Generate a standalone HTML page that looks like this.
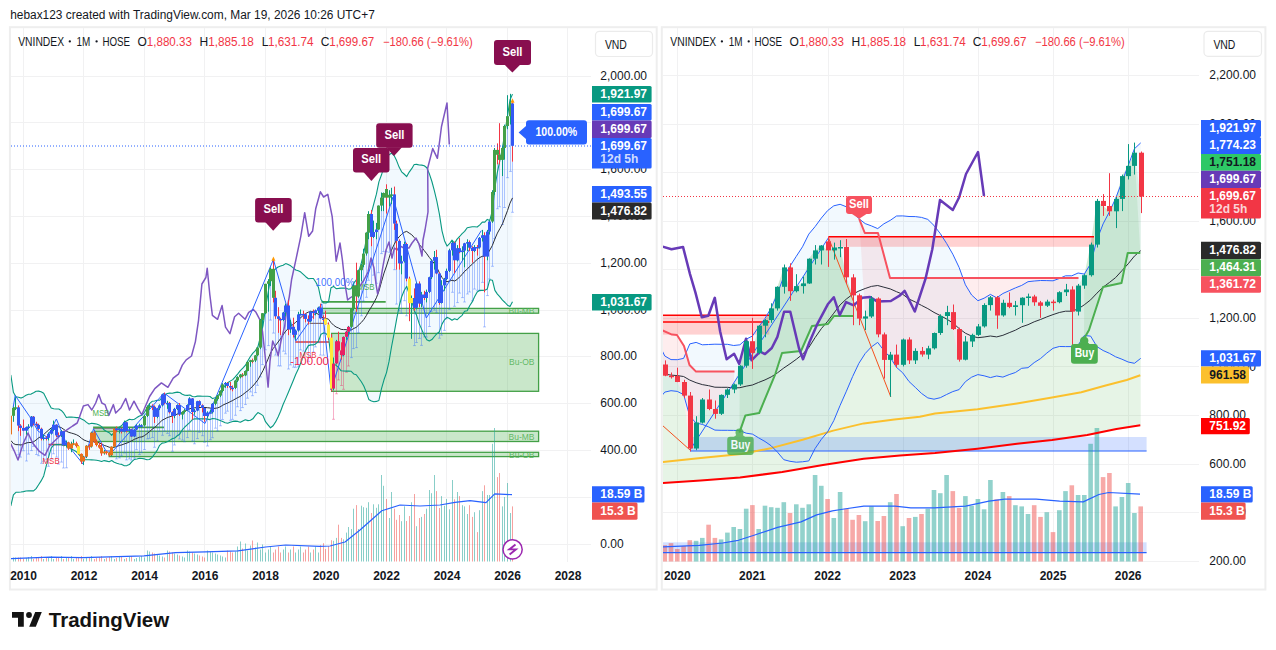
<!DOCTYPE html><html><head><meta charset="utf-8"><style>html,body{margin:0;padding:0;background:#fff;overflow:hidden}svg{display:block;font-family:"Liberation Sans",sans-serif}</style></head><body>
<svg width="1276" height="650" viewBox="0 0 1276 650">
<rect x="0.0" y="0.0" width="1276.0" height="650.0" fill="#ffffff" fill-opacity="1" />
<text x="10.2" y="18.8" font-size="12" fill="#131722" text-anchor="start" font-weight="normal" textLength="364.6" lengthAdjust="spacingAndGlyphs">hebax123 created with TradingView.com, Mar 19, 2026 10:26 UTC+7</text>
<rect x="9.9" y="27.2" width="646.8" height="562.3" fill="none" stroke="#eeeeee" stroke-width="2"/>
<rect x="661.8" y="27.2" width="603.6" height="562.3" fill="none" stroke="#eeeeee" stroke-width="2"/>
<clipPath id="cr"><rect x="663" y="28" width="536" height="534"/></clipPath>
<line x1="663.0" y1="561.5" x2="1199.0" y2="561.5" stroke="#f1f1f2" stroke-width="1" />
<line x1="663.0" y1="512.5" x2="1199.0" y2="512.5" stroke="#f1f1f2" stroke-width="1" />
<line x1="663.0" y1="464.5" x2="1199.0" y2="464.5" stroke="#f1f1f2" stroke-width="1" />
<line x1="663.0" y1="415.5" x2="1199.0" y2="415.5" stroke="#f1f1f2" stroke-width="1" />
<line x1="663.0" y1="366.5" x2="1199.0" y2="366.5" stroke="#f1f1f2" stroke-width="1" />
<line x1="663.0" y1="318.5" x2="1199.0" y2="318.5" stroke="#f1f1f2" stroke-width="1" />
<line x1="663.0" y1="269.5" x2="1199.0" y2="269.5" stroke="#f1f1f2" stroke-width="1" />
<line x1="663.0" y1="221.5" x2="1199.0" y2="221.5" stroke="#f1f1f2" stroke-width="1" />
<line x1="663.0" y1="172.5" x2="1199.0" y2="172.5" stroke="#f1f1f2" stroke-width="1" />
<line x1="663.0" y1="124.5" x2="1199.0" y2="124.5" stroke="#f1f1f2" stroke-width="1" />
<line x1="663.0" y1="75.5" x2="1199.0" y2="75.5" stroke="#f1f1f2" stroke-width="1" />
<line x1="677.5" y1="28.0" x2="677.5" y2="562.0" stroke="#f1f1f2" stroke-width="1" />
<line x1="752.5" y1="28.0" x2="752.5" y2="562.0" stroke="#f1f1f2" stroke-width="1" />
<line x1="828.5" y1="28.0" x2="828.5" y2="562.0" stroke="#f1f1f2" stroke-width="1" />
<line x1="903.5" y1="28.0" x2="903.5" y2="562.0" stroke="#f1f1f2" stroke-width="1" />
<line x1="978.5" y1="28.0" x2="978.5" y2="562.0" stroke="#f1f1f2" stroke-width="1" />
<line x1="1053.5" y1="28.0" x2="1053.5" y2="562.0" stroke="#f1f1f2" stroke-width="1" />
<line x1="1128.5" y1="28.0" x2="1128.5" y2="562.0" stroke="#f1f1f2" stroke-width="1" />
<g clip-path="url(#cr)">
<polygon points="658.5,343.3 664.8,356.0 671.0,359.6 677.3,359.7 683.6,358.4 689.8,343.9 696.1,342.4 702.3,344.8 708.6,344.5 714.9,344.2 721.1,344.3 727.4,344.3 733.7,345.5 739.9,344.8 746.2,339.2 752.4,336.0 758.7,326.9 765.0,318.4 771.2,307.9 777.5,293.5 783.8,276.3 790.0,266.2 796.3,256.3 802.5,246.8 808.8,234.1 815.1,226.6 821.3,218.1 827.6,210.6 833.8,205.8 840.1,204.3 846.4,206.8 852.6,211.9 858.9,218.7 865.2,223.6 871.4,225.9 877.7,228.6 883.9,223.8 890.2,220.4 896.5,216.0 902.7,215.9 909.0,216.5 915.3,216.6 921.5,217.4 927.8,219.4 934.0,225.5 940.3,233.6 946.6,243.4 952.8,254.2 959.1,267.4 965.4,284.8 971.6,295.0 977.9,300.7 984.1,298.2 990.4,294.4 996.7,297.8 1002.9,293.5 1009.2,290.7 1015.4,287.9 1021.7,285.4 1028.0,281.7 1034.2,281.0 1040.5,280.5 1046.8,280.6 1053.0,280.8 1059.3,278.5 1065.5,275.8 1071.8,275.8 1078.1,273.0 1084.3,274.1 1090.6,263.8 1096.9,239.9 1103.1,223.9 1109.4,211.8 1115.6,198.5 1121.9,182.1 1128.2,165.6 1134.4,148.8 1140.7,142.9 1140.7,358.4 1134.4,363.3 1128.2,362.0 1121.9,359.2 1115.6,356.8 1109.4,353.3 1103.1,350.5 1096.9,346.6 1090.6,336.1 1084.3,335.5 1078.1,345.1 1071.8,346.6 1065.5,346.6 1059.3,346.5 1053.0,348.3 1046.8,353.1 1040.5,358.6 1034.2,362.6 1028.0,367.7 1021.7,368.3 1015.4,372.5 1009.2,374.6 1002.9,377.1 996.7,376.0 990.4,377.6 984.1,375.8 977.9,374.6 971.6,377.2 965.4,381.7 959.1,389.6 952.8,391.6 946.6,394.5 940.3,397.7 934.0,399.2 927.8,397.9 921.5,393.4 915.3,387.4 909.0,381.5 902.7,372.8 896.5,367.4 890.2,357.4 883.9,350.5 877.7,342.4 871.4,346.9 865.2,353.5 858.9,363.3 852.6,376.6 846.4,391.2 840.1,405.4 833.8,420.6 827.6,431.9 821.3,439.4 815.1,448.5 808.8,460.9 802.5,461.8 796.3,462.2 790.0,461.3 783.8,459.7 777.5,452.2 771.2,445.8 765.0,441.5 758.7,437.9 752.4,434.1 746.2,433.2 739.9,430.6 733.7,430.4 727.4,430.3 721.1,430.3 714.9,430.1 708.6,426.9 702.3,424.4 696.1,423.0 689.8,416.3 683.6,394.6 677.3,391.4 671.0,390.7 664.8,392.1 658.5,399.7" fill="#2196f3" fill-opacity="0.06" />
<polygon points="658.5,364.5 664.8,375.7 671.0,375.9 677.3,382.0 683.6,395.6 689.8,448.5 696.1,422.5 702.3,399.5 708.6,409.0 714.9,413.8 721.1,394.9 727.4,389.5 733.7,384.4 739.9,365.7 746.2,341.2 752.4,352.9 758.7,325.7 765.0,320.1 771.2,308.4 777.5,286.8 783.8,267.4 790.0,291.2 796.3,286.1 802.5,283.4 808.8,258.7 815.1,250.4 821.3,245.5 827.6,250.4 833.8,247.5 840.1,247.0 846.4,277.4 852.6,295.3 858.9,318.6 865.2,316.4 871.4,298.5 877.7,334.4 883.9,359.9 890.2,354.6 896.5,364.8 902.7,339.5 909.0,360.4 915.3,350.9 921.5,354.6 927.8,348.3 934.0,333.0 940.3,316.0 946.6,312.1 952.8,329.1 959.1,359.7 965.4,341.5 971.6,334.9 977.9,326.4 984.1,305.0 990.4,297.3 996.7,315.5 1002.9,302.8 1009.2,307.0 1015.4,305.3 1021.7,297.7 1028.0,296.5 1034.2,302.4 1040.5,305.8 1046.8,301.6 1053.0,302.1 1059.3,292.2 1065.5,289.5 1071.8,311.6 1078.1,285.6 1084.3,275.2 1090.6,244.6 1096.9,200.9 1103.1,206.0 1109.4,211.3 1115.6,198.9 1121.9,176.1 1128.2,165.9 1134.4,152.7 1140.7,196.6 1140.7,425.3 1134.4,426.2 1128.2,427.2 1121.9,428.2 1115.6,429.3 1109.4,430.5 1103.1,431.8 1096.9,433.0 1090.6,434.3 1084.3,435.4 1078.1,436.3 1071.8,437.2 1065.5,438.1 1059.3,439.0 1053.0,439.9 1046.8,440.6 1040.5,441.2 1034.2,441.9 1028.0,442.6 1021.7,443.3 1015.4,444.0 1009.2,444.8 1002.9,445.5 996.7,446.3 990.4,447.1 984.1,447.9 977.9,448.7 971.6,449.3 965.4,450.0 959.1,450.6 952.8,451.3 946.6,451.9 940.3,452.6 934.0,453.2 927.8,453.6 921.5,454.1 915.3,454.5 909.0,455.0 902.7,455.4 896.5,455.9 890.2,456.4 883.9,457.0 877.7,457.5 871.4,458.0 865.2,458.6 858.9,459.4 852.6,460.4 846.4,461.4 840.1,462.4 833.8,463.3 827.6,464.3 821.3,465.3 815.1,466.4 808.8,467.4 802.5,468.5 796.3,469.6 790.0,470.7 783.8,471.7 777.5,472.6 771.2,473.4 765.0,474.2 758.7,475.1 752.4,475.9 746.2,476.7 739.9,477.5 733.7,478.0 727.4,478.5 721.1,478.9 714.9,479.4 708.6,479.9 702.3,480.4 696.1,480.8 689.8,481.2 683.6,481.7 677.3,482.1 671.0,482.5 664.8,482.9 658.5,483.5" fill="#4caf50" fill-opacity="0.14" />
<polygon points="655.0,328.0 662.3,330.4 672.0,334.6 677.0,335.0 684.0,346.0 689.5,365.0 696.0,371.6 734.5,371.6 733.7,384.4 727.4,389.5 721.1,394.9 714.9,413.8 708.6,409.0 702.3,399.5 696.1,422.5 689.8,448.5 683.6,395.6 677.3,382.0 671.0,375.9 664.8,375.7 658.5,364.5" fill="#f23645" fill-opacity="0.09" />
<polygon points="859.2,218.8 864.8,233.0 878.0,233.0 890.0,278.0 1078.5,278.0 1078.1,285.6 1071.8,311.6 1065.5,289.5 1059.3,292.2 1053.0,302.1 1046.8,301.6 1040.5,305.8 1034.2,302.4 1028.0,296.5 1021.7,297.7 1015.4,305.3 1009.2,307.0 1002.9,302.8 996.7,315.5 990.4,297.3 984.1,305.0 977.9,326.4 971.6,334.9 965.4,341.5 959.1,359.7 952.8,329.1 946.6,312.1 940.3,316.0 934.0,333.0 927.8,348.3 921.5,354.6 915.3,350.9 909.0,360.4 902.7,339.5 896.5,364.8 890.2,354.6 883.9,359.9 877.7,334.4 871.4,298.5 865.2,316.4" fill="#f23645" fill-opacity="0.09" />
<polygon points="739.4,432.6 745.4,415.4 759.2,413.0 775.4,373.8 782.0,353.0 801.0,351.0 812.0,326.0 828.0,324.0 834.0,316.0 853.6,316.0 852.6,295.3 846.4,277.4 840.1,247.0 833.8,247.5 827.6,250.4 821.3,245.5 815.1,250.4 808.8,258.7 802.5,283.4 796.3,286.1 790.0,291.2 783.8,267.4 777.5,286.8 771.2,308.4 765.0,320.1 758.7,325.7 752.4,352.9 746.2,341.2 739.9,365.7" fill="#4caf50" fill-opacity="0.12" />
<polygon points="1084.0,338.8 1089.0,330.0 1103.0,287.0 1121.5,283.0 1127.7,253.0 1140.3,253.0 1134.4,152.7 1128.2,165.9 1121.9,176.1 1115.6,198.9 1109.4,211.3 1103.1,206.0 1096.9,200.9 1090.6,244.6 1084.3,275.2" fill="#4caf50" fill-opacity="0.12" />
<rect x="662.0" y="315.2" width="107.3" height="19.4" fill="#ff0000" fill-opacity="0.18" />
<line x1="662.0" y1="315.2" x2="769.3" y2="315.2" stroke="#ff0000" stroke-width="1.5" />
<line x1="662.0" y1="322.1" x2="769.3" y2="322.1" stroke="#ff0000" stroke-width="1.5" />
<rect x="828.5" y="236.8" width="265.5" height="10.0" fill="#ff0000" fill-opacity="0.18" />
<line x1="828.5" y1="236.8" x2="1094.0" y2="236.8" stroke="#ff0000" stroke-width="1.5" />
<rect x="690.0" y="437.0" width="456.6" height="14.0" fill="#2962ff" fill-opacity="0.2" />
<line x1="690.0" y1="451.0" x2="1146.6" y2="451.0" stroke="#2962ff" stroke-width="1.2" />
<rect x="662.0" y="542.3" width="484.6" height="10.3" fill="#2962ff" fill-opacity="0.2" />
<rect x="662.5" y="545.2" width="4.6" height="16.3" fill="#ef5350" fill-opacity="0.5" />
<rect x="668.7" y="543.2" width="4.6" height="18.3" fill="#ef5350" fill-opacity="0.5" />
<rect x="675.0" y="549.0" width="4.6" height="12.5" fill="#ef5350" fill-opacity="0.5" />
<rect x="681.3" y="546.0" width="4.6" height="15.5" fill="#ef5350" fill-opacity="0.5" />
<rect x="687.5" y="540.2" width="4.6" height="21.3" fill="#ef5350" fill-opacity="0.5" />
<rect x="693.8" y="540.8" width="4.6" height="20.7" fill="#26a69a" fill-opacity="0.5" />
<rect x="700.0" y="537.9" width="4.6" height="23.6" fill="#26a69a" fill-opacity="0.5" />
<rect x="706.3" y="524.7" width="4.6" height="36.8" fill="#ef5350" fill-opacity="0.5" />
<rect x="712.6" y="537.9" width="4.6" height="23.6" fill="#ef5350" fill-opacity="0.5" />
<rect x="718.8" y="539.4" width="4.6" height="22.1" fill="#26a69a" fill-opacity="0.5" />
<rect x="725.1" y="532.6" width="4.6" height="28.9" fill="#26a69a" fill-opacity="0.5" />
<rect x="731.4" y="527.0" width="4.6" height="34.5" fill="#26a69a" fill-opacity="0.5" />
<rect x="737.6" y="529.0" width="4.6" height="32.5" fill="#26a69a" fill-opacity="0.5" />
<rect x="743.9" y="508.7" width="4.6" height="52.8" fill="#26a69a" fill-opacity="0.5" />
<rect x="750.1" y="505.1" width="4.6" height="56.4" fill="#ef5350" fill-opacity="0.5" />
<rect x="756.4" y="529.0" width="4.6" height="32.5" fill="#26a69a" fill-opacity="0.5" />
<rect x="762.7" y="505.7" width="4.6" height="55.8" fill="#26a69a" fill-opacity="0.5" />
<rect x="768.9" y="507.2" width="4.6" height="54.3" fill="#26a69a" fill-opacity="0.5" />
<rect x="775.2" y="507.8" width="4.6" height="53.7" fill="#26a69a" fill-opacity="0.5" />
<rect x="781.5" y="502.2" width="4.6" height="59.3" fill="#26a69a" fill-opacity="0.5" />
<rect x="787.7" y="513.0" width="4.6" height="48.5" fill="#ef5350" fill-opacity="0.5" />
<rect x="794.0" y="504.3" width="4.6" height="57.2" fill="#26a69a" fill-opacity="0.5" />
<rect x="800.2" y="507.8" width="4.6" height="53.7" fill="#26a69a" fill-opacity="0.5" />
<rect x="806.5" y="504.3" width="4.6" height="57.2" fill="#26a69a" fill-opacity="0.5" />
<rect x="812.8" y="475.0" width="4.6" height="86.5" fill="#26a69a" fill-opacity="0.5" />
<rect x="819.0" y="485.8" width="4.6" height="75.7" fill="#26a69a" fill-opacity="0.5" />
<rect x="825.3" y="499.0" width="4.6" height="62.5" fill="#ef5350" fill-opacity="0.5" />
<rect x="831.5" y="518.0" width="4.6" height="43.5" fill="#26a69a" fill-opacity="0.5" />
<rect x="837.8" y="492.0" width="4.6" height="69.5" fill="#26a69a" fill-opacity="0.5" />
<rect x="844.1" y="508.7" width="4.6" height="52.8" fill="#ef5350" fill-opacity="0.5" />
<rect x="850.3" y="519.8" width="4.6" height="41.7" fill="#ef5350" fill-opacity="0.5" />
<rect x="856.6" y="515.0" width="4.6" height="46.5" fill="#ef5350" fill-opacity="0.5" />
<rect x="862.9" y="521.2" width="4.6" height="40.3" fill="#26a69a" fill-opacity="0.5" />
<rect x="869.1" y="506.3" width="4.6" height="55.2" fill="#26a69a" fill-opacity="0.5" />
<rect x="875.4" y="521.0" width="4.6" height="40.5" fill="#ef5350" fill-opacity="0.5" />
<rect x="881.6" y="516.0" width="4.6" height="45.5" fill="#ef5350" fill-opacity="0.5" />
<rect x="887.9" y="502.2" width="4.6" height="59.3" fill="#26a69a" fill-opacity="0.5" />
<rect x="894.2" y="494.0" width="4.6" height="67.5" fill="#ef5350" fill-opacity="0.5" />
<rect x="900.4" y="526.2" width="4.6" height="35.3" fill="#26a69a" fill-opacity="0.5" />
<rect x="906.7" y="518.0" width="4.6" height="43.5" fill="#ef5350" fill-opacity="0.5" />
<rect x="913.0" y="516.9" width="4.6" height="44.6" fill="#26a69a" fill-opacity="0.5" />
<rect x="919.2" y="514.0" width="4.6" height="47.5" fill="#ef5350" fill-opacity="0.5" />
<rect x="925.5" y="508.7" width="4.6" height="52.8" fill="#26a69a" fill-opacity="0.5" />
<rect x="931.7" y="490.0" width="4.6" height="71.5" fill="#26a69a" fill-opacity="0.5" />
<rect x="938.0" y="493.2" width="4.6" height="68.3" fill="#26a69a" fill-opacity="0.5" />
<rect x="944.3" y="475.0" width="4.6" height="86.5" fill="#26a69a" fill-opacity="0.5" />
<rect x="950.5" y="491.1" width="4.6" height="70.4" fill="#ef5350" fill-opacity="0.5" />
<rect x="956.8" y="508.0" width="4.6" height="53.5" fill="#ef5350" fill-opacity="0.5" />
<rect x="963.1" y="496.1" width="4.6" height="65.4" fill="#26a69a" fill-opacity="0.5" />
<rect x="969.3" y="505.8" width="4.6" height="55.7" fill="#26a69a" fill-opacity="0.5" />
<rect x="975.6" y="499.0" width="4.6" height="62.5" fill="#26a69a" fill-opacity="0.5" />
<rect x="981.8" y="509.3" width="4.6" height="52.2" fill="#26a69a" fill-opacity="0.5" />
<rect x="988.1" y="480.0" width="4.6" height="81.5" fill="#26a69a" fill-opacity="0.5" />
<rect x="994.4" y="499.3" width="4.6" height="62.2" fill="#ef5350" fill-opacity="0.5" />
<rect x="1000.6" y="492.0" width="4.6" height="69.5" fill="#26a69a" fill-opacity="0.5" />
<rect x="1006.9" y="496.1" width="4.6" height="65.4" fill="#ef5350" fill-opacity="0.5" />
<rect x="1013.1" y="505.2" width="4.6" height="56.3" fill="#26a69a" fill-opacity="0.5" />
<rect x="1019.4" y="506.4" width="4.6" height="55.1" fill="#26a69a" fill-opacity="0.5" />
<rect x="1025.7" y="514.0" width="4.6" height="47.5" fill="#26a69a" fill-opacity="0.5" />
<rect x="1031.9" y="505.2" width="4.6" height="56.3" fill="#ef5350" fill-opacity="0.5" />
<rect x="1038.2" y="516.9" width="4.6" height="44.6" fill="#ef5350" fill-opacity="0.5" />
<rect x="1044.5" y="512.2" width="4.6" height="49.3" fill="#26a69a" fill-opacity="0.5" />
<rect x="1050.7" y="532.1" width="4.6" height="29.4" fill="#ef5350" fill-opacity="0.5" />
<rect x="1057.0" y="510.2" width="4.6" height="51.3" fill="#26a69a" fill-opacity="0.5" />
<rect x="1063.2" y="491.1" width="4.6" height="70.4" fill="#26a69a" fill-opacity="0.5" />
<rect x="1069.5" y="485.3" width="4.6" height="76.2" fill="#ef5350" fill-opacity="0.5" />
<rect x="1075.8" y="495.0" width="4.6" height="66.5" fill="#26a69a" fill-opacity="0.5" />
<rect x="1082.0" y="495.0" width="4.6" height="66.5" fill="#26a69a" fill-opacity="0.5" />
<rect x="1088.3" y="443.8" width="4.6" height="117.7" fill="#26a69a" fill-opacity="0.5" />
<rect x="1094.6" y="428.0" width="4.6" height="133.5" fill="#26a69a" fill-opacity="0.5" />
<rect x="1100.8" y="477.1" width="4.6" height="84.4" fill="#ef5350" fill-opacity="0.5" />
<rect x="1107.1" y="473.0" width="4.6" height="88.5" fill="#ef5350" fill-opacity="0.5" />
<rect x="1113.3" y="506.4" width="4.6" height="55.1" fill="#26a69a" fill-opacity="0.5" />
<rect x="1119.6" y="497.0" width="4.6" height="64.5" fill="#26a69a" fill-opacity="0.5" />
<rect x="1125.9" y="483.0" width="4.6" height="78.5" fill="#26a69a" fill-opacity="0.5" />
<rect x="1132.1" y="513.0" width="4.6" height="48.5" fill="#26a69a" fill-opacity="0.5" />
<rect x="1138.4" y="506.4" width="4.6" height="55.1" fill="#ef5350" fill-opacity="0.5" />
<polyline points="662.0,547.0 699.2,545.4 722.7,543.0 738.4,540.3 754.0,535.2 777.6,527.4 801.0,521.9 816.7,514.9 832.4,510.9 844.2,509.0 863.8,506.2 895.0,506.2 910.8,507.8 934.3,507.8 965.6,506.2 989.0,501.1 1004.8,499.2 1036.2,499.2 1059.7,501.1 1083.2,501.9 1098.9,494.5 1108.7,492.5 1140.0,494.1" fill="none" stroke="#2962ff" stroke-width="1.2" stroke-linejoin="round" />
<line x1="662.0" y1="552.6" x2="1146.6" y2="552.6" stroke="#2962ff" stroke-width="1.2" />
<polyline points="655.0,463.0 662.0,462.1 700.7,458.0 741.5,454.0 772.0,447.9 802.6,439.7 833.2,430.6 863.7,423.4 894.3,419.4 919.8,416.7 935.0,413.6 977.5,409.2 1017.0,403.4 1052.0,397.5 1081.3,392.3 1104.7,385.8 1126.7,380.0 1140.3,375.3" fill="none" stroke="#fbc02d" stroke-width="2" stroke-linejoin="round" />
<polyline points="655.0,484.0 662.0,483.1 700.7,480.5 740.0,477.5 782.2,472.0 823.0,465.0 863.7,458.7 900.0,455.6 935.0,453.1 977.5,448.7 1017.0,443.8 1052.0,440.0 1087.2,435.0 1116.4,429.1 1140.3,425.3" fill="none" stroke="#ff0000" stroke-width="2" stroke-linejoin="round" />
<polyline points="658.5,343.3 664.8,356.0 671.0,359.6 677.3,359.7 683.6,358.4 689.8,343.9 696.1,342.4 702.3,344.8 708.6,344.5 714.9,344.2 721.1,344.3 727.4,344.3 733.7,345.5 739.9,344.8 746.2,339.2 752.4,336.0 758.7,326.9 765.0,318.4 771.2,307.9 777.5,293.5 783.8,276.3 790.0,266.2 796.3,256.3 802.5,246.8 808.8,234.1 815.1,226.6 821.3,218.1 827.6,210.6 833.8,205.8 840.1,204.3 846.4,206.8 852.6,211.9 858.9,218.7 865.2,223.6 871.4,225.9 877.7,228.6 883.9,223.8 890.2,220.4 896.5,216.0 902.7,215.9 909.0,216.5 915.3,216.6 921.5,217.4 927.8,219.4 934.0,225.5 940.3,233.6 946.6,243.4 952.8,254.2 959.1,267.4 965.4,284.8 971.6,295.0 977.9,300.7 984.1,298.2 990.4,294.4 996.7,297.8 1002.9,293.5 1009.2,290.7 1015.4,287.9 1021.7,285.4 1028.0,281.7 1034.2,281.0 1040.5,280.5 1046.8,280.6 1053.0,280.8 1059.3,278.5 1065.5,275.8 1071.8,275.8 1078.1,273.0 1084.3,274.1 1090.6,263.8 1096.9,239.9 1103.1,223.9 1109.4,211.8 1115.6,198.5 1121.9,182.1 1128.2,165.6 1134.4,148.8 1140.7,142.9" fill="none" stroke="#2962ff" stroke-width="1" stroke-linejoin="round" />
<polyline points="658.5,399.7 664.8,392.1 671.0,390.7 677.3,391.4 683.6,394.6 689.8,416.3 696.1,423.0 702.3,424.4 708.6,426.9 714.9,430.1 721.1,430.3 727.4,430.3 733.7,430.4 739.9,430.6 746.2,433.2 752.4,434.1 758.7,437.9 765.0,441.5 771.2,445.8 777.5,452.2 783.8,459.7 790.0,461.3 796.3,462.2 802.5,461.8 808.8,460.9 815.1,448.5 821.3,439.4 827.6,431.9 833.8,420.6 840.1,405.4 846.4,391.2 852.6,376.6 858.9,363.3 865.2,353.5 871.4,346.9 877.7,342.4 883.9,350.5 890.2,357.4 896.5,367.4 902.7,372.8 909.0,381.5 915.3,387.4 921.5,393.4 927.8,397.9 934.0,399.2 940.3,397.7 946.6,394.5 952.8,391.6 959.1,389.6 965.4,381.7 971.6,377.2 977.9,374.6 984.1,375.8 990.4,377.6 996.7,376.0 1002.9,377.1 1009.2,374.6 1015.4,372.5 1021.7,368.3 1028.0,367.7 1034.2,362.6 1040.5,358.6 1046.8,353.1 1053.0,348.3 1059.3,346.5 1065.5,346.6 1071.8,346.6 1078.1,345.1 1084.3,335.5 1090.6,336.1 1096.9,346.6 1103.1,350.5 1109.4,353.3 1115.6,356.8 1121.9,359.2 1128.2,362.0 1134.4,363.3 1140.7,358.4" fill="none" stroke="#2962ff" stroke-width="1" stroke-linejoin="round" />
<polyline points="658.5,371.5 664.8,374.1 671.0,375.1 677.3,375.6 683.6,376.5 689.8,380.1 696.1,382.7 702.3,384.6 708.6,385.7 714.9,387.2 721.1,387.3 727.4,387.3 733.7,388.0 739.9,387.7 746.2,386.2 752.4,385.0 758.7,382.4 765.0,379.9 771.2,376.9 777.5,372.8 783.8,368.0 790.0,363.8 796.3,359.3 802.5,354.3 808.8,347.5 815.1,337.6 821.3,328.7 827.6,321.3 833.8,313.2 840.1,304.9 846.4,299.0 852.6,294.3 858.9,291.0 865.2,288.5 871.4,286.4 877.7,285.5 883.9,287.2 890.2,288.9 896.5,291.7 902.7,294.3 909.0,299.0 915.3,302.0 921.5,305.4 927.8,308.6 934.0,312.4 940.3,315.6 946.6,319.0 952.8,322.9 959.1,328.5 965.4,333.2 971.6,336.1 977.9,337.7 984.1,337.0 990.4,336.0 996.7,336.9 1002.9,335.3 1009.2,332.7 1015.4,330.2 1021.7,326.8 1028.0,324.7 1034.2,321.8 1040.5,319.5 1046.8,316.9 1053.0,314.6 1059.3,312.5 1065.5,311.2 1071.8,311.2 1078.1,309.0 1084.3,304.8 1090.6,299.9 1096.9,293.2 1103.1,287.2 1109.4,282.5 1115.6,277.6 1121.9,270.7 1128.2,263.8 1134.4,256.1 1140.7,250.7" fill="none" stroke="#2a2e39" stroke-width="1" stroke-linejoin="round" />
<polyline points="655.0,328.0 662.3,330.4 672.0,334.6 677.0,335.0 684.0,346.0 689.5,365.0 696.0,371.6 734.5,371.6" fill="none" stroke="#f7525f" stroke-width="2" stroke-linejoin="round" />
<polyline points="859.2,218.8 864.8,233.0 878.0,233.0 890.0,278.0 1078.5,278.0" fill="none" stroke="#f7525f" stroke-width="2" stroke-linejoin="round" />
<polyline points="739.4,432.6 745.4,415.4 759.2,413.0 775.4,373.8 782.0,353.0 801.0,351.0 812.0,326.0 828.0,324.0 834.0,316.0 853.6,316.0" fill="none" stroke="#4caf50" stroke-width="2" stroke-linejoin="round" />
<polyline points="1084.0,338.8 1089.0,330.0 1103.0,287.0 1121.5,283.0 1127.7,253.0 1140.3,253.0" fill="none" stroke="#4caf50" stroke-width="2" stroke-linejoin="round" />
<polyline points="655.0,419.0 662.3,425.3 690.0,450.0" fill="none" stroke="#f4511e" stroke-width="1" stroke-linejoin="round" />
<polyline points="690.0,450.0 828.5,237.7" fill="none" stroke="#2962ff" stroke-width="1" stroke-linejoin="round" />
<polyline points="828.5,237.7 890.8,396.9" fill="none" stroke="#f4511e" stroke-width="1" stroke-linejoin="round" />
<polyline points="662.0,246.5 671.5,249.2 683.0,246.9 690.0,274.1 695.4,292.4 701.8,317.2 708.3,315.7 714.8,297.8 720.1,331.2 726.6,359.2 734.1,353.8 739.2,364.0 746.0,338.7 751.5,360.3 760.1,351.7 765.0,354.1 771.8,348.0 777.4,336.9 784.1,311.7 790.3,311.7 798.9,348.0 803.0,359.2 809.5,342.0 817.0,324.7 827.8,304.3 833.8,297.2 839.7,315.1 846.1,302.1 853.7,305.4 862.3,297.8 870.0,297.0 877.0,301.4 890.8,301.0 900.0,295.4 904.6,290.8 914.8,311.5 925.4,279.2 932.3,249.2 940.0,200.0 952.8,210.0 959.2,197.2 966.0,174.0 978.0,152.0 984.0,196.0" fill="none" stroke="#673ab7" stroke-width="2.5" stroke-linejoin="round" />
<line x1="659.5" y1="363.5" x2="659.5" y2="370.1" stroke="#089981" stroke-width="1" />
<rect x="657.0" y="364.5" width="5.0" height="2.9" fill="#089981" fill-opacity="1" />
<line x1="665.5" y1="360.4" x2="665.5" y2="376.2" stroke="#f23645" stroke-width="1" />
<rect x="663.0" y="364.5" width="5.0" height="11.2" fill="#f23645" fill-opacity="1" />
<line x1="671.5" y1="372.5" x2="671.5" y2="378.6" stroke="#f23645" stroke-width="1" />
<rect x="669.0" y="375.7" width="5.0" height="1.5" fill="#f23645" fill-opacity="1" />
<line x1="677.5" y1="367.7" x2="677.5" y2="382.2" stroke="#f23645" stroke-width="1" />
<rect x="675.0" y="375.9" width="5.0" height="6.1" fill="#f23645" fill-opacity="1" />
<line x1="684.5" y1="379.8" x2="684.5" y2="398.0" stroke="#f23645" stroke-width="1" />
<rect x="682.0" y="382.0" width="5.0" height="13.6" fill="#f23645" fill-opacity="1" />
<line x1="690.5" y1="392.0" x2="690.5" y2="451.4" stroke="#f23645" stroke-width="1" />
<rect x="688.0" y="395.6" width="5.0" height="52.9" fill="#f23645" fill-opacity="1" />
<line x1="696.5" y1="416.2" x2="696.5" y2="450.2" stroke="#089981" stroke-width="1" />
<rect x="694.0" y="422.5" width="5.0" height="26.0" fill="#089981" fill-opacity="1" />
<line x1="702.5" y1="398.0" x2="702.5" y2="423.5" stroke="#089981" stroke-width="1" />
<rect x="700.0" y="399.5" width="5.0" height="23.1" fill="#089981" fill-opacity="1" />
<line x1="709.5" y1="389.5" x2="709.5" y2="410.2" stroke="#f23645" stroke-width="1" />
<rect x="707.0" y="399.5" width="5.0" height="9.5" fill="#f23645" fill-opacity="1" />
<line x1="715.5" y1="400.5" x2="715.5" y2="418.7" stroke="#f23645" stroke-width="1" />
<rect x="713.0" y="409.0" width="5.0" height="4.9" fill="#f23645" fill-opacity="1" />
<line x1="721.5" y1="394.4" x2="721.5" y2="415.0" stroke="#089981" stroke-width="1" />
<rect x="719.0" y="394.9" width="5.0" height="18.9" fill="#089981" fill-opacity="1" />
<line x1="727.5" y1="388.3" x2="727.5" y2="398.0" stroke="#089981" stroke-width="1" />
<rect x="725.0" y="389.5" width="5.0" height="5.3" fill="#089981" fill-opacity="1" />
<line x1="734.5" y1="383.5" x2="734.5" y2="393.2" stroke="#089981" stroke-width="1" />
<rect x="732.0" y="384.4" width="5.0" height="5.1" fill="#089981" fill-opacity="1" />
<line x1="740.5" y1="365.2" x2="740.5" y2="385.9" stroke="#089981" stroke-width="1" />
<rect x="738.0" y="365.7" width="5.0" height="18.7" fill="#089981" fill-opacity="1" />
<line x1="746.5" y1="339.8" x2="746.5" y2="367.7" stroke="#089981" stroke-width="1" />
<rect x="744.0" y="341.2" width="5.0" height="24.5" fill="#089981" fill-opacity="1" />
<line x1="752.5" y1="317.9" x2="752.5" y2="368.9" stroke="#f23645" stroke-width="1" />
<rect x="750.0" y="341.2" width="5.0" height="11.7" fill="#f23645" fill-opacity="1" />
<line x1="759.5" y1="325.2" x2="759.5" y2="354.3" stroke="#089981" stroke-width="1" />
<rect x="757.0" y="325.7" width="5.0" height="27.2" fill="#089981" fill-opacity="1" />
<line x1="765.5" y1="319.1" x2="765.5" y2="337.3" stroke="#089981" stroke-width="1" />
<rect x="763.0" y="320.1" width="5.0" height="5.6" fill="#089981" fill-opacity="1" />
<line x1="771.5" y1="303.3" x2="771.5" y2="322.8" stroke="#089981" stroke-width="1" />
<rect x="769.0" y="308.4" width="5.0" height="11.7" fill="#089981" fill-opacity="1" />
<line x1="777.5" y1="286.3" x2="777.5" y2="310.6" stroke="#089981" stroke-width="1" />
<rect x="775.0" y="286.8" width="5.0" height="21.6" fill="#089981" fill-opacity="1" />
<line x1="784.5" y1="264.5" x2="784.5" y2="293.6" stroke="#089981" stroke-width="1" />
<rect x="782.0" y="267.4" width="5.0" height="19.4" fill="#089981" fill-opacity="1" />
<line x1="790.5" y1="263.3" x2="790.5" y2="300.9" stroke="#f23645" stroke-width="1" />
<rect x="788.0" y="267.4" width="5.0" height="23.8" fill="#f23645" fill-opacity="1" />
<line x1="796.5" y1="274.2" x2="796.5" y2="292.4" stroke="#089981" stroke-width="1" />
<rect x="794.0" y="286.1" width="5.0" height="5.1" fill="#089981" fill-opacity="1" />
<line x1="803.5" y1="276.6" x2="803.5" y2="293.6" stroke="#089981" stroke-width="1" />
<rect x="801.0" y="283.4" width="5.0" height="2.7" fill="#089981" fill-opacity="1" />
<line x1="809.5" y1="258.4" x2="809.5" y2="283.9" stroke="#089981" stroke-width="1" />
<rect x="807.0" y="258.7" width="5.0" height="24.8" fill="#089981" fill-opacity="1" />
<line x1="815.5" y1="245.1" x2="815.5" y2="264.5" stroke="#089981" stroke-width="1" />
<rect x="813.0" y="250.4" width="5.0" height="8.3" fill="#089981" fill-opacity="1" />
<line x1="821.5" y1="245.1" x2="821.5" y2="264.5" stroke="#089981" stroke-width="1" />
<rect x="819.0" y="245.5" width="5.0" height="4.9" fill="#089981" fill-opacity="1" />
<line x1="828.5" y1="236.6" x2="828.5" y2="266.9" stroke="#f23645" stroke-width="1" />
<rect x="826.0" y="241.4" width="5.0" height="9.0" fill="#f23645" fill-opacity="1" />
<line x1="834.5" y1="242.6" x2="834.5" y2="259.6" stroke="#089981" stroke-width="1" />
<rect x="832.0" y="247.5" width="5.0" height="2.9" fill="#089981" fill-opacity="1" />
<line x1="840.5" y1="240.2" x2="840.5" y2="257.2" stroke="#089981" stroke-width="1" />
<rect x="838.0" y="247.0" width="5.0" height="1.5" fill="#089981" fill-opacity="1" />
<line x1="846.5" y1="239.0" x2="846.5" y2="283.9" stroke="#f23645" stroke-width="1" />
<rect x="844.0" y="247.0" width="5.0" height="30.3" fill="#f23645" fill-opacity="1" />
<line x1="853.5" y1="274.2" x2="853.5" y2="325.2" stroke="#f23645" stroke-width="1" />
<rect x="851.0" y="277.4" width="5.0" height="18.0" fill="#f23645" fill-opacity="1" />
<line x1="859.5" y1="293.6" x2="859.5" y2="325.2" stroke="#f23645" stroke-width="1" />
<rect x="857.0" y="295.3" width="5.0" height="23.3" fill="#f23645" fill-opacity="1" />
<line x1="865.5" y1="310.6" x2="865.5" y2="330.0" stroke="#089981" stroke-width="1" />
<rect x="863.0" y="316.4" width="5.0" height="2.2" fill="#089981" fill-opacity="1" />
<line x1="871.5" y1="296.0" x2="871.5" y2="317.9" stroke="#089981" stroke-width="1" />
<rect x="869.0" y="298.5" width="5.0" height="18.0" fill="#089981" fill-opacity="1" />
<line x1="878.5" y1="297.3" x2="878.5" y2="337.3" stroke="#f23645" stroke-width="1" />
<rect x="876.0" y="298.5" width="5.0" height="35.9" fill="#f23645" fill-opacity="1" />
<line x1="884.5" y1="332.5" x2="884.5" y2="378.6" stroke="#f23645" stroke-width="1" />
<rect x="882.0" y="334.4" width="5.0" height="25.5" fill="#f23645" fill-opacity="1" />
<line x1="890.5" y1="351.9" x2="890.5" y2="396.8" stroke="#089981" stroke-width="1" />
<rect x="888.0" y="354.6" width="5.0" height="5.3" fill="#089981" fill-opacity="1" />
<line x1="896.5" y1="344.6" x2="896.5" y2="367.7" stroke="#f23645" stroke-width="1" />
<rect x="894.0" y="354.6" width="5.0" height="10.2" fill="#f23645" fill-opacity="1" />
<line x1="903.5" y1="338.5" x2="903.5" y2="366.5" stroke="#089981" stroke-width="1" />
<rect x="901.0" y="339.5" width="5.0" height="25.3" fill="#089981" fill-opacity="1" />
<line x1="909.5" y1="337.3" x2="909.5" y2="364.0" stroke="#f23645" stroke-width="1" />
<rect x="907.0" y="339.5" width="5.0" height="20.9" fill="#f23645" fill-opacity="1" />
<line x1="915.5" y1="348.3" x2="915.5" y2="364.0" stroke="#089981" stroke-width="1" />
<rect x="913.0" y="350.9" width="5.0" height="9.5" fill="#089981" fill-opacity="1" />
<line x1="922.5" y1="347.0" x2="922.5" y2="356.7" stroke="#f23645" stroke-width="1" />
<rect x="920.0" y="350.9" width="5.0" height="3.6" fill="#f23645" fill-opacity="1" />
<line x1="928.5" y1="345.8" x2="928.5" y2="359.2" stroke="#089981" stroke-width="1" />
<rect x="926.0" y="348.3" width="5.0" height="6.3" fill="#089981" fill-opacity="1" />
<line x1="934.5" y1="332.5" x2="934.5" y2="349.5" stroke="#089981" stroke-width="1" />
<rect x="932.0" y="333.0" width="5.0" height="15.3" fill="#089981" fill-opacity="1" />
<line x1="940.5" y1="314.3" x2="940.5" y2="334.9" stroke="#089981" stroke-width="1" />
<rect x="938.0" y="316.0" width="5.0" height="17.0" fill="#089981" fill-opacity="1" />
<line x1="947.5" y1="305.8" x2="947.5" y2="325.2" stroke="#089981" stroke-width="1" />
<rect x="945.0" y="312.1" width="5.0" height="3.9" fill="#089981" fill-opacity="1" />
<line x1="953.5" y1="304.5" x2="953.5" y2="330.0" stroke="#f23645" stroke-width="1" />
<rect x="951.0" y="312.1" width="5.0" height="17.0" fill="#f23645" fill-opacity="1" />
<line x1="959.5" y1="327.6" x2="959.5" y2="361.6" stroke="#f23645" stroke-width="1" />
<rect x="957.0" y="329.1" width="5.0" height="30.6" fill="#f23645" fill-opacity="1" />
<line x1="965.5" y1="336.1" x2="965.5" y2="360.4" stroke="#089981" stroke-width="1" />
<rect x="963.0" y="341.5" width="5.0" height="18.2" fill="#089981" fill-opacity="1" />
<line x1="972.5" y1="333.7" x2="972.5" y2="347.0" stroke="#089981" stroke-width="1" />
<rect x="970.0" y="334.9" width="5.0" height="6.6" fill="#089981" fill-opacity="1" />
<line x1="978.5" y1="324.0" x2="978.5" y2="336.1" stroke="#089981" stroke-width="1" />
<rect x="976.0" y="326.4" width="5.0" height="8.5" fill="#089981" fill-opacity="1" />
<line x1="984.5" y1="303.3" x2="984.5" y2="327.6" stroke="#089981" stroke-width="1" />
<rect x="982.0" y="305.0" width="5.0" height="21.4" fill="#089981" fill-opacity="1" />
<line x1="990.5" y1="296.0" x2="990.5" y2="310.6" stroke="#089981" stroke-width="1" />
<rect x="988.0" y="297.3" width="5.0" height="7.8" fill="#089981" fill-opacity="1" />
<line x1="997.5" y1="296.0" x2="997.5" y2="328.8" stroke="#f23645" stroke-width="1" />
<rect x="995.0" y="297.3" width="5.0" height="18.2" fill="#f23645" fill-opacity="1" />
<line x1="1003.5" y1="299.7" x2="1003.5" y2="316.7" stroke="#089981" stroke-width="1" />
<rect x="1001.0" y="302.8" width="5.0" height="12.6" fill="#089981" fill-opacity="1" />
<line x1="1009.5" y1="292.4" x2="1009.5" y2="308.2" stroke="#f23645" stroke-width="1" />
<rect x="1007.0" y="302.8" width="5.0" height="4.1" fill="#f23645" fill-opacity="1" />
<line x1="1015.5" y1="300.9" x2="1015.5" y2="315.5" stroke="#089981" stroke-width="1" />
<rect x="1013.0" y="305.3" width="5.0" height="1.7" fill="#089981" fill-opacity="1" />
<line x1="1022.5" y1="297.3" x2="1022.5" y2="322.8" stroke="#089981" stroke-width="1" />
<rect x="1020.0" y="297.7" width="5.0" height="7.5" fill="#089981" fill-opacity="1" />
<line x1="1028.5" y1="293.6" x2="1028.5" y2="305.8" stroke="#089981" stroke-width="1" />
<rect x="1026.0" y="296.5" width="5.0" height="1.5" fill="#089981" fill-opacity="1" />
<line x1="1034.5" y1="294.8" x2="1034.5" y2="305.8" stroke="#f23645" stroke-width="1" />
<rect x="1032.0" y="296.5" width="5.0" height="5.8" fill="#f23645" fill-opacity="1" />
<line x1="1040.5" y1="300.9" x2="1040.5" y2="317.9" stroke="#f23645" stroke-width="1" />
<rect x="1038.0" y="302.4" width="5.0" height="3.4" fill="#f23645" fill-opacity="1" />
<line x1="1047.5" y1="299.7" x2="1047.5" y2="307.0" stroke="#089981" stroke-width="1" />
<rect x="1045.0" y="301.6" width="5.0" height="4.1" fill="#089981" fill-opacity="1" />
<line x1="1053.5" y1="299.7" x2="1053.5" y2="310.6" stroke="#f23645" stroke-width="1" />
<rect x="1051.0" y="301.6" width="5.0" height="1.5" fill="#f23645" fill-opacity="1" />
<line x1="1059.5" y1="291.2" x2="1059.5" y2="303.3" stroke="#089981" stroke-width="1" />
<rect x="1057.0" y="292.2" width="5.0" height="10.0" fill="#089981" fill-opacity="1" />
<line x1="1066.5" y1="283.9" x2="1066.5" y2="296.0" stroke="#089981" stroke-width="1" />
<rect x="1064.0" y="289.5" width="5.0" height="2.7" fill="#089981" fill-opacity="1" />
<line x1="1072.5" y1="286.3" x2="1072.5" y2="348.7" stroke="#f23645" stroke-width="1" />
<rect x="1070.0" y="289.5" width="5.0" height="22.1" fill="#f23645" fill-opacity="1" />
<line x1="1078.5" y1="283.9" x2="1078.5" y2="315.5" stroke="#089981" stroke-width="1" />
<rect x="1076.0" y="285.6" width="5.0" height="26.0" fill="#089981" fill-opacity="1" />
<line x1="1084.5" y1="274.2" x2="1084.5" y2="288.8" stroke="#089981" stroke-width="1" />
<rect x="1082.0" y="275.2" width="5.0" height="10.4" fill="#089981" fill-opacity="1" />
<line x1="1091.5" y1="242.6" x2="1091.5" y2="276.6" stroke="#089981" stroke-width="1" />
<rect x="1089.0" y="244.6" width="5.0" height="30.6" fill="#089981" fill-opacity="1" />
<line x1="1097.5" y1="198.9" x2="1097.5" y2="247.5" stroke="#089981" stroke-width="1" />
<rect x="1095.0" y="200.9" width="5.0" height="43.7" fill="#089981" fill-opacity="1" />
<line x1="1103.5" y1="194.1" x2="1103.5" y2="215.9" stroke="#f23645" stroke-width="1" />
<rect x="1101.0" y="200.9" width="5.0" height="5.1" fill="#f23645" fill-opacity="1" />
<line x1="1109.5" y1="173.2" x2="1109.5" y2="215.9" stroke="#f23645" stroke-width="1" />
<rect x="1107.0" y="206.0" width="5.0" height="5.3" fill="#f23645" fill-opacity="1" />
<line x1="1116.5" y1="196.5" x2="1116.5" y2="228.1" stroke="#089981" stroke-width="1" />
<rect x="1114.0" y="198.9" width="5.0" height="12.4" fill="#089981" fill-opacity="1" />
<line x1="1122.5" y1="174.6" x2="1122.5" y2="211.1" stroke="#089981" stroke-width="1" />
<rect x="1120.0" y="176.1" width="5.0" height="22.8" fill="#089981" fill-opacity="1" />
<line x1="1128.5" y1="144.1" x2="1128.5" y2="179.5" stroke="#089981" stroke-width="1" />
<rect x="1126.0" y="165.9" width="5.0" height="10.2" fill="#089981" fill-opacity="1" />
<line x1="1134.5" y1="142.6" x2="1134.5" y2="174.6" stroke="#089981" stroke-width="1" />
<rect x="1132.0" y="152.7" width="5.0" height="13.2" fill="#089981" fill-opacity="1" />
<line x1="1141.5" y1="151.5" x2="1141.5" y2="213.1" stroke="#f23645" stroke-width="1" />
<rect x="1139.0" y="152.7" width="5.0" height="43.9" fill="#f23645" fill-opacity="1" />
</g>
<line x1="663" y1="196.5" x2="1199" y2="196.5" stroke="#f23645" stroke-width="1" stroke-dasharray="1 2"/>
<rect x="846.0" y="196.0" width="26.0" height="18.0" rx="3" fill="#f7525f"/>
<polygon points="851.2,213.5 867.2,213.5 859.2,218.8" fill="#f7525f"/>
<text x="859.0" y="208.1" font-size="12" fill="#fff" text-anchor="middle" font-weight="bold" textLength="20" lengthAdjust="spacingAndGlyphs">Sell</text>
<g opacity="0.8">
<rect x="727.2" y="436.7" width="26.5" height="18.3" rx="3" fill="#4caf50"/>
<polygon points="733.5,437.2 745.5,437.2 739.5,432.6" fill="#4caf50"/>
<text x="740.45" y="448.95000000000005" font-size="12" fill="#fff" text-anchor="middle" font-weight="bold" textLength="19.5" lengthAdjust="spacingAndGlyphs">Buy</text>
<circle cx="739.5" cy="432.6" r="4" fill="#4caf50"/></g>
<g>
<rect x="1071.0" y="344.0" width="26.8" height="19.7" rx="3" fill="#4caf50"/>
<polygon points="1078.0,344.5 1090.0,344.5 1084.0,338.8" fill="#4caf50"/>
<text x="1084.4" y="356.95000000000005" font-size="12" fill="#fff" text-anchor="middle" font-weight="bold" textLength="19.5" lengthAdjust="spacingAndGlyphs">Buy</text>
<circle cx="1084.2" cy="340.7" r="4.2" fill="#4caf50"/></g>
<text x="670.3" y="45.7" font-size="12" fill="#131722" text-anchor="start" font-weight="normal" textLength="45.9" lengthAdjust="spacingAndGlyphs">VNINDEX</text>
<text x="728.7" y="45.7" font-size="12" fill="#131722" text-anchor="start" font-weight="normal" textLength="13.8" lengthAdjust="spacingAndGlyphs">1M</text>
<text x="754.5" y="45.7" font-size="12" fill="#131722" text-anchor="start" font-weight="normal" textLength="27.6" lengthAdjust="spacingAndGlyphs">HOSE</text>
<text x="789.6" y="45.7" font-size="12" fill="#131722" text-anchor="start" font-weight="normal" >O</text>
<text x="798.9" y="45.7" font-size="12" fill="#f23645" text-anchor="start" font-weight="normal" textLength="45.1" lengthAdjust="spacingAndGlyphs">1,880.33</text>
<text x="851.6" y="45.7" font-size="12" fill="#131722" text-anchor="start" font-weight="normal" >H</text>
<text x="860.3" y="45.7" font-size="12" fill="#f23645" text-anchor="start" font-weight="normal" textLength="45.7" lengthAdjust="spacingAndGlyphs">1,885.18</text>
<text x="913.8" y="45.7" font-size="12" fill="#131722" text-anchor="start" font-weight="normal" >L</text>
<text x="920.0" y="45.7" font-size="12" fill="#f23645" text-anchor="start" font-weight="normal" textLength="45.7" lengthAdjust="spacingAndGlyphs">1,631.74</text>
<text x="972.8" y="45.7" font-size="12" fill="#131722" text-anchor="start" font-weight="normal" >C</text>
<text x="981.3" y="45.7" font-size="12" fill="#f23645" text-anchor="start" font-weight="normal" textLength="45.1" lengthAdjust="spacingAndGlyphs">1,699.67</text>
<text x="1035.0" y="45.7" font-size="12" fill="#f23645" text-anchor="start" font-weight="normal" textLength="89.8" lengthAdjust="spacingAndGlyphs">−180.66 (−9.61%)</text>
<circle cx="721.9" cy="41.4" r="1.15" fill="#131722"/><circle cx="748.7" cy="41.4" r="1.15" fill="#131722"/>
<rect x="1204" y="31.3" width="57.5" height="24.999999999999996" rx="4" fill="#fff" stroke="#ebebeb" stroke-width="1.2"/>
<text x="1213.4" y="48.9" font-size="12" fill="#131722" text-anchor="start" font-weight="normal" textLength="22" lengthAdjust="spacingAndGlyphs">VND</text>
<text x="1209.3" y="79.20000000000007" font-size="12" fill="#131722" text-anchor="start" font-weight="normal" >2,200.00</text>
<text x="1209.3" y="127.76000000000008" font-size="12" fill="#131722" text-anchor="start" font-weight="normal" >2,000.00</text>
<text x="1209.3" y="224.88000000000008" font-size="12" fill="#131722" text-anchor="start" font-weight="normal" >1,600.00</text>
<text x="1209.3" y="273.44000000000005" font-size="12" fill="#131722" text-anchor="start" font-weight="normal" >1,400.00</text>
<text x="1209.3" y="322.0000000000001" font-size="12" fill="#131722" text-anchor="start" font-weight="normal" >1,200.00</text>
<text x="1209.3" y="370.56000000000006" font-size="12" fill="#131722" text-anchor="start" font-weight="normal" >1,000.00</text>
<text x="1209.3" y="419.12000000000006" font-size="12" fill="#131722" text-anchor="start" font-weight="normal" >800.00</text>
<text x="1209.3" y="467.68000000000006" font-size="12" fill="#131722" text-anchor="start" font-weight="normal" >600.00</text>
<text x="1209.3" y="516.2400000000001" font-size="12" fill="#131722" text-anchor="start" font-weight="normal" >400.00</text>
<text x="1209.3" y="564.8000000000001" font-size="12" fill="#131722" text-anchor="start" font-weight="normal" >200.00</text>
<path d="M1201.0,120.0 H1259.5 Q1261.0,120.0 1261.0,121.5 V135.5 Q1261.0,137.0 1259.5,137.0 H1201.0 Z" fill="#2962ff"/>
<text x="1209.3" y="132.1" font-size="12" fill="#ffffff" text-anchor="start" font-weight="bold" >1,921.97</text>
<path d="M1201.0,137.0 H1259.5 Q1261.0,137.0 1261.0,138.5 V152.5 Q1261.0,154.0 1259.5,154.0 H1201.0 Z" fill="#2962ff"/>
<text x="1209.3" y="149.1" font-size="12" fill="#ffffff" text-anchor="start" font-weight="bold" >1,774.23</text>
<path d="M1201.0,154.0 H1259.5 Q1261.0,154.0 1261.0,155.5 V169.2 Q1261.0,170.7 1259.5,170.7 H1201.0 Z" fill="#2ec866"/>
<text x="1209.3" y="165.95" font-size="12" fill="#131722" text-anchor="start" font-weight="bold" >1,751.18</text>
<path d="M1201.0,170.7 H1259.5 Q1261.0,170.7 1261.0,172.2 V186.5 Q1261.0,188.0 1259.5,188.0 H1201.0 Z" fill="#673ab7"/>
<text x="1209.3" y="182.95" font-size="12" fill="#ffffff" text-anchor="start" font-weight="bold" >1,699.67</text>
<path d="M1201.0,188.0 H1259.5 Q1261.0,188.0 1261.0,189.5 V217.0 Q1261.0,218.5 1259.5,218.5 H1201.0 Z" fill="#f23645"/>
<text x="1209.3" y="199.8" font-size="12" fill="#ffffff" text-anchor="start" font-weight="bold" >1,699.67</text>
<text x="1209.3" y="213.4" font-size="12" fill="#ffffff" text-anchor="start" font-weight="bold" fill-opacity="0.8">12d 5h</text>
<path d="M1201.0,241.8 H1259.5 Q1261.0,241.8 1261.0,243.3 V257.8 Q1261.0,259.3 1259.5,259.3 H1201.0 Z" fill="#2a2a2a"/>
<text x="1209.3" y="254.15" font-size="12" fill="#ffffff" text-anchor="start" font-weight="bold" >1,476.82</text>
<path d="M1201.0,259.3 H1259.5 Q1261.0,259.3 1261.0,260.8 V274.8 Q1261.0,276.3 1259.5,276.3 H1201.0 Z" fill="#4caf50"/>
<text x="1209.3" y="271.40000000000003" font-size="12" fill="#ffffff" text-anchor="start" font-weight="bold" >1,464.31</text>
<path d="M1201.0,276.3 H1259.5 Q1261.0,276.3 1261.0,277.8 V291.3 Q1261.0,292.8 1259.5,292.8 H1201.0 Z" fill="#f7525f"/>
<text x="1209.3" y="288.15000000000003" font-size="12" fill="#ffffff" text-anchor="start" font-weight="bold" >1,361.72</text>
<path d="M1201.0,350.3 H1259.5 Q1261.0,350.3 1261.0,351.8 V365.0 Q1261.0,366.5 1259.5,366.5 H1201.0 Z" fill="#2962ff"/>
<text x="1209.3" y="362.0" font-size="12" fill="#ffffff" text-anchor="start" font-weight="bold" >1,031.67</text>
<path d="M1201.0,366.5 H1247.5 Q1249.0,366.5 1249.0,368.0 V382.0 Q1249.0,383.5 1247.5,383.5 H1201.0 Z" fill="#fbc02d"/>
<text x="1209.3" y="378.6" font-size="12" fill="#131722" text-anchor="start" font-weight="bold" >961.58</text>
<path d="M1201.0,418.0 H1248.3 Q1249.8,418.0 1249.8,419.5 V432.7 Q1249.8,434.2 1248.3,434.2 H1201.0 Z" fill="#ff0000"/>
<text x="1209.3" y="429.70000000000005" font-size="12" fill="#ffffff" text-anchor="start" font-weight="bold" >751.92</text>
<path d="M1201.0,486.3 H1251.2 Q1252.7,486.3 1252.7,487.8 V500.9 Q1252.7,502.4 1251.2,502.4 H1201.0 Z" fill="#2962ff"/>
<text x="1209.3" y="497.95000000000005" font-size="12" fill="#ffffff" text-anchor="start" font-weight="bold" >18.59 B</text>
<path d="M1201.0,502.4 H1244.1 Q1245.6,502.4 1245.6,503.9 V518.3 Q1245.6,519.8 1244.1,519.8 H1201.0 Z" fill="#ef5350"/>
<text x="1209.3" y="514.6999999999999" font-size="12" fill="#ffffff" text-anchor="start" font-weight="bold" >15.3 B</text>
<text x="677.3" y="580" font-size="12" fill="#131722" text-anchor="middle" font-weight="bold" >2020</text>
<text x="752.4" y="580" font-size="12" fill="#131722" text-anchor="middle" font-weight="bold" >2021</text>
<text x="827.6" y="580" font-size="12" fill="#131722" text-anchor="middle" font-weight="bold" >2022</text>
<text x="902.7" y="580" font-size="12" fill="#131722" text-anchor="middle" font-weight="bold" >2023</text>
<text x="977.9" y="580" font-size="12" fill="#131722" text-anchor="middle" font-weight="bold" >2024</text>
<text x="1053.0" y="580" font-size="12" fill="#131722" text-anchor="middle" font-weight="bold" >2025</text>
<text x="1128.2" y="580" font-size="12" fill="#131722" text-anchor="middle" font-weight="bold" >2026</text>
<clipPath id="cl"><rect x="11" y="28" width="580" height="534"/></clipPath>
<line x1="11.0" y1="544.5" x2="591.0" y2="544.5" stroke="#f1f1f2" stroke-width="1" />
<line x1="11.0" y1="497.5" x2="591.0" y2="497.5" stroke="#f1f1f2" stroke-width="1" />
<line x1="11.0" y1="450.5" x2="591.0" y2="450.5" stroke="#f1f1f2" stroke-width="1" />
<line x1="11.0" y1="403.5" x2="591.0" y2="403.5" stroke="#f1f1f2" stroke-width="1" />
<line x1="11.0" y1="356.5" x2="591.0" y2="356.5" stroke="#f1f1f2" stroke-width="1" />
<line x1="11.0" y1="310.5" x2="591.0" y2="310.5" stroke="#f1f1f2" stroke-width="1" />
<line x1="11.0" y1="263.5" x2="591.0" y2="263.5" stroke="#f1f1f2" stroke-width="1" />
<line x1="11.0" y1="216.5" x2="591.0" y2="216.5" stroke="#f1f1f2" stroke-width="1" />
<line x1="11.0" y1="169.5" x2="591.0" y2="169.5" stroke="#f1f1f2" stroke-width="1" />
<line x1="11.0" y1="122.5" x2="591.0" y2="122.5" stroke="#f1f1f2" stroke-width="1" />
<line x1="11.0" y1="76.5" x2="591.0" y2="76.5" stroke="#f1f1f2" stroke-width="1" />
<line x1="23.5" y1="28.0" x2="23.5" y2="562.0" stroke="#f1f1f2" stroke-width="1" />
<line x1="83.5" y1="28.0" x2="83.5" y2="562.0" stroke="#f1f1f2" stroke-width="1" />
<line x1="144.5" y1="28.0" x2="144.5" y2="562.0" stroke="#f1f1f2" stroke-width="1" />
<line x1="204.5" y1="28.0" x2="204.5" y2="562.0" stroke="#f1f1f2" stroke-width="1" />
<line x1="265.5" y1="28.0" x2="265.5" y2="562.0" stroke="#f1f1f2" stroke-width="1" />
<line x1="325.5" y1="28.0" x2="325.5" y2="562.0" stroke="#f1f1f2" stroke-width="1" />
<line x1="386.5" y1="28.0" x2="386.5" y2="562.0" stroke="#f1f1f2" stroke-width="1" />
<line x1="446.5" y1="28.0" x2="446.5" y2="562.0" stroke="#f1f1f2" stroke-width="1" />
<line x1="507.5" y1="28.0" x2="507.5" y2="562.0" stroke="#f1f1f2" stroke-width="1" />
<line x1="567.5" y1="28.0" x2="567.5" y2="562.0" stroke="#f1f1f2" stroke-width="1" />
<g clip-path="url(#cl)">
<polygon points="8.0,375.4 10.9,375.4 13.4,392.3 15.9,396.8 18.5,397.2 21.0,398.1 23.5,396.9 26.0,395.3 28.5,394.2 31.1,394.1 33.6,392.8 36.1,391.3 38.6,391.1 41.1,391.8 43.7,393.3 46.2,398.2 48.7,403.2 51.2,407.9 53.7,408.8 56.3,409.0 58.8,409.0 61.3,410.4 63.8,413.2 66.4,417.5 68.9,417.0 71.4,417.1 73.9,417.2 76.4,417.6 79.0,417.5 81.5,418.9 84.0,420.2 86.5,422.4 89.0,424.0 91.6,423.3 94.1,423.6 96.6,424.0 99.1,424.9 101.6,426.6 104.2,430.1 106.7,431.4 109.2,432.7 111.7,435.4 114.2,432.0 116.8,429.8 119.3,427.1 121.8,425.5 124.3,422.1 126.9,420.7 129.4,419.2 131.9,419.7 134.4,419.2 136.9,417.6 139.5,416.1 142.0,415.2 144.5,412.3 147.0,407.7 149.5,403.7 152.1,401.3 154.6,401.0 157.1,400.2 159.6,400.3 162.1,397.3 164.7,395.2 167.2,393.5 169.7,393.1 172.2,393.3 174.7,392.6 177.3,392.1 179.8,392.5 182.3,394.2 184.8,395.2 187.4,395.4 189.9,395.0 192.4,396.5 194.9,396.8 197.4,396.1 200.0,396.1 202.5,396.2 205.0,396.3 207.5,396.3 210.0,396.5 212.6,398.6 215.1,397.8 217.6,396.2 220.1,393.2 222.6,389.1 225.2,385.2 227.7,382.7 230.2,381.1 232.7,379.6 235.2,376.9 237.8,373.8 240.3,370.6 242.8,368.2 245.3,365.4 247.9,360.7 250.4,356.5 252.9,353.2 255.4,350.6 257.9,346.9 260.5,336.4 263.0,325.7 265.5,308.0 268.0,293.5 270.5,278.2 273.1,271.7 275.6,268.8 278.1,267.0 280.6,266.1 283.1,265.2 285.7,263.6 288.2,264.6 290.7,265.8 293.2,267.9 295.7,270.0 298.3,270.8 300.8,272.1 303.3,274.3 305.8,276.7 308.4,278.7 310.9,278.5 313.4,278.5 315.9,282.3 318.4,287.2 321.0,299.5 323.5,302.9 326.0,303.0 328.5,301.8 331.0,287.7 333.6,286.4 336.1,288.6 338.6,288.4 341.1,288.1 343.6,288.1 346.2,288.2 348.7,289.3 351.2,288.6 353.7,283.2 356.2,280.1 358.8,271.4 361.3,263.1 363.8,253.0 366.3,239.2 368.8,222.6 371.4,212.9 373.9,203.3 376.4,194.2 378.9,181.9 381.5,174.8 384.0,166.5 386.5,159.3 389.0,154.7 391.5,153.2 394.1,155.6 396.6,160.6 399.1,167.1 401.6,171.8 404.1,174.0 406.7,176.6 409.2,172.1 411.7,168.7 414.2,164.5 416.7,164.4 419.3,165.0 421.8,165.1 424.3,165.8 426.8,167.7 429.3,173.7 431.9,181.5 434.4,190.9 436.9,201.3 439.4,214.1 442.0,230.8 444.5,240.7 447.0,246.1 449.5,243.7 452.0,240.1 454.6,243.3 457.1,239.1 459.6,236.5 462.1,233.7 464.6,231.4 467.2,227.8 469.7,227.2 472.2,226.7 474.7,226.8 477.2,227.0 479.8,224.8 482.3,222.1 484.8,222.1 487.3,219.4 489.8,220.4 492.4,210.6 494.9,187.5 497.4,172.1 499.9,160.4 502.5,147.6 505.0,131.8 507.5,115.9 510.0,99.8 512.5,94.1 512.5,301.7 510.0,306.5 507.5,305.2 505.0,302.5 502.5,300.2 499.9,296.8 497.4,294.1 494.9,290.4 492.4,280.2 489.8,279.7 487.3,288.9 484.8,290.3 482.3,290.4 479.8,290.3 477.2,292.0 474.7,296.6 472.2,301.9 469.7,305.7 467.2,310.7 464.6,311.3 462.1,315.3 459.6,317.4 457.1,319.8 454.6,318.7 452.0,320.3 449.5,318.5 447.0,317.3 444.5,319.8 442.0,324.1 439.4,331.8 436.9,333.7 434.4,336.5 431.9,339.6 429.3,341.0 426.8,339.8 424.3,335.5 421.8,329.6 419.3,323.9 416.7,315.6 414.2,310.4 411.7,300.8 409.2,294.1 406.7,286.3 404.1,290.7 401.6,297.0 399.1,306.5 396.6,319.3 394.1,333.4 391.5,347.0 389.0,361.7 386.5,372.6 384.0,379.8 381.5,388.6 378.9,400.5 376.4,401.4 373.9,401.8 371.4,400.9 368.8,399.4 366.3,392.1 363.8,386.0 361.3,381.8 358.8,378.3 356.2,374.7 353.7,373.9 351.2,371.3 348.7,371.1 346.2,371.1 343.6,371.0 341.1,370.8 338.6,367.7 336.1,365.3 333.6,364.0 331.0,357.6 328.5,336.6 326.0,333.5 323.5,332.9 321.0,334.2 318.4,341.5 315.9,343.7 313.4,344.9 310.9,344.9 308.4,345.6 305.8,350.1 303.3,356.2 300.8,363.0 298.3,369.0 295.7,374.5 293.2,380.7 290.7,386.8 288.2,392.8 285.7,398.6 283.1,404.5 280.6,411.2 278.1,417.0 275.6,421.9 273.1,425.7 270.5,427.8 268.0,424.8 265.5,421.7 263.0,415.6 260.5,413.9 257.9,412.6 255.4,415.4 252.9,418.8 250.4,420.3 247.9,420.6 245.3,419.8 242.8,420.9 240.3,422.3 237.8,421.4 235.2,421.1 232.7,421.4 230.2,422.3 227.7,423.3 225.2,422.7 222.6,421.4 220.1,420.5 217.6,419.6 215.1,418.8 212.6,418.5 210.0,419.6 207.5,419.1 205.0,418.7 202.5,418.9 200.0,418.9 197.4,418.9 194.9,418.8 192.4,419.6 189.9,422.4 187.4,424.7 184.8,427.0 182.3,429.9 179.8,434.0 177.3,435.9 174.7,438.0 172.2,438.7 169.7,440.4 167.2,441.7 164.7,442.7 162.1,443.1 159.6,445.3 157.1,450.4 154.6,454.0 152.1,457.3 149.5,459.5 147.0,459.7 144.5,458.9 142.0,458.5 139.5,458.3 136.9,459.0 134.4,459.4 131.9,461.6 129.4,464.6 126.9,465.6 124.3,465.7 121.8,464.4 119.3,464.0 116.8,463.3 114.2,462.3 111.7,460.5 109.2,461.7 106.7,461.1 104.2,460.6 101.6,461.5 99.1,460.7 96.6,460.3 94.1,460.0 91.6,459.9 89.0,459.8 86.5,459.7 84.0,459.7 81.5,457.7 79.0,454.6 76.4,451.8 73.9,450.3 71.4,449.1 68.9,447.7 66.4,444.9 63.8,445.7 61.3,444.8 58.8,444.6 56.3,444.5 53.7,445.0 51.2,448.2 48.7,456.7 46.2,466.1 43.7,475.9 41.1,480.9 38.6,484.8 36.1,488.6 33.6,490.9 31.1,490.9 28.5,490.9 26.0,491.0 23.5,491.6 21.0,492.0 18.5,492.2 15.9,492.3 13.4,494.9 10.9,505.7 8.0,505.7" fill="#2196f3" fill-opacity="0.06" />
<rect x="322" y="308.4" width="216.60000000000002" height="4.800000000000011" fill="#4caf50" fill-opacity="0.3" stroke="#43a047" stroke-width="1.3"/>
<rect x="331.6" y="333.4" width="207.0" height="57.900000000000034" fill="#4caf50" fill-opacity="0.3" stroke="#43a047" stroke-width="1.3"/>
<rect x="94.2" y="431.2" width="444.40000000000003" height="10.300000000000011" fill="#4caf50" fill-opacity="0.3" stroke="#43a047" stroke-width="1.3"/>
<line x1="93.1" y1="427.4" x2="164.0" y2="427.4" stroke="#43a047" stroke-width="1.6" />
<line x1="93.1" y1="428.8" x2="116.0" y2="428.8" stroke="#5d5d5d" stroke-width="1" />
<line x1="48.5" y1="444.5" x2="66.2" y2="444.5" stroke="#e53935" stroke-width="1.5" />
<rect x="109.2" y="452.3" width="429.40000000000003" height="4.300000000000011" fill="#4caf50" fill-opacity="0.3" stroke="#43a047" stroke-width="1.3"/>
<g font-size="8.5" fill="#4caf50" fill-opacity="0.85" text-anchor="end">
<text x="534.5" y="314">Bu-MB</text><text x="534.5" y="364.5">Bu-OB</text><text x="534.5" y="439.5">Bu-MB</text><text x="534.5" y="457.5">Bu-OB</text></g>
<line x1="321.5" y1="301.9" x2="385.7" y2="301.9" stroke="#43a047" stroke-width="1.6" />
<line x1="295.2" y1="342.0" x2="329.0" y2="342.0" stroke="#e53935" stroke-width="1.6" />
<line x1="309.6" y1="323.4" x2="327.4" y2="323.4" stroke="#8d6e63" stroke-width="1.2" />
<line x1="10.5" y1="557.5" x2="10.5" y2="561.5" stroke="#26a69a" stroke-width="1" stroke-opacity="0.55"/>
<line x1="13.5" y1="557.5" x2="13.5" y2="561.5" stroke="#26a69a" stroke-width="1" stroke-opacity="0.55"/>
<line x1="15.5" y1="557.5" x2="15.5" y2="561.5" stroke="#26a69a" stroke-width="1" stroke-opacity="0.55"/>
<line x1="18.5" y1="557.5" x2="18.5" y2="561.5" stroke="#ef5350" stroke-width="1" stroke-opacity="0.55"/>
<line x1="20.5" y1="557.5" x2="20.5" y2="561.5" stroke="#ef5350" stroke-width="1" stroke-opacity="0.55"/>
<line x1="23.5" y1="559.0" x2="23.5" y2="561.5" stroke="#ef5350" stroke-width="1" stroke-opacity="0.55"/>
<line x1="26.5" y1="558.0" x2="26.5" y2="561.5" stroke="#26a69a" stroke-width="1" stroke-opacity="0.55"/>
<line x1="28.5" y1="557.0" x2="28.5" y2="561.5" stroke="#26a69a" stroke-width="1" stroke-opacity="0.55"/>
<line x1="31.5" y1="556.0" x2="31.5" y2="561.5" stroke="#26a69a" stroke-width="1" stroke-opacity="0.55"/>
<line x1="33.5" y1="559.0" x2="33.5" y2="561.5" stroke="#ef5350" stroke-width="1" stroke-opacity="0.55"/>
<line x1="36.5" y1="558.0" x2="36.5" y2="561.5" stroke="#ef5350" stroke-width="1" stroke-opacity="0.55"/>
<line x1="38.5" y1="557.0" x2="38.5" y2="561.5" stroke="#ef5350" stroke-width="1" stroke-opacity="0.55"/>
<line x1="41.5" y1="556.0" x2="41.5" y2="561.5" stroke="#ef5350" stroke-width="1" stroke-opacity="0.55"/>
<line x1="43.5" y1="559.0" x2="43.5" y2="561.5" stroke="#26a69a" stroke-width="1" stroke-opacity="0.55"/>
<line x1="46.5" y1="558.0" x2="46.5" y2="561.5" stroke="#ef5350" stroke-width="1" stroke-opacity="0.55"/>
<line x1="48.5" y1="557.0" x2="48.5" y2="561.5" stroke="#26a69a" stroke-width="1" stroke-opacity="0.55"/>
<line x1="51.5" y1="556.0" x2="51.5" y2="561.5" stroke="#26a69a" stroke-width="1" stroke-opacity="0.55"/>
<line x1="53.5" y1="559.0" x2="53.5" y2="561.5" stroke="#26a69a" stroke-width="1" stroke-opacity="0.55"/>
<line x1="56.5" y1="558.0" x2="56.5" y2="561.5" stroke="#ef5350" stroke-width="1" stroke-opacity="0.55"/>
<line x1="58.5" y1="557.0" x2="58.5" y2="561.5" stroke="#ef5350" stroke-width="1" stroke-opacity="0.55"/>
<line x1="61.5" y1="556.0" x2="61.5" y2="561.5" stroke="#26a69a" stroke-width="1" stroke-opacity="0.55"/>
<line x1="63.5" y1="559.0" x2="63.5" y2="561.5" stroke="#ef5350" stroke-width="1" stroke-opacity="0.55"/>
<line x1="66.5" y1="558.0" x2="66.5" y2="561.5" stroke="#26a69a" stroke-width="1" stroke-opacity="0.55"/>
<line x1="68.5" y1="557.0" x2="68.5" y2="561.5" stroke="#ef5350" stroke-width="1" stroke-opacity="0.55"/>
<line x1="71.5" y1="556.0" x2="71.5" y2="561.5" stroke="#26a69a" stroke-width="1" stroke-opacity="0.55"/>
<line x1="73.5" y1="559.0" x2="73.5" y2="561.5" stroke="#26a69a" stroke-width="1" stroke-opacity="0.55"/>
<line x1="76.5" y1="558.0" x2="76.5" y2="561.5" stroke="#ef5350" stroke-width="1" stroke-opacity="0.55"/>
<line x1="78.5" y1="557.0" x2="78.5" y2="561.5" stroke="#ef5350" stroke-width="1" stroke-opacity="0.55"/>
<line x1="81.5" y1="556.0" x2="81.5" y2="561.5" stroke="#ef5350" stroke-width="1" stroke-opacity="0.55"/>
<line x1="83.5" y1="559.0" x2="83.5" y2="561.5" stroke="#26a69a" stroke-width="1" stroke-opacity="0.55"/>
<line x1="86.5" y1="558.0" x2="86.5" y2="561.5" stroke="#26a69a" stroke-width="1" stroke-opacity="0.55"/>
<line x1="89.5" y1="557.0" x2="89.5" y2="561.5" stroke="#ef5350" stroke-width="1" stroke-opacity="0.55"/>
<line x1="91.5" y1="556.0" x2="91.5" y2="561.5" stroke="#26a69a" stroke-width="1" stroke-opacity="0.55"/>
<line x1="94.5" y1="559.0" x2="94.5" y2="561.5" stroke="#ef5350" stroke-width="1" stroke-opacity="0.55"/>
<line x1="96.5" y1="558.0" x2="96.5" y2="561.5" stroke="#ef5350" stroke-width="1" stroke-opacity="0.55"/>
<line x1="99.5" y1="557.0" x2="99.5" y2="561.5" stroke="#ef5350" stroke-width="1" stroke-opacity="0.55"/>
<line x1="101.5" y1="556.0" x2="101.5" y2="561.5" stroke="#ef5350" stroke-width="1" stroke-opacity="0.55"/>
<line x1="104.5" y1="559.0" x2="104.5" y2="561.5" stroke="#26a69a" stroke-width="1" stroke-opacity="0.55"/>
<line x1="106.5" y1="558.0" x2="106.5" y2="561.5" stroke="#ef5350" stroke-width="1" stroke-opacity="0.55"/>
<line x1="109.5" y1="557.0" x2="109.5" y2="561.5" stroke="#ef5350" stroke-width="1" stroke-opacity="0.55"/>
<line x1="111.5" y1="556.0" x2="111.5" y2="561.5" stroke="#26a69a" stroke-width="1" stroke-opacity="0.55"/>
<line x1="114.5" y1="559.0" x2="114.5" y2="561.5" stroke="#26a69a" stroke-width="1" stroke-opacity="0.55"/>
<line x1="116.5" y1="558.0" x2="116.5" y2="561.5" stroke="#ef5350" stroke-width="1" stroke-opacity="0.55"/>
<line x1="119.5" y1="557.0" x2="119.5" y2="561.5" stroke="#26a69a" stroke-width="1" stroke-opacity="0.55"/>
<line x1="121.5" y1="556.0" x2="121.5" y2="561.5" stroke="#ef5350" stroke-width="1" stroke-opacity="0.55"/>
<line x1="124.5" y1="559.0" x2="124.5" y2="561.5" stroke="#26a69a" stroke-width="1" stroke-opacity="0.55"/>
<line x1="126.5" y1="558.0" x2="126.5" y2="561.5" stroke="#ef5350" stroke-width="1" stroke-opacity="0.55"/>
<line x1="129.5" y1="557.0" x2="129.5" y2="561.5" stroke="#26a69a" stroke-width="1" stroke-opacity="0.55"/>
<line x1="131.5" y1="556.0" x2="131.5" y2="561.5" stroke="#ef5350" stroke-width="1" stroke-opacity="0.55"/>
<line x1="134.5" y1="559.0" x2="134.5" y2="561.5" stroke="#26a69a" stroke-width="1" stroke-opacity="0.55"/>
<line x1="136.5" y1="558.0" x2="136.5" y2="561.5" stroke="#26a69a" stroke-width="1" stroke-opacity="0.55"/>
<line x1="139.5" y1="557.0" x2="139.5" y2="561.5" stroke="#26a69a" stroke-width="1" stroke-opacity="0.55"/>
<line x1="141.5" y1="556.0" x2="141.5" y2="561.5" stroke="#26a69a" stroke-width="1" stroke-opacity="0.55"/>
<line x1="144.5" y1="557.5" x2="144.5" y2="561.5" stroke="#26a69a" stroke-width="1" stroke-opacity="0.55"/>
<line x1="147.5" y1="550.5" x2="147.5" y2="561.5" stroke="#26a69a" stroke-width="1" stroke-opacity="0.55"/>
<line x1="149.5" y1="551.5" x2="149.5" y2="561.5" stroke="#26a69a" stroke-width="1" stroke-opacity="0.55"/>
<line x1="152.5" y1="552.5" x2="152.5" y2="561.5" stroke="#ef5350" stroke-width="1" stroke-opacity="0.55"/>
<line x1="154.5" y1="553.5" x2="154.5" y2="561.5" stroke="#ef5350" stroke-width="1" stroke-opacity="0.55"/>
<line x1="157.5" y1="554.5" x2="157.5" y2="561.5" stroke="#26a69a" stroke-width="1" stroke-opacity="0.55"/>
<line x1="159.5" y1="555.5" x2="159.5" y2="561.5" stroke="#26a69a" stroke-width="1" stroke-opacity="0.55"/>
<line x1="162.5" y1="556.5" x2="162.5" y2="561.5" stroke="#26a69a" stroke-width="1" stroke-opacity="0.55"/>
<line x1="164.5" y1="557.5" x2="164.5" y2="561.5" stroke="#ef5350" stroke-width="1" stroke-opacity="0.55"/>
<line x1="167.5" y1="550.5" x2="167.5" y2="561.5" stroke="#26a69a" stroke-width="1" stroke-opacity="0.55"/>
<line x1="169.5" y1="551.5" x2="169.5" y2="561.5" stroke="#ef5350" stroke-width="1" stroke-opacity="0.55"/>
<line x1="172.5" y1="552.5" x2="172.5" y2="561.5" stroke="#ef5350" stroke-width="1" stroke-opacity="0.55"/>
<line x1="174.5" y1="553.5" x2="174.5" y2="561.5" stroke="#26a69a" stroke-width="1" stroke-opacity="0.55"/>
<line x1="177.5" y1="554.5" x2="177.5" y2="561.5" stroke="#26a69a" stroke-width="1" stroke-opacity="0.55"/>
<line x1="179.5" y1="555.5" x2="179.5" y2="561.5" stroke="#ef5350" stroke-width="1" stroke-opacity="0.55"/>
<line x1="182.5" y1="556.5" x2="182.5" y2="561.5" stroke="#26a69a" stroke-width="1" stroke-opacity="0.55"/>
<line x1="184.5" y1="557.5" x2="184.5" y2="561.5" stroke="#26a69a" stroke-width="1" stroke-opacity="0.55"/>
<line x1="187.5" y1="550.5" x2="187.5" y2="561.5" stroke="#26a69a" stroke-width="1" stroke-opacity="0.55"/>
<line x1="189.5" y1="551.5" x2="189.5" y2="561.5" stroke="#26a69a" stroke-width="1" stroke-opacity="0.55"/>
<line x1="192.5" y1="552.5" x2="192.5" y2="561.5" stroke="#ef5350" stroke-width="1" stroke-opacity="0.55"/>
<line x1="194.5" y1="553.5" x2="194.5" y2="561.5" stroke="#26a69a" stroke-width="1" stroke-opacity="0.55"/>
<line x1="197.5" y1="554.5" x2="197.5" y2="561.5" stroke="#26a69a" stroke-width="1" stroke-opacity="0.55"/>
<line x1="199.5" y1="555.5" x2="199.5" y2="561.5" stroke="#ef5350" stroke-width="1" stroke-opacity="0.55"/>
<line x1="202.5" y1="556.5" x2="202.5" y2="561.5" stroke="#ef5350" stroke-width="1" stroke-opacity="0.55"/>
<line x1="204.5" y1="557.5" x2="204.5" y2="561.5" stroke="#ef5350" stroke-width="1" stroke-opacity="0.55"/>
<line x1="207.5" y1="550.5" x2="207.5" y2="561.5" stroke="#26a69a" stroke-width="1" stroke-opacity="0.55"/>
<line x1="210.5" y1="551.5" x2="210.5" y2="561.5" stroke="#26a69a" stroke-width="1" stroke-opacity="0.55"/>
<line x1="212.5" y1="552.5" x2="212.5" y2="561.5" stroke="#26a69a" stroke-width="1" stroke-opacity="0.55"/>
<line x1="215.5" y1="553.5" x2="215.5" y2="561.5" stroke="#26a69a" stroke-width="1" stroke-opacity="0.55"/>
<line x1="217.5" y1="554.5" x2="217.5" y2="561.5" stroke="#26a69a" stroke-width="1" stroke-opacity="0.55"/>
<line x1="220.5" y1="555.5" x2="220.5" y2="561.5" stroke="#26a69a" stroke-width="1" stroke-opacity="0.55"/>
<line x1="222.5" y1="556.5" x2="222.5" y2="561.5" stroke="#26a69a" stroke-width="1" stroke-opacity="0.55"/>
<line x1="225.5" y1="557.5" x2="225.5" y2="561.5" stroke="#26a69a" stroke-width="1" stroke-opacity="0.55"/>
<line x1="227.5" y1="550.5" x2="227.5" y2="561.5" stroke="#ef5350" stroke-width="1" stroke-opacity="0.55"/>
<line x1="230.5" y1="551.5" x2="230.5" y2="561.5" stroke="#ef5350" stroke-width="1" stroke-opacity="0.55"/>
<line x1="232.5" y1="552.5" x2="232.5" y2="561.5" stroke="#ef5350" stroke-width="1" stroke-opacity="0.55"/>
<line x1="235.5" y1="551.5" x2="235.5" y2="561.5" stroke="#26a69a" stroke-width="1" stroke-opacity="0.55"/>
<line x1="237.5" y1="546.5" x2="237.5" y2="561.5" stroke="#26a69a" stroke-width="1" stroke-opacity="0.55"/>
<line x1="240.5" y1="541.5" x2="240.5" y2="561.5" stroke="#26a69a" stroke-width="1" stroke-opacity="0.55"/>
<line x1="242.5" y1="548.5" x2="242.5" y2="561.5" stroke="#ef5350" stroke-width="1" stroke-opacity="0.55"/>
<line x1="245.5" y1="543.5" x2="245.5" y2="561.5" stroke="#26a69a" stroke-width="1" stroke-opacity="0.55"/>
<line x1="247.5" y1="550.5" x2="247.5" y2="561.5" stroke="#26a69a" stroke-width="1" stroke-opacity="0.55"/>
<line x1="250.5" y1="545.5" x2="250.5" y2="561.5" stroke="#26a69a" stroke-width="1" stroke-opacity="0.55"/>
<line x1="252.5" y1="540.5" x2="252.5" y2="561.5" stroke="#ef5350" stroke-width="1" stroke-opacity="0.55"/>
<line x1="255.5" y1="547.5" x2="255.5" y2="561.5" stroke="#26a69a" stroke-width="1" stroke-opacity="0.55"/>
<line x1="257.5" y1="542.5" x2="257.5" y2="561.5" stroke="#26a69a" stroke-width="1" stroke-opacity="0.55"/>
<line x1="260.5" y1="549.5" x2="260.5" y2="561.5" stroke="#26a69a" stroke-width="1" stroke-opacity="0.55"/>
<line x1="262.5" y1="544.5" x2="262.5" y2="561.5" stroke="#26a69a" stroke-width="1" stroke-opacity="0.55"/>
<line x1="265.5" y1="552.5" x2="265.5" y2="561.5" stroke="#26a69a" stroke-width="1" stroke-opacity="0.55"/>
<line x1="268.5" y1="549.5" x2="268.5" y2="561.5" stroke="#26a69a" stroke-width="1" stroke-opacity="0.55"/>
<line x1="270.5" y1="546.5" x2="270.5" y2="561.5" stroke="#26a69a" stroke-width="1" stroke-opacity="0.55"/>
<line x1="273.5" y1="552.5" x2="273.5" y2="561.5" stroke="#ef5350" stroke-width="1" stroke-opacity="0.55"/>
<line x1="275.5" y1="549.5" x2="275.5" y2="561.5" stroke="#ef5350" stroke-width="1" stroke-opacity="0.55"/>
<line x1="278.5" y1="546.5" x2="278.5" y2="561.5" stroke="#ef5350" stroke-width="1" stroke-opacity="0.55"/>
<line x1="280.5" y1="552.5" x2="280.5" y2="561.5" stroke="#ef5350" stroke-width="1" stroke-opacity="0.55"/>
<line x1="283.5" y1="549.5" x2="283.5" y2="561.5" stroke="#26a69a" stroke-width="1" stroke-opacity="0.55"/>
<line x1="285.5" y1="546.5" x2="285.5" y2="561.5" stroke="#26a69a" stroke-width="1" stroke-opacity="0.55"/>
<line x1="288.5" y1="552.5" x2="288.5" y2="561.5" stroke="#ef5350" stroke-width="1" stroke-opacity="0.55"/>
<line x1="290.5" y1="549.5" x2="290.5" y2="561.5" stroke="#26a69a" stroke-width="1" stroke-opacity="0.55"/>
<line x1="293.5" y1="546.5" x2="293.5" y2="561.5" stroke="#ef5350" stroke-width="1" stroke-opacity="0.55"/>
<line x1="295.5" y1="552.5" x2="295.5" y2="561.5" stroke="#26a69a" stroke-width="1" stroke-opacity="0.55"/>
<line x1="298.5" y1="549.5" x2="298.5" y2="561.5" stroke="#26a69a" stroke-width="1" stroke-opacity="0.55"/>
<line x1="300.5" y1="546.5" x2="300.5" y2="561.5" stroke="#26a69a" stroke-width="1" stroke-opacity="0.55"/>
<line x1="303.5" y1="552.5" x2="303.5" y2="561.5" stroke="#ef5350" stroke-width="1" stroke-opacity="0.55"/>
<line x1="305.5" y1="549.5" x2="305.5" y2="561.5" stroke="#ef5350" stroke-width="1" stroke-opacity="0.55"/>
<line x1="308.5" y1="546.5" x2="308.5" y2="561.5" stroke="#ef5350" stroke-width="1" stroke-opacity="0.55"/>
<line x1="310.5" y1="552.5" x2="310.5" y2="561.5" stroke="#26a69a" stroke-width="1" stroke-opacity="0.55"/>
<line x1="313.5" y1="549.5" x2="313.5" y2="561.5" stroke="#ef5350" stroke-width="1" stroke-opacity="0.55"/>
<line x1="315.5" y1="546.5" x2="315.5" y2="561.5" stroke="#26a69a" stroke-width="1" stroke-opacity="0.55"/>
<line x1="318.5" y1="552.5" x2="318.5" y2="561.5" stroke="#26a69a" stroke-width="1" stroke-opacity="0.55"/>
<line x1="320.5" y1="545.2" x2="320.5" y2="561.5" stroke="#ef5350" stroke-width="1" stroke-opacity="0.55"/>
<line x1="323.5" y1="543.2" x2="323.5" y2="561.5" stroke="#ef5350" stroke-width="1" stroke-opacity="0.55"/>
<line x1="325.5" y1="549.0" x2="325.5" y2="561.5" stroke="#ef5350" stroke-width="1" stroke-opacity="0.55"/>
<line x1="328.5" y1="546.0" x2="328.5" y2="561.5" stroke="#ef5350" stroke-width="1" stroke-opacity="0.55"/>
<line x1="331.5" y1="540.2" x2="331.5" y2="561.5" stroke="#ef5350" stroke-width="1" stroke-opacity="0.55"/>
<line x1="333.5" y1="540.8" x2="333.5" y2="561.5" stroke="#26a69a" stroke-width="1" stroke-opacity="0.55"/>
<line x1="336.5" y1="537.9" x2="336.5" y2="561.5" stroke="#26a69a" stroke-width="1" stroke-opacity="0.55"/>
<line x1="338.5" y1="524.7" x2="338.5" y2="561.5" stroke="#ef5350" stroke-width="1" stroke-opacity="0.55"/>
<line x1="341.5" y1="537.9" x2="341.5" y2="561.5" stroke="#ef5350" stroke-width="1" stroke-opacity="0.55"/>
<line x1="343.5" y1="539.4" x2="343.5" y2="561.5" stroke="#26a69a" stroke-width="1" stroke-opacity="0.55"/>
<line x1="346.5" y1="532.6" x2="346.5" y2="561.5" stroke="#26a69a" stroke-width="1" stroke-opacity="0.55"/>
<line x1="348.5" y1="527.0" x2="348.5" y2="561.5" stroke="#26a69a" stroke-width="1" stroke-opacity="0.55"/>
<line x1="351.5" y1="529.0" x2="351.5" y2="561.5" stroke="#26a69a" stroke-width="1" stroke-opacity="0.55"/>
<line x1="353.5" y1="508.7" x2="353.5" y2="561.5" stroke="#26a69a" stroke-width="1" stroke-opacity="0.55"/>
<line x1="356.5" y1="505.1" x2="356.5" y2="561.5" stroke="#ef5350" stroke-width="1" stroke-opacity="0.55"/>
<line x1="358.5" y1="529.0" x2="358.5" y2="561.5" stroke="#26a69a" stroke-width="1" stroke-opacity="0.55"/>
<line x1="361.5" y1="505.7" x2="361.5" y2="561.5" stroke="#26a69a" stroke-width="1" stroke-opacity="0.55"/>
<line x1="363.5" y1="507.2" x2="363.5" y2="561.5" stroke="#26a69a" stroke-width="1" stroke-opacity="0.55"/>
<line x1="366.5" y1="507.8" x2="366.5" y2="561.5" stroke="#26a69a" stroke-width="1" stroke-opacity="0.55"/>
<line x1="368.5" y1="502.2" x2="368.5" y2="561.5" stroke="#26a69a" stroke-width="1" stroke-opacity="0.55"/>
<line x1="371.5" y1="513.0" x2="371.5" y2="561.5" stroke="#ef5350" stroke-width="1" stroke-opacity="0.55"/>
<line x1="373.5" y1="504.3" x2="373.5" y2="561.5" stroke="#26a69a" stroke-width="1" stroke-opacity="0.55"/>
<line x1="376.5" y1="507.8" x2="376.5" y2="561.5" stroke="#26a69a" stroke-width="1" stroke-opacity="0.55"/>
<line x1="378.5" y1="504.3" x2="378.5" y2="561.5" stroke="#26a69a" stroke-width="1" stroke-opacity="0.55"/>
<line x1="381.5" y1="475.0" x2="381.5" y2="561.5" stroke="#26a69a" stroke-width="1" stroke-opacity="0.55"/>
<line x1="383.5" y1="485.8" x2="383.5" y2="561.5" stroke="#26a69a" stroke-width="1" stroke-opacity="0.55"/>
<line x1="386.5" y1="499.0" x2="386.5" y2="561.5" stroke="#ef5350" stroke-width="1" stroke-opacity="0.55"/>
<line x1="389.5" y1="518.0" x2="389.5" y2="561.5" stroke="#26a69a" stroke-width="1" stroke-opacity="0.55"/>
<line x1="391.5" y1="492.0" x2="391.5" y2="561.5" stroke="#26a69a" stroke-width="1" stroke-opacity="0.55"/>
<line x1="394.5" y1="508.7" x2="394.5" y2="561.5" stroke="#ef5350" stroke-width="1" stroke-opacity="0.55"/>
<line x1="396.5" y1="519.8" x2="396.5" y2="561.5" stroke="#ef5350" stroke-width="1" stroke-opacity="0.55"/>
<line x1="399.5" y1="515.0" x2="399.5" y2="561.5" stroke="#ef5350" stroke-width="1" stroke-opacity="0.55"/>
<line x1="401.5" y1="521.2" x2="401.5" y2="561.5" stroke="#26a69a" stroke-width="1" stroke-opacity="0.55"/>
<line x1="404.5" y1="506.3" x2="404.5" y2="561.5" stroke="#26a69a" stroke-width="1" stroke-opacity="0.55"/>
<line x1="406.5" y1="521.0" x2="406.5" y2="561.5" stroke="#ef5350" stroke-width="1" stroke-opacity="0.55"/>
<line x1="409.5" y1="516.0" x2="409.5" y2="561.5" stroke="#ef5350" stroke-width="1" stroke-opacity="0.55"/>
<line x1="411.5" y1="502.2" x2="411.5" y2="561.5" stroke="#26a69a" stroke-width="1" stroke-opacity="0.55"/>
<line x1="414.5" y1="494.0" x2="414.5" y2="561.5" stroke="#ef5350" stroke-width="1" stroke-opacity="0.55"/>
<line x1="416.5" y1="526.2" x2="416.5" y2="561.5" stroke="#26a69a" stroke-width="1" stroke-opacity="0.55"/>
<line x1="419.5" y1="518.0" x2="419.5" y2="561.5" stroke="#ef5350" stroke-width="1" stroke-opacity="0.55"/>
<line x1="421.5" y1="516.9" x2="421.5" y2="561.5" stroke="#26a69a" stroke-width="1" stroke-opacity="0.55"/>
<line x1="424.5" y1="514.0" x2="424.5" y2="561.5" stroke="#ef5350" stroke-width="1" stroke-opacity="0.55"/>
<line x1="426.5" y1="508.7" x2="426.5" y2="561.5" stroke="#26a69a" stroke-width="1" stroke-opacity="0.55"/>
<line x1="429.5" y1="490.0" x2="429.5" y2="561.5" stroke="#26a69a" stroke-width="1" stroke-opacity="0.55"/>
<line x1="431.5" y1="493.2" x2="431.5" y2="561.5" stroke="#26a69a" stroke-width="1" stroke-opacity="0.55"/>
<line x1="434.5" y1="475.0" x2="434.5" y2="561.5" stroke="#26a69a" stroke-width="1" stroke-opacity="0.55"/>
<line x1="436.5" y1="491.1" x2="436.5" y2="561.5" stroke="#ef5350" stroke-width="1" stroke-opacity="0.55"/>
<line x1="439.5" y1="508.0" x2="439.5" y2="561.5" stroke="#ef5350" stroke-width="1" stroke-opacity="0.55"/>
<line x1="441.5" y1="496.1" x2="441.5" y2="561.5" stroke="#26a69a" stroke-width="1" stroke-opacity="0.55"/>
<line x1="444.5" y1="505.8" x2="444.5" y2="561.5" stroke="#26a69a" stroke-width="1" stroke-opacity="0.55"/>
<line x1="446.5" y1="499.0" x2="446.5" y2="561.5" stroke="#26a69a" stroke-width="1" stroke-opacity="0.55"/>
<line x1="449.5" y1="509.3" x2="449.5" y2="561.5" stroke="#26a69a" stroke-width="1" stroke-opacity="0.55"/>
<line x1="452.5" y1="480.0" x2="452.5" y2="561.5" stroke="#26a69a" stroke-width="1" stroke-opacity="0.55"/>
<line x1="454.5" y1="499.3" x2="454.5" y2="561.5" stroke="#ef5350" stroke-width="1" stroke-opacity="0.55"/>
<line x1="457.5" y1="492.0" x2="457.5" y2="561.5" stroke="#26a69a" stroke-width="1" stroke-opacity="0.55"/>
<line x1="459.5" y1="496.1" x2="459.5" y2="561.5" stroke="#ef5350" stroke-width="1" stroke-opacity="0.55"/>
<line x1="462.5" y1="505.2" x2="462.5" y2="561.5" stroke="#26a69a" stroke-width="1" stroke-opacity="0.55"/>
<line x1="464.5" y1="506.4" x2="464.5" y2="561.5" stroke="#26a69a" stroke-width="1" stroke-opacity="0.55"/>
<line x1="467.5" y1="514.0" x2="467.5" y2="561.5" stroke="#26a69a" stroke-width="1" stroke-opacity="0.55"/>
<line x1="469.5" y1="505.2" x2="469.5" y2="561.5" stroke="#ef5350" stroke-width="1" stroke-opacity="0.55"/>
<line x1="472.5" y1="516.9" x2="472.5" y2="561.5" stroke="#ef5350" stroke-width="1" stroke-opacity="0.55"/>
<line x1="474.5" y1="512.2" x2="474.5" y2="561.5" stroke="#26a69a" stroke-width="1" stroke-opacity="0.55"/>
<line x1="477.5" y1="532.1" x2="477.5" y2="561.5" stroke="#ef5350" stroke-width="1" stroke-opacity="0.55"/>
<line x1="479.5" y1="510.2" x2="479.5" y2="561.5" stroke="#26a69a" stroke-width="1" stroke-opacity="0.55"/>
<line x1="482.5" y1="491.1" x2="482.5" y2="561.5" stroke="#26a69a" stroke-width="1" stroke-opacity="0.55"/>
<line x1="484.5" y1="485.3" x2="484.5" y2="561.5" stroke="#ef5350" stroke-width="1" stroke-opacity="0.55"/>
<line x1="487.5" y1="495.0" x2="487.5" y2="561.5" stroke="#26a69a" stroke-width="1" stroke-opacity="0.55"/>
<line x1="489.5" y1="495.0" x2="489.5" y2="561.5" stroke="#26a69a" stroke-width="1" stroke-opacity="0.55"/>
<line x1="492.5" y1="443.8" x2="492.5" y2="561.5" stroke="#26a69a" stroke-width="1" stroke-opacity="0.55"/>
<line x1="494.5" y1="428.0" x2="494.5" y2="561.5" stroke="#26a69a" stroke-width="1" stroke-opacity="0.55"/>
<line x1="497.5" y1="477.1" x2="497.5" y2="561.5" stroke="#ef5350" stroke-width="1" stroke-opacity="0.55"/>
<line x1="499.5" y1="473.0" x2="499.5" y2="561.5" stroke="#ef5350" stroke-width="1" stroke-opacity="0.55"/>
<line x1="502.5" y1="506.4" x2="502.5" y2="561.5" stroke="#26a69a" stroke-width="1" stroke-opacity="0.55"/>
<line x1="504.5" y1="497.0" x2="504.5" y2="561.5" stroke="#26a69a" stroke-width="1" stroke-opacity="0.55"/>
<line x1="507.5" y1="483.0" x2="507.5" y2="561.5" stroke="#26a69a" stroke-width="1" stroke-opacity="0.55"/>
<line x1="510.5" y1="513.0" x2="510.5" y2="561.5" stroke="#26a69a" stroke-width="1" stroke-opacity="0.55"/>
<line x1="512.5" y1="506.4" x2="512.5" y2="561.5" stroke="#ef5350" stroke-width="1" stroke-opacity="0.55"/>
<polyline points="8.0,558.8 50.0,557.1 82.7,557.6 144.0,555.8 175.4,552.6 205.5,551.8 238.0,550.8 265.6,547.0 285.7,545.0 319.5,546.3 330.0,546.0 345.0,542.0 360.0,530.0 381.8,510.8 400.0,505.0 420.0,506.0 440.0,505.0 455.0,502.3 470.0,500.6 486.0,502.6 494.7,493.9 512.0,494.7" fill="none" stroke="#2962ff" stroke-width="1.2" stroke-linejoin="round" />
<line x1="18.5" y1="431.2" x2="18.5" y2="454.8" stroke="#2962ff" stroke-width="1" stroke-opacity="0.35"/>
<line x1="17.0" y1="454.8" x2="20.0" y2="454.8" stroke="#2962ff" stroke-width="1" stroke-opacity="0.35"/>
<line x1="20.5" y1="435.9" x2="20.5" y2="457.1" stroke="#2962ff" stroke-width="1" stroke-opacity="0.35"/>
<line x1="19.0" y1="457.1" x2="22.0" y2="457.1" stroke="#2962ff" stroke-width="1" stroke-opacity="0.35"/>
<line x1="23.5" y1="431.2" x2="23.5" y2="450.8" stroke="#2962ff" stroke-width="1" stroke-opacity="0.35"/>
<line x1="22.0" y1="450.8" x2="25.0" y2="450.8" stroke="#2962ff" stroke-width="1" stroke-opacity="0.35"/>
<line x1="26.5" y1="434.7" x2="26.5" y2="461.0" stroke="#2962ff" stroke-width="1" stroke-opacity="0.35"/>
<line x1="25.0" y1="461.0" x2="28.0" y2="461.0" stroke="#2962ff" stroke-width="1" stroke-opacity="0.35"/>
<line x1="28.5" y1="429.3" x2="28.5" y2="454.1" stroke="#2962ff" stroke-width="1" stroke-opacity="0.35"/>
<line x1="27.0" y1="454.1" x2="30.0" y2="454.1" stroke="#2962ff" stroke-width="1" stroke-opacity="0.35"/>
<line x1="31.5" y1="427.7" x2="31.5" y2="450.6" stroke="#2962ff" stroke-width="1" stroke-opacity="0.35"/>
<line x1="30.0" y1="450.6" x2="33.0" y2="450.6" stroke="#2962ff" stroke-width="1" stroke-opacity="0.35"/>
<line x1="33.5" y1="425.3" x2="33.5" y2="446.4" stroke="#2962ff" stroke-width="1" stroke-opacity="0.35"/>
<line x1="32.0" y1="446.4" x2="35.0" y2="446.4" stroke="#2962ff" stroke-width="1" stroke-opacity="0.35"/>
<line x1="36.5" y1="426.5" x2="36.5" y2="454.5" stroke="#2962ff" stroke-width="1" stroke-opacity="0.35"/>
<line x1="35.0" y1="454.5" x2="38.0" y2="454.5" stroke="#2962ff" stroke-width="1" stroke-opacity="0.35"/>
<line x1="38.5" y1="430.0" x2="38.5" y2="455.7" stroke="#2962ff" stroke-width="1" stroke-opacity="0.35"/>
<line x1="37.0" y1="455.7" x2="40.0" y2="455.7" stroke="#2962ff" stroke-width="1" stroke-opacity="0.35"/>
<line x1="41.5" y1="440.5" x2="41.5" y2="463.3" stroke="#2962ff" stroke-width="1" stroke-opacity="0.35"/>
<line x1="40.0" y1="463.3" x2="43.0" y2="463.3" stroke="#2962ff" stroke-width="1" stroke-opacity="0.35"/>
<line x1="43.5" y1="440.5" x2="43.5" y2="461.3" stroke="#2962ff" stroke-width="1" stroke-opacity="0.35"/>
<line x1="42.0" y1="461.3" x2="45.0" y2="461.3" stroke="#2962ff" stroke-width="1" stroke-opacity="0.35"/>
<line x1="46.5" y1="440.5" x2="46.5" y2="459.3" stroke="#2962ff" stroke-width="1" stroke-opacity="0.35"/>
<line x1="45.0" y1="459.3" x2="48.0" y2="459.3" stroke="#2962ff" stroke-width="1" stroke-opacity="0.35"/>
<line x1="48.5" y1="440.5" x2="48.5" y2="466.3" stroke="#2962ff" stroke-width="1" stroke-opacity="0.35"/>
<line x1="47.0" y1="466.3" x2="50.0" y2="466.3" stroke="#2962ff" stroke-width="1" stroke-opacity="0.35"/>
<line x1="51.5" y1="434.7" x2="51.5" y2="459.0" stroke="#2962ff" stroke-width="1" stroke-opacity="0.35"/>
<line x1="50.0" y1="459.0" x2="53.0" y2="459.0" stroke="#2962ff" stroke-width="1" stroke-opacity="0.35"/>
<line x1="53.5" y1="431.2" x2="53.5" y2="453.8" stroke="#2962ff" stroke-width="1" stroke-opacity="0.35"/>
<line x1="52.0" y1="453.8" x2="55.0" y2="453.8" stroke="#2962ff" stroke-width="1" stroke-opacity="0.35"/>
<line x1="56.5" y1="437.0" x2="56.5" y2="457.1" stroke="#2962ff" stroke-width="1" stroke-opacity="0.35"/>
<line x1="55.0" y1="457.1" x2="58.0" y2="457.1" stroke="#2962ff" stroke-width="1" stroke-opacity="0.35"/>
<line x1="58.5" y1="437.0" x2="58.5" y2="464.1" stroke="#2962ff" stroke-width="1" stroke-opacity="0.35"/>
<line x1="57.0" y1="464.1" x2="60.0" y2="464.1" stroke="#2962ff" stroke-width="1" stroke-opacity="0.35"/>
<line x1="61.5" y1="437.0" x2="61.5" y2="462.1" stroke="#2962ff" stroke-width="1" stroke-opacity="0.35"/>
<line x1="60.0" y1="462.1" x2="63.0" y2="462.1" stroke="#2962ff" stroke-width="1" stroke-opacity="0.35"/>
<line x1="63.5" y1="445.7" x2="63.5" y2="468.0" stroke="#2962ff" stroke-width="1" stroke-opacity="0.35"/>
<line x1="62.0" y1="468.0" x2="65.0" y2="468.0" stroke="#2962ff" stroke-width="1" stroke-opacity="0.35"/>
<line x1="66.5" y1="447.6" x2="66.5" y2="467.8" stroke="#2962ff" stroke-width="1" stroke-opacity="0.35"/>
<line x1="65.0" y1="467.8" x2="68.0" y2="467.8" stroke="#2962ff" stroke-width="1" stroke-opacity="0.35"/>
<line x1="116.5" y1="432.4" x2="116.5" y2="458.9" stroke="#2962ff" stroke-width="1" stroke-opacity="0.35"/>
<line x1="115.0" y1="458.9" x2="118.0" y2="458.9" stroke="#2962ff" stroke-width="1" stroke-opacity="0.35"/>
<line x1="119.5" y1="433.5" x2="119.5" y2="457.9" stroke="#2962ff" stroke-width="1" stroke-opacity="0.35"/>
<line x1="118.0" y1="457.9" x2="121.0" y2="457.9" stroke="#2962ff" stroke-width="1" stroke-opacity="0.35"/>
<line x1="121.5" y1="433.5" x2="121.5" y2="455.9" stroke="#2962ff" stroke-width="1" stroke-opacity="0.35"/>
<line x1="120.0" y1="455.9" x2="123.0" y2="455.9" stroke="#2962ff" stroke-width="1" stroke-opacity="0.35"/>
<line x1="124.5" y1="432.4" x2="124.5" y2="452.9" stroke="#2962ff" stroke-width="1" stroke-opacity="0.35"/>
<line x1="123.0" y1="452.9" x2="126.0" y2="452.9" stroke="#2962ff" stroke-width="1" stroke-opacity="0.35"/>
<line x1="126.5" y1="432.4" x2="126.5" y2="459.9" stroke="#2962ff" stroke-width="1" stroke-opacity="0.35"/>
<line x1="125.0" y1="459.9" x2="128.0" y2="459.9" stroke="#2962ff" stroke-width="1" stroke-opacity="0.35"/>
<line x1="129.5" y1="433.5" x2="129.5" y2="458.9" stroke="#2962ff" stroke-width="1" stroke-opacity="0.35"/>
<line x1="128.0" y1="458.9" x2="131.0" y2="458.9" stroke="#2962ff" stroke-width="1" stroke-opacity="0.35"/>
<line x1="131.5" y1="437.0" x2="131.5" y2="460.1" stroke="#2962ff" stroke-width="1" stroke-opacity="0.35"/>
<line x1="130.0" y1="460.1" x2="133.0" y2="460.1" stroke="#2962ff" stroke-width="1" stroke-opacity="0.35"/>
<line x1="134.5" y1="437.0" x2="134.5" y2="458.1" stroke="#2962ff" stroke-width="1" stroke-opacity="0.35"/>
<line x1="133.0" y1="458.1" x2="136.0" y2="458.1" stroke="#2962ff" stroke-width="1" stroke-opacity="0.35"/>
<line x1="136.5" y1="430.0" x2="136.5" y2="449.7" stroke="#2962ff" stroke-width="1" stroke-opacity="0.35"/>
<line x1="135.0" y1="449.7" x2="138.0" y2="449.7" stroke="#2962ff" stroke-width="1" stroke-opacity="0.35"/>
<line x1="139.5" y1="427.7" x2="139.5" y2="454.6" stroke="#2962ff" stroke-width="1" stroke-opacity="0.35"/>
<line x1="138.0" y1="454.6" x2="141.0" y2="454.6" stroke="#2962ff" stroke-width="1" stroke-opacity="0.35"/>
<line x1="141.5" y1="427.7" x2="141.5" y2="452.6" stroke="#2962ff" stroke-width="1" stroke-opacity="0.35"/>
<line x1="140.0" y1="452.6" x2="143.0" y2="452.6" stroke="#2962ff" stroke-width="1" stroke-opacity="0.35"/>
<line x1="144.5" y1="426.5" x2="144.5" y2="449.5" stroke="#2962ff" stroke-width="1" stroke-opacity="0.35"/>
<line x1="143.0" y1="449.5" x2="146.0" y2="449.5" stroke="#2962ff" stroke-width="1" stroke-opacity="0.35"/>
<line x1="147.5" y1="417.1" x2="147.5" y2="438.9" stroke="#2962ff" stroke-width="1" stroke-opacity="0.35"/>
<line x1="146.0" y1="438.9" x2="149.0" y2="438.9" stroke="#2962ff" stroke-width="1" stroke-opacity="0.35"/>
<line x1="149.5" y1="408.9" x2="149.5" y2="438.4" stroke="#2962ff" stroke-width="1" stroke-opacity="0.35"/>
<line x1="148.0" y1="438.4" x2="151.0" y2="438.4" stroke="#2962ff" stroke-width="1" stroke-opacity="0.35"/>
<line x1="152.5" y1="410.1" x2="152.5" y2="437.5" stroke="#2962ff" stroke-width="1" stroke-opacity="0.35"/>
<line x1="151.0" y1="437.5" x2="154.0" y2="437.5" stroke="#2962ff" stroke-width="1" stroke-opacity="0.35"/>
<line x1="154.5" y1="423.0" x2="154.5" y2="447.3" stroke="#2962ff" stroke-width="1" stroke-opacity="0.35"/>
<line x1="153.0" y1="447.3" x2="156.0" y2="447.3" stroke="#2962ff" stroke-width="1" stroke-opacity="0.35"/>
<line x1="157.5" y1="418.3" x2="157.5" y2="441.0" stroke="#2962ff" stroke-width="1" stroke-opacity="0.35"/>
<line x1="156.0" y1="441.0" x2="159.0" y2="441.0" stroke="#2962ff" stroke-width="1" stroke-opacity="0.35"/>
<line x1="159.5" y1="410.1" x2="159.5" y2="431.5" stroke="#2962ff" stroke-width="1" stroke-opacity="0.35"/>
<line x1="158.0" y1="431.5" x2="161.0" y2="431.5" stroke="#2962ff" stroke-width="1" stroke-opacity="0.35"/>
<line x1="162.5" y1="406.6" x2="162.5" y2="435.3" stroke="#2962ff" stroke-width="1" stroke-opacity="0.35"/>
<line x1="161.0" y1="435.3" x2="164.0" y2="435.3" stroke="#2962ff" stroke-width="1" stroke-opacity="0.35"/>
<line x1="164.5" y1="404.3" x2="164.5" y2="431.2" stroke="#2962ff" stroke-width="1" stroke-opacity="0.35"/>
<line x1="163.0" y1="431.2" x2="166.0" y2="431.2" stroke="#2962ff" stroke-width="1" stroke-opacity="0.35"/>
<line x1="167.5" y1="408.9" x2="167.5" y2="433.4" stroke="#2962ff" stroke-width="1" stroke-opacity="0.35"/>
<line x1="166.0" y1="433.4" x2="169.0" y2="433.4" stroke="#2962ff" stroke-width="1" stroke-opacity="0.35"/>
<line x1="169.5" y1="413.6" x2="169.5" y2="435.7" stroke="#2962ff" stroke-width="1" stroke-opacity="0.35"/>
<line x1="168.0" y1="435.7" x2="171.0" y2="435.7" stroke="#2962ff" stroke-width="1" stroke-opacity="0.35"/>
<line x1="172.5" y1="423.0" x2="172.5" y2="451.3" stroke="#2962ff" stroke-width="1" stroke-opacity="0.35"/>
<line x1="171.0" y1="451.3" x2="174.0" y2="451.3" stroke="#2962ff" stroke-width="1" stroke-opacity="0.35"/>
<line x1="174.5" y1="418.3" x2="174.5" y2="445.0" stroke="#2962ff" stroke-width="1" stroke-opacity="0.35"/>
<line x1="173.0" y1="445.0" x2="176.0" y2="445.0" stroke="#2962ff" stroke-width="1" stroke-opacity="0.35"/>
<line x1="177.5" y1="410.1" x2="177.5" y2="435.5" stroke="#2962ff" stroke-width="1" stroke-opacity="0.35"/>
<line x1="176.0" y1="435.5" x2="179.0" y2="435.5" stroke="#2962ff" stroke-width="1" stroke-opacity="0.35"/>
<line x1="179.5" y1="416.0" x2="179.5" y2="438.9" stroke="#2962ff" stroke-width="1" stroke-opacity="0.35"/>
<line x1="178.0" y1="438.9" x2="181.0" y2="438.9" stroke="#2962ff" stroke-width="1" stroke-opacity="0.35"/>
<line x1="182.5" y1="419.5" x2="182.5" y2="440.1" stroke="#2962ff" stroke-width="1" stroke-opacity="0.35"/>
<line x1="181.0" y1="440.1" x2="184.0" y2="440.1" stroke="#2962ff" stroke-width="1" stroke-opacity="0.35"/>
<line x1="184.5" y1="413.6" x2="184.5" y2="441.7" stroke="#2962ff" stroke-width="1" stroke-opacity="0.35"/>
<line x1="183.0" y1="441.7" x2="186.0" y2="441.7" stroke="#2962ff" stroke-width="1" stroke-opacity="0.35"/>
<line x1="187.5" y1="411.3" x2="187.5" y2="437.6" stroke="#2962ff" stroke-width="1" stroke-opacity="0.35"/>
<line x1="186.0" y1="437.6" x2="189.0" y2="437.6" stroke="#2962ff" stroke-width="1" stroke-opacity="0.35"/>
<line x1="189.5" y1="405.4" x2="189.5" y2="430.2" stroke="#2962ff" stroke-width="1" stroke-opacity="0.35"/>
<line x1="188.0" y1="430.2" x2="191.0" y2="430.2" stroke="#2962ff" stroke-width="1" stroke-opacity="0.35"/>
<line x1="192.5" y1="419.5" x2="192.5" y2="441.1" stroke="#2962ff" stroke-width="1" stroke-opacity="0.35"/>
<line x1="191.0" y1="441.1" x2="194.0" y2="441.1" stroke="#2962ff" stroke-width="1" stroke-opacity="0.35"/>
<line x1="194.5" y1="414.8" x2="194.5" y2="443.8" stroke="#2962ff" stroke-width="1" stroke-opacity="0.35"/>
<line x1="193.0" y1="443.8" x2="196.0" y2="443.8" stroke="#2962ff" stroke-width="1" stroke-opacity="0.35"/>
<line x1="197.5" y1="411.3" x2="197.5" y2="438.6" stroke="#2962ff" stroke-width="1" stroke-opacity="0.35"/>
<line x1="196.0" y1="438.6" x2="199.0" y2="438.6" stroke="#2962ff" stroke-width="1" stroke-opacity="0.35"/>
<line x1="199.5" y1="406.6" x2="199.5" y2="432.3" stroke="#2962ff" stroke-width="1" stroke-opacity="0.35"/>
<line x1="198.0" y1="432.3" x2="201.0" y2="432.3" stroke="#2962ff" stroke-width="1" stroke-opacity="0.35"/>
<line x1="202.5" y1="412.5" x2="202.5" y2="435.7" stroke="#2962ff" stroke-width="1" stroke-opacity="0.35"/>
<line x1="201.0" y1="435.7" x2="204.0" y2="435.7" stroke="#2962ff" stroke-width="1" stroke-opacity="0.35"/>
<line x1="204.5" y1="421.8" x2="204.5" y2="442.2" stroke="#2962ff" stroke-width="1" stroke-opacity="0.35"/>
<line x1="203.0" y1="442.2" x2="206.0" y2="442.2" stroke="#2962ff" stroke-width="1" stroke-opacity="0.35"/>
<line x1="207.5" y1="418.3" x2="207.5" y2="446.0" stroke="#2962ff" stroke-width="1" stroke-opacity="0.35"/>
<line x1="206.0" y1="446.0" x2="209.0" y2="446.0" stroke="#2962ff" stroke-width="1" stroke-opacity="0.35"/>
<line x1="210.5" y1="413.6" x2="210.5" y2="439.7" stroke="#2962ff" stroke-width="1" stroke-opacity="0.35"/>
<line x1="209.0" y1="439.7" x2="212.0" y2="439.7" stroke="#2962ff" stroke-width="1" stroke-opacity="0.35"/>
<line x1="212.5" y1="413.6" x2="212.5" y2="437.7" stroke="#2962ff" stroke-width="1" stroke-opacity="0.35"/>
<line x1="211.0" y1="437.7" x2="214.0" y2="437.7" stroke="#2962ff" stroke-width="1" stroke-opacity="0.35"/>
<line x1="215.5" y1="405.4" x2="215.5" y2="428.2" stroke="#2962ff" stroke-width="1" stroke-opacity="0.35"/>
<line x1="214.0" y1="428.2" x2="217.0" y2="428.2" stroke="#2962ff" stroke-width="1" stroke-opacity="0.35"/>
<line x1="217.5" y1="400.8" x2="217.5" y2="431.0" stroke="#2962ff" stroke-width="1" stroke-opacity="0.35"/>
<line x1="216.0" y1="431.0" x2="219.0" y2="431.0" stroke="#2962ff" stroke-width="1" stroke-opacity="0.35"/>
<line x1="220.5" y1="397.2" x2="220.5" y2="425.8" stroke="#2962ff" stroke-width="1" stroke-opacity="0.35"/>
<line x1="219.0" y1="425.8" x2="222.0" y2="425.8" stroke="#2962ff" stroke-width="1" stroke-opacity="0.35"/>
<line x1="222.5" y1="392.6" x2="222.5" y2="419.5" stroke="#2962ff" stroke-width="1" stroke-opacity="0.35"/>
<line x1="221.0" y1="419.5" x2="224.0" y2="419.5" stroke="#2962ff" stroke-width="1" stroke-opacity="0.35"/>
<line x1="225.5" y1="387.9" x2="225.5" y2="413.2" stroke="#2962ff" stroke-width="1" stroke-opacity="0.35"/>
<line x1="224.0" y1="413.2" x2="227.0" y2="413.2" stroke="#2962ff" stroke-width="1" stroke-opacity="0.35"/>
<line x1="227.5" y1="387.9" x2="227.5" y2="411.2" stroke="#2962ff" stroke-width="1" stroke-opacity="0.35"/>
<line x1="226.0" y1="411.2" x2="229.0" y2="411.2" stroke="#2962ff" stroke-width="1" stroke-opacity="0.35"/>
<line x1="230.5" y1="390.2" x2="230.5" y2="420.3" stroke="#2962ff" stroke-width="1" stroke-opacity="0.35"/>
<line x1="229.0" y1="420.3" x2="232.0" y2="420.3" stroke="#2962ff" stroke-width="1" stroke-opacity="0.35"/>
<line x1="232.5" y1="391.4" x2="232.5" y2="419.4" stroke="#2962ff" stroke-width="1" stroke-opacity="0.35"/>
<line x1="231.0" y1="419.4" x2="234.0" y2="419.4" stroke="#2962ff" stroke-width="1" stroke-opacity="0.35"/>
<line x1="235.5" y1="389.1" x2="235.5" y2="415.3" stroke="#2962ff" stroke-width="1" stroke-opacity="0.35"/>
<line x1="234.0" y1="415.3" x2="237.0" y2="415.3" stroke="#2962ff" stroke-width="1" stroke-opacity="0.35"/>
<line x1="237.5" y1="382.0" x2="237.5" y2="406.8" stroke="#2962ff" stroke-width="1" stroke-opacity="0.35"/>
<line x1="236.0" y1="406.8" x2="239.0" y2="406.8" stroke="#2962ff" stroke-width="1" stroke-opacity="0.35"/>
<line x1="240.5" y1="378.5" x2="240.5" y2="410.6" stroke="#2962ff" stroke-width="1" stroke-opacity="0.35"/>
<line x1="239.0" y1="410.6" x2="242.0" y2="410.6" stroke="#2962ff" stroke-width="1" stroke-opacity="0.35"/>
<line x1="242.5" y1="377.4" x2="242.5" y2="407.6" stroke="#2962ff" stroke-width="1" stroke-opacity="0.35"/>
<line x1="241.0" y1="407.6" x2="244.0" y2="407.6" stroke="#2962ff" stroke-width="1" stroke-opacity="0.35"/>
<line x1="245.5" y1="376.2" x2="245.5" y2="404.5" stroke="#2962ff" stroke-width="1" stroke-opacity="0.35"/>
<line x1="244.0" y1="404.5" x2="247.0" y2="404.5" stroke="#2962ff" stroke-width="1" stroke-opacity="0.35"/>
<line x1="247.5" y1="371.5" x2="247.5" y2="398.2" stroke="#2962ff" stroke-width="1" stroke-opacity="0.35"/>
<line x1="246.0" y1="398.2" x2="249.0" y2="398.2" stroke="#2962ff" stroke-width="1" stroke-opacity="0.35"/>
<line x1="250.5" y1="366.8" x2="250.5" y2="391.9" stroke="#2962ff" stroke-width="1" stroke-opacity="0.35"/>
<line x1="249.0" y1="391.9" x2="252.0" y2="391.9" stroke="#2962ff" stroke-width="1" stroke-opacity="0.35"/>
<line x1="252.5" y1="363.3" x2="252.5" y2="395.7" stroke="#2962ff" stroke-width="1" stroke-opacity="0.35"/>
<line x1="251.0" y1="395.7" x2="254.0" y2="395.7" stroke="#2962ff" stroke-width="1" stroke-opacity="0.35"/>
<line x1="255.5" y1="362.1" x2="255.5" y2="392.6" stroke="#2962ff" stroke-width="1" stroke-opacity="0.35"/>
<line x1="254.0" y1="392.6" x2="257.0" y2="392.6" stroke="#2962ff" stroke-width="1" stroke-opacity="0.35"/>
<line x1="257.5" y1="356.3" x2="257.5" y2="385.3" stroke="#2962ff" stroke-width="1" stroke-opacity="0.35"/>
<line x1="256.0" y1="385.3" x2="259.0" y2="385.3" stroke="#2962ff" stroke-width="1" stroke-opacity="0.35"/>
<line x1="260.5" y1="349.3" x2="260.5" y2="376.9" stroke="#2962ff" stroke-width="1" stroke-opacity="0.35"/>
<line x1="259.0" y1="376.9" x2="262.0" y2="376.9" stroke="#2962ff" stroke-width="1" stroke-opacity="0.35"/>
<line x1="262.5" y1="328.2" x2="262.5" y2="364.6" stroke="#2962ff" stroke-width="1" stroke-opacity="0.35"/>
<line x1="261.0" y1="364.6" x2="264.0" y2="364.6" stroke="#2962ff" stroke-width="1" stroke-opacity="0.35"/>
<line x1="265.5" y1="314.2" x2="265.5" y2="349.8" stroke="#2962ff" stroke-width="1" stroke-opacity="0.35"/>
<line x1="264.0" y1="349.8" x2="267.0" y2="349.8" stroke="#2962ff" stroke-width="1" stroke-opacity="0.35"/>
<line x1="268.5" y1="311.8" x2="268.5" y2="345.6" stroke="#2962ff" stroke-width="1" stroke-opacity="0.35"/>
<line x1="267.0" y1="345.6" x2="270.0" y2="345.6" stroke="#2962ff" stroke-width="1" stroke-opacity="0.35"/>
<line x1="270.5" y1="286.1" x2="270.5" y2="320.1" stroke="#2962ff" stroke-width="1" stroke-opacity="0.35"/>
<line x1="269.0" y1="320.1" x2="272.0" y2="320.1" stroke="#2962ff" stroke-width="1" stroke-opacity="0.35"/>
<line x1="273.5" y1="302.5" x2="273.5" y2="333.1" stroke="#2962ff" stroke-width="1" stroke-opacity="0.35"/>
<line x1="272.0" y1="333.1" x2="275.0" y2="333.1" stroke="#2962ff" stroke-width="1" stroke-opacity="0.35"/>
<line x1="275.5" y1="318.9" x2="275.5" y2="355.1" stroke="#2962ff" stroke-width="1" stroke-opacity="0.35"/>
<line x1="274.0" y1="355.1" x2="277.0" y2="355.1" stroke="#2962ff" stroke-width="1" stroke-opacity="0.35"/>
<line x1="278.5" y1="332.9" x2="278.5" y2="365.9" stroke="#2962ff" stroke-width="1" stroke-opacity="0.35"/>
<line x1="277.0" y1="365.9" x2="280.0" y2="365.9" stroke="#2962ff" stroke-width="1" stroke-opacity="0.35"/>
<line x1="280.5" y1="335.2" x2="280.5" y2="366.0" stroke="#2962ff" stroke-width="1" stroke-opacity="0.35"/>
<line x1="279.0" y1="366.0" x2="282.0" y2="366.0" stroke="#2962ff" stroke-width="1" stroke-opacity="0.35"/>
<line x1="283.5" y1="321.2" x2="283.5" y2="351.2" stroke="#2962ff" stroke-width="1" stroke-opacity="0.35"/>
<line x1="282.0" y1="351.2" x2="285.0" y2="351.2" stroke="#2962ff" stroke-width="1" stroke-opacity="0.35"/>
<line x1="285.5" y1="316.5" x2="285.5" y2="353.9" stroke="#2962ff" stroke-width="1" stroke-opacity="0.35"/>
<line x1="284.0" y1="353.9" x2="287.0" y2="353.9" stroke="#2962ff" stroke-width="1" stroke-opacity="0.35"/>
<line x1="288.5" y1="335.2" x2="288.5" y2="369.0" stroke="#2962ff" stroke-width="1" stroke-opacity="0.35"/>
<line x1="287.0" y1="369.0" x2="290.0" y2="369.0" stroke="#2962ff" stroke-width="1" stroke-opacity="0.35"/>
<line x1="290.5" y1="332.9" x2="290.5" y2="364.9" stroke="#2962ff" stroke-width="1" stroke-opacity="0.35"/>
<line x1="289.0" y1="364.9" x2="292.0" y2="364.9" stroke="#2962ff" stroke-width="1" stroke-opacity="0.35"/>
<line x1="293.5" y1="337.6" x2="293.5" y2="367.2" stroke="#2962ff" stroke-width="1" stroke-opacity="0.35"/>
<line x1="292.0" y1="367.2" x2="295.0" y2="367.2" stroke="#2962ff" stroke-width="1" stroke-opacity="0.35"/>
<line x1="295.5" y1="339.9" x2="295.5" y2="367.3" stroke="#2962ff" stroke-width="1" stroke-opacity="0.35"/>
<line x1="294.0" y1="367.3" x2="297.0" y2="367.3" stroke="#2962ff" stroke-width="1" stroke-opacity="0.35"/>
<line x1="298.5" y1="331.7" x2="298.5" y2="366.8" stroke="#2962ff" stroke-width="1" stroke-opacity="0.35"/>
<line x1="297.0" y1="366.8" x2="300.0" y2="366.8" stroke="#2962ff" stroke-width="1" stroke-opacity="0.35"/>
<line x1="300.5" y1="315.4" x2="300.5" y2="349.9" stroke="#2962ff" stroke-width="1" stroke-opacity="0.35"/>
<line x1="299.0" y1="349.9" x2="302.0" y2="349.9" stroke="#2962ff" stroke-width="1" stroke-opacity="0.35"/>
<line x1="303.5" y1="318.9" x2="303.5" y2="351.1" stroke="#2962ff" stroke-width="1" stroke-opacity="0.35"/>
<line x1="302.0" y1="351.1" x2="305.0" y2="351.1" stroke="#2962ff" stroke-width="1" stroke-opacity="0.35"/>
<line x1="305.5" y1="322.4" x2="305.5" y2="352.3" stroke="#2962ff" stroke-width="1" stroke-opacity="0.35"/>
<line x1="304.0" y1="352.3" x2="307.0" y2="352.3" stroke="#2962ff" stroke-width="1" stroke-opacity="0.35"/>
<line x1="308.5" y1="324.7" x2="308.5" y2="361.4" stroke="#2962ff" stroke-width="1" stroke-opacity="0.35"/>
<line x1="307.0" y1="361.4" x2="310.0" y2="361.4" stroke="#2962ff" stroke-width="1" stroke-opacity="0.35"/>
<line x1="310.5" y1="322.4" x2="310.5" y2="357.3" stroke="#2962ff" stroke-width="1" stroke-opacity="0.35"/>
<line x1="309.0" y1="357.3" x2="312.0" y2="357.3" stroke="#2962ff" stroke-width="1" stroke-opacity="0.35"/>
<line x1="313.5" y1="318.9" x2="313.5" y2="352.1" stroke="#2962ff" stroke-width="1" stroke-opacity="0.35"/>
<line x1="312.0" y1="352.1" x2="315.0" y2="352.1" stroke="#2962ff" stroke-width="1" stroke-opacity="0.35"/>
<line x1="315.5" y1="315.4" x2="315.5" y2="346.9" stroke="#2962ff" stroke-width="1" stroke-opacity="0.35"/>
<line x1="314.0" y1="346.9" x2="317.0" y2="346.9" stroke="#2962ff" stroke-width="1" stroke-opacity="0.35"/>
<line x1="318.5" y1="313.0" x2="318.5" y2="342.7" stroke="#2962ff" stroke-width="1" stroke-opacity="0.35"/>
<line x1="317.0" y1="342.7" x2="320.0" y2="342.7" stroke="#2962ff" stroke-width="1" stroke-opacity="0.35"/>
<line x1="320.5" y1="318.9" x2="320.5" y2="355.1" stroke="#2962ff" stroke-width="1" stroke-opacity="0.35"/>
<line x1="319.0" y1="355.1" x2="322.0" y2="355.1" stroke="#2962ff" stroke-width="1" stroke-opacity="0.35"/>
<line x1="323.5" y1="321.2" x2="323.5" y2="355.2" stroke="#2962ff" stroke-width="1" stroke-opacity="0.35"/>
<line x1="322.0" y1="355.2" x2="325.0" y2="355.2" stroke="#2962ff" stroke-width="1" stroke-opacity="0.35"/>
<line x1="333.5" y1="390.2" x2="333.5" y2="419.3" stroke="#e91e63" stroke-width="1" stroke-opacity="0.35"/>
<line x1="332.0" y1="419.3" x2="335.0" y2="419.3" stroke="#e91e63" stroke-width="1" stroke-opacity="0.35"/>
<line x1="336.5" y1="364.5" x2="336.5" y2="393.8" stroke="#e91e63" stroke-width="1" stroke-opacity="0.35"/>
<line x1="335.0" y1="393.8" x2="338.0" y2="393.8" stroke="#e91e63" stroke-width="1" stroke-opacity="0.35"/>
<line x1="338.5" y1="351.6" x2="338.5" y2="380.0" stroke="#e91e63" stroke-width="1" stroke-opacity="0.35"/>
<line x1="337.0" y1="380.0" x2="340.0" y2="380.0" stroke="#e91e63" stroke-width="1" stroke-opacity="0.35"/>
<line x1="341.5" y1="359.8" x2="341.5" y2="385.5" stroke="#e91e63" stroke-width="1" stroke-opacity="0.35"/>
<line x1="340.0" y1="385.5" x2="343.0" y2="385.5" stroke="#e91e63" stroke-width="1" stroke-opacity="0.35"/>
<line x1="343.5" y1="356.3" x2="343.5" y2="389.3" stroke="#e91e63" stroke-width="1" stroke-opacity="0.35"/>
<line x1="342.0" y1="389.3" x2="345.0" y2="389.3" stroke="#e91e63" stroke-width="1" stroke-opacity="0.35"/>
<line x1="346.5" y1="339.9" x2="346.5" y2="372.3" stroke="#e91e63" stroke-width="1" stroke-opacity="0.35"/>
<line x1="345.0" y1="372.3" x2="348.0" y2="372.3" stroke="#e91e63" stroke-width="1" stroke-opacity="0.35"/>
<line x1="348.5" y1="335.2" x2="348.5" y2="366.0" stroke="#e91e63" stroke-width="1" stroke-opacity="0.35"/>
<line x1="347.0" y1="366.0" x2="350.0" y2="366.0" stroke="#e91e63" stroke-width="1" stroke-opacity="0.35"/>
<line x1="351.5" y1="328.2" x2="351.5" y2="357.6" stroke="#2962ff" stroke-width="1" stroke-opacity="0.35"/>
<line x1="350.0" y1="357.6" x2="353.0" y2="357.6" stroke="#2962ff" stroke-width="1" stroke-opacity="0.35"/>
<line x1="353.5" y1="310.7" x2="353.5" y2="348.6" stroke="#2962ff" stroke-width="1" stroke-opacity="0.35"/>
<line x1="352.0" y1="348.6" x2="355.0" y2="348.6" stroke="#2962ff" stroke-width="1" stroke-opacity="0.35"/>
<line x1="356.5" y1="311.8" x2="356.5" y2="347.6" stroke="#2962ff" stroke-width="1" stroke-opacity="0.35"/>
<line x1="355.0" y1="347.6" x2="358.0" y2="347.6" stroke="#2962ff" stroke-width="1" stroke-opacity="0.35"/>
<line x1="358.5" y1="297.8" x2="358.5" y2="332.8" stroke="#2962ff" stroke-width="1" stroke-opacity="0.35"/>
<line x1="357.0" y1="332.8" x2="360.0" y2="332.8" stroke="#2962ff" stroke-width="1" stroke-opacity="0.35"/>
<line x1="361.5" y1="281.4" x2="361.5" y2="315.8" stroke="#2962ff" stroke-width="1" stroke-opacity="0.35"/>
<line x1="360.0" y1="315.8" x2="363.0" y2="315.8" stroke="#2962ff" stroke-width="1" stroke-opacity="0.35"/>
<line x1="363.5" y1="267.4" x2="363.5" y2="301.0" stroke="#2962ff" stroke-width="1" stroke-opacity="0.35"/>
<line x1="362.0" y1="301.0" x2="365.0" y2="301.0" stroke="#2962ff" stroke-width="1" stroke-opacity="0.35"/>
<line x1="366.5" y1="255.7" x2="366.5" y2="297.3" stroke="#2962ff" stroke-width="1" stroke-opacity="0.35"/>
<line x1="365.0" y1="297.3" x2="368.0" y2="297.3" stroke="#2962ff" stroke-width="1" stroke-opacity="0.35"/>
<line x1="368.5" y1="239.3" x2="368.5" y2="280.3" stroke="#2962ff" stroke-width="1" stroke-opacity="0.35"/>
<line x1="367.0" y1="280.3" x2="370.0" y2="280.3" stroke="#2962ff" stroke-width="1" stroke-opacity="0.35"/>
<line x1="371.5" y1="246.3" x2="371.5" y2="284.7" stroke="#2962ff" stroke-width="1" stroke-opacity="0.35"/>
<line x1="370.0" y1="284.7" x2="373.0" y2="284.7" stroke="#2962ff" stroke-width="1" stroke-opacity="0.35"/>
<line x1="373.5" y1="238.1" x2="373.5" y2="275.2" stroke="#2962ff" stroke-width="1" stroke-opacity="0.35"/>
<line x1="372.0" y1="275.2" x2="375.0" y2="275.2" stroke="#2962ff" stroke-width="1" stroke-opacity="0.35"/>
<line x1="376.5" y1="239.3" x2="376.5" y2="283.3" stroke="#2962ff" stroke-width="1" stroke-opacity="0.35"/>
<line x1="375.0" y1="283.3" x2="378.0" y2="283.3" stroke="#2962ff" stroke-width="1" stroke-opacity="0.35"/>
<line x1="378.5" y1="229.9" x2="378.5" y2="272.7" stroke="#2962ff" stroke-width="1" stroke-opacity="0.35"/>
<line x1="377.0" y1="272.7" x2="380.0" y2="272.7" stroke="#2962ff" stroke-width="1" stroke-opacity="0.35"/>
<line x1="381.5" y1="211.2" x2="381.5" y2="253.6" stroke="#2962ff" stroke-width="1" stroke-opacity="0.35"/>
<line x1="380.0" y1="253.6" x2="383.0" y2="253.6" stroke="#2962ff" stroke-width="1" stroke-opacity="0.35"/>
<line x1="383.5" y1="211.2" x2="383.5" y2="251.6" stroke="#2962ff" stroke-width="1" stroke-opacity="0.35"/>
<line x1="382.0" y1="251.6" x2="385.0" y2="251.6" stroke="#2962ff" stroke-width="1" stroke-opacity="0.35"/>
<line x1="386.5" y1="213.6" x2="386.5" y2="251.8" stroke="#2962ff" stroke-width="1" stroke-opacity="0.35"/>
<line x1="385.0" y1="251.8" x2="388.0" y2="251.8" stroke="#2962ff" stroke-width="1" stroke-opacity="0.35"/>
<line x1="389.5" y1="206.5" x2="389.5" y2="252.3" stroke="#2962ff" stroke-width="1" stroke-opacity="0.35"/>
<line x1="388.0" y1="252.3" x2="391.0" y2="252.3" stroke="#2962ff" stroke-width="1" stroke-opacity="0.35"/>
<line x1="391.5" y1="204.2" x2="391.5" y2="248.2" stroke="#2962ff" stroke-width="1" stroke-opacity="0.35"/>
<line x1="390.0" y1="248.2" x2="393.0" y2="248.2" stroke="#2962ff" stroke-width="1" stroke-opacity="0.35"/>
<line x1="394.5" y1="229.9" x2="394.5" y2="269.7" stroke="#2962ff" stroke-width="1" stroke-opacity="0.35"/>
<line x1="393.0" y1="269.7" x2="396.0" y2="269.7" stroke="#2962ff" stroke-width="1" stroke-opacity="0.35"/>
<line x1="396.5" y1="269.7" x2="396.5" y2="304.1" stroke="#2962ff" stroke-width="1" stroke-opacity="0.35"/>
<line x1="395.0" y1="304.1" x2="398.0" y2="304.1" stroke="#2962ff" stroke-width="1" stroke-opacity="0.35"/>
<line x1="399.5" y1="269.7" x2="399.5" y2="311.1" stroke="#2962ff" stroke-width="1" stroke-opacity="0.35"/>
<line x1="398.0" y1="311.1" x2="401.0" y2="311.1" stroke="#2962ff" stroke-width="1" stroke-opacity="0.35"/>
<line x1="401.5" y1="274.4" x2="401.5" y2="313.4" stroke="#2962ff" stroke-width="1" stroke-opacity="0.35"/>
<line x1="400.0" y1="313.4" x2="403.0" y2="313.4" stroke="#2962ff" stroke-width="1" stroke-opacity="0.35"/>
<line x1="404.5" y1="262.7" x2="404.5" y2="300.7" stroke="#2962ff" stroke-width="1" stroke-opacity="0.35"/>
<line x1="403.0" y1="300.7" x2="406.0" y2="300.7" stroke="#2962ff" stroke-width="1" stroke-opacity="0.35"/>
<line x1="406.5" y1="281.4" x2="406.5" y2="315.8" stroke="#2962ff" stroke-width="1" stroke-opacity="0.35"/>
<line x1="405.0" y1="315.8" x2="408.0" y2="315.8" stroke="#2962ff" stroke-width="1" stroke-opacity="0.35"/>
<line x1="414.5" y1="310.7" x2="414.5" y2="345.6" stroke="#2962ff" stroke-width="1" stroke-opacity="0.35"/>
<line x1="413.0" y1="345.6" x2="416.0" y2="345.6" stroke="#2962ff" stroke-width="1" stroke-opacity="0.35"/>
<line x1="416.5" y1="309.5" x2="416.5" y2="342.5" stroke="#2962ff" stroke-width="1" stroke-opacity="0.35"/>
<line x1="415.0" y1="342.5" x2="418.0" y2="342.5" stroke="#2962ff" stroke-width="1" stroke-opacity="0.35"/>
<line x1="419.5" y1="307.2" x2="419.5" y2="338.4" stroke="#2962ff" stroke-width="1" stroke-opacity="0.35"/>
<line x1="418.0" y1="338.4" x2="421.0" y2="338.4" stroke="#2962ff" stroke-width="1" stroke-opacity="0.35"/>
<line x1="421.5" y1="307.2" x2="421.5" y2="345.4" stroke="#2962ff" stroke-width="1" stroke-opacity="0.35"/>
<line x1="420.0" y1="345.4" x2="423.0" y2="345.4" stroke="#2962ff" stroke-width="1" stroke-opacity="0.35"/>
<line x1="424.5" y1="300.1" x2="424.5" y2="336.9" stroke="#2962ff" stroke-width="1" stroke-opacity="0.35"/>
<line x1="423.0" y1="336.9" x2="426.0" y2="336.9" stroke="#2962ff" stroke-width="1" stroke-opacity="0.35"/>
<line x1="426.5" y1="302.5" x2="426.5" y2="337.1" stroke="#2962ff" stroke-width="1" stroke-opacity="0.35"/>
<line x1="425.0" y1="337.1" x2="428.0" y2="337.1" stroke="#2962ff" stroke-width="1" stroke-opacity="0.35"/>
<line x1="429.5" y1="293.1" x2="429.5" y2="326.5" stroke="#2962ff" stroke-width="1" stroke-opacity="0.35"/>
<line x1="428.0" y1="326.5" x2="431.0" y2="326.5" stroke="#2962ff" stroke-width="1" stroke-opacity="0.35"/>
<line x1="431.5" y1="279.1" x2="431.5" y2="311.7" stroke="#2962ff" stroke-width="1" stroke-opacity="0.35"/>
<line x1="430.0" y1="311.7" x2="433.0" y2="311.7" stroke="#2962ff" stroke-width="1" stroke-opacity="0.35"/>
<line x1="434.5" y1="269.7" x2="434.5" y2="310.1" stroke="#2962ff" stroke-width="1" stroke-opacity="0.35"/>
<line x1="433.0" y1="310.1" x2="436.0" y2="310.1" stroke="#2962ff" stroke-width="1" stroke-opacity="0.35"/>
<line x1="436.5" y1="274.4" x2="436.5" y2="312.4" stroke="#2962ff" stroke-width="1" stroke-opacity="0.35"/>
<line x1="435.0" y1="312.4" x2="438.0" y2="312.4" stroke="#2962ff" stroke-width="1" stroke-opacity="0.35"/>
<line x1="439.5" y1="304.8" x2="439.5" y2="338.2" stroke="#2962ff" stroke-width="1" stroke-opacity="0.35"/>
<line x1="438.0" y1="338.2" x2="441.0" y2="338.2" stroke="#2962ff" stroke-width="1" stroke-opacity="0.35"/>
<line x1="441.5" y1="303.6" x2="441.5" y2="335.1" stroke="#2962ff" stroke-width="1" stroke-opacity="0.35"/>
<line x1="440.0" y1="335.1" x2="443.0" y2="335.1" stroke="#2962ff" stroke-width="1" stroke-opacity="0.35"/>
<line x1="444.5" y1="290.8" x2="444.5" y2="330.4" stroke="#2962ff" stroke-width="1" stroke-opacity="0.35"/>
<line x1="443.0" y1="330.4" x2="446.0" y2="330.4" stroke="#2962ff" stroke-width="1" stroke-opacity="0.35"/>
<line x1="446.5" y1="280.2" x2="446.5" y2="318.8" stroke="#2962ff" stroke-width="1" stroke-opacity="0.35"/>
<line x1="445.0" y1="318.8" x2="448.0" y2="318.8" stroke="#2962ff" stroke-width="1" stroke-opacity="0.35"/>
<line x1="449.5" y1="272.1" x2="449.5" y2="309.3" stroke="#2962ff" stroke-width="1" stroke-opacity="0.35"/>
<line x1="448.0" y1="309.3" x2="451.0" y2="309.3" stroke="#2962ff" stroke-width="1" stroke-opacity="0.35"/>
<line x1="452.5" y1="255.7" x2="452.5" y2="292.3" stroke="#2962ff" stroke-width="1" stroke-opacity="0.35"/>
<line x1="451.0" y1="292.3" x2="454.0" y2="292.3" stroke="#2962ff" stroke-width="1" stroke-opacity="0.35"/>
<line x1="454.5" y1="273.2" x2="454.5" y2="306.3" stroke="#2962ff" stroke-width="1" stroke-opacity="0.35"/>
<line x1="453.0" y1="306.3" x2="456.0" y2="306.3" stroke="#2962ff" stroke-width="1" stroke-opacity="0.35"/>
<line x1="457.5" y1="261.5" x2="457.5" y2="302.6" stroke="#2962ff" stroke-width="1" stroke-opacity="0.35"/>
<line x1="456.0" y1="302.6" x2="459.0" y2="302.6" stroke="#2962ff" stroke-width="1" stroke-opacity="0.35"/>
<line x1="459.5" y1="253.3" x2="459.5" y2="293.1" stroke="#2962ff" stroke-width="1" stroke-opacity="0.35"/>
<line x1="458.0" y1="293.1" x2="461.0" y2="293.1" stroke="#2962ff" stroke-width="1" stroke-opacity="0.35"/>
<line x1="462.5" y1="260.4" x2="462.5" y2="297.6" stroke="#2962ff" stroke-width="1" stroke-opacity="0.35"/>
<line x1="461.0" y1="297.6" x2="464.0" y2="297.6" stroke="#2962ff" stroke-width="1" stroke-opacity="0.35"/>
<line x1="464.5" y1="267.4" x2="464.5" y2="302.0" stroke="#2962ff" stroke-width="1" stroke-opacity="0.35"/>
<line x1="463.0" y1="302.0" x2="466.0" y2="302.0" stroke="#2962ff" stroke-width="1" stroke-opacity="0.35"/>
<line x1="467.5" y1="251.0" x2="467.5" y2="294.0" stroke="#2962ff" stroke-width="1" stroke-opacity="0.35"/>
<line x1="466.0" y1="294.0" x2="469.0" y2="294.0" stroke="#2962ff" stroke-width="1" stroke-opacity="0.35"/>
<line x1="469.5" y1="251.0" x2="469.5" y2="292.0" stroke="#2962ff" stroke-width="1" stroke-opacity="0.35"/>
<line x1="468.0" y1="292.0" x2="471.0" y2="292.0" stroke="#2962ff" stroke-width="1" stroke-opacity="0.35"/>
<line x1="472.5" y1="262.7" x2="472.5" y2="300.7" stroke="#2962ff" stroke-width="1" stroke-opacity="0.35"/>
<line x1="471.0" y1="300.7" x2="474.0" y2="300.7" stroke="#2962ff" stroke-width="1" stroke-opacity="0.35"/>
<line x1="474.5" y1="252.2" x2="474.5" y2="289.1" stroke="#2962ff" stroke-width="1" stroke-opacity="0.35"/>
<line x1="473.0" y1="289.1" x2="476.0" y2="289.1" stroke="#2962ff" stroke-width="1" stroke-opacity="0.35"/>
<line x1="477.5" y1="255.7" x2="477.5" y2="290.3" stroke="#2962ff" stroke-width="1" stroke-opacity="0.35"/>
<line x1="476.0" y1="290.3" x2="479.0" y2="290.3" stroke="#2962ff" stroke-width="1" stroke-opacity="0.35"/>
<line x1="479.5" y1="248.7" x2="479.5" y2="290.9" stroke="#2962ff" stroke-width="1" stroke-opacity="0.35"/>
<line x1="478.0" y1="290.9" x2="481.0" y2="290.9" stroke="#2962ff" stroke-width="1" stroke-opacity="0.35"/>
<line x1="482.5" y1="241.6" x2="482.5" y2="282.4" stroke="#2962ff" stroke-width="1" stroke-opacity="0.35"/>
<line x1="481.0" y1="282.4" x2="484.0" y2="282.4" stroke="#2962ff" stroke-width="1" stroke-opacity="0.35"/>
<line x1="484.5" y1="292.4" x2="484.5" y2="326.9" stroke="#2962ff" stroke-width="1" stroke-opacity="0.35"/>
<line x1="483.0" y1="326.9" x2="486.0" y2="326.9" stroke="#2962ff" stroke-width="1" stroke-opacity="0.35"/>
<line x1="487.5" y1="260.4" x2="487.5" y2="295.6" stroke="#2962ff" stroke-width="1" stroke-opacity="0.35"/>
<line x1="486.0" y1="295.6" x2="489.0" y2="295.6" stroke="#2962ff" stroke-width="1" stroke-opacity="0.35"/>
<line x1="489.5" y1="234.6" x2="489.5" y2="279.0" stroke="#2962ff" stroke-width="1" stroke-opacity="0.35"/>
<line x1="488.0" y1="279.0" x2="491.0" y2="279.0" stroke="#2962ff" stroke-width="1" stroke-opacity="0.35"/>
<line x1="492.5" y1="222.9" x2="492.5" y2="266.3" stroke="#2962ff" stroke-width="1" stroke-opacity="0.35"/>
<line x1="491.0" y1="266.3" x2="494.0" y2="266.3" stroke="#2962ff" stroke-width="1" stroke-opacity="0.35"/>
<line x1="494.5" y1="194.8" x2="494.5" y2="238.6" stroke="#2962ff" stroke-width="1" stroke-opacity="0.35"/>
<line x1="493.0" y1="238.6" x2="496.0" y2="238.6" stroke="#2962ff" stroke-width="1" stroke-opacity="0.35"/>
<line x1="497.5" y1="164.4" x2="497.5" y2="208.8" stroke="#2962ff" stroke-width="1" stroke-opacity="0.35"/>
<line x1="496.0" y1="208.8" x2="499.0" y2="208.8" stroke="#2962ff" stroke-width="1" stroke-opacity="0.35"/>
<line x1="499.5" y1="164.4" x2="499.5" y2="206.8" stroke="#2962ff" stroke-width="1" stroke-opacity="0.35"/>
<line x1="498.0" y1="206.8" x2="501.0" y2="206.8" stroke="#2962ff" stroke-width="1" stroke-opacity="0.35"/>
<line x1="502.5" y1="176.1" x2="502.5" y2="224.5" stroke="#2962ff" stroke-width="1" stroke-opacity="0.35"/>
<line x1="501.0" y1="224.5" x2="504.0" y2="224.5" stroke="#2962ff" stroke-width="1" stroke-opacity="0.35"/>
<line x1="504.5" y1="159.7" x2="504.5" y2="207.5" stroke="#2962ff" stroke-width="1" stroke-opacity="0.35"/>
<line x1="503.0" y1="207.5" x2="506.0" y2="207.5" stroke="#2962ff" stroke-width="1" stroke-opacity="0.35"/>
<line x1="507.5" y1="129.3" x2="507.5" y2="177.7" stroke="#2962ff" stroke-width="1" stroke-opacity="0.35"/>
<line x1="506.0" y1="177.7" x2="509.0" y2="177.7" stroke="#2962ff" stroke-width="1" stroke-opacity="0.35"/>
<line x1="510.5" y1="124.6" x2="510.5" y2="171.4" stroke="#2962ff" stroke-width="1" stroke-opacity="0.35"/>
<line x1="509.0" y1="171.4" x2="512.0" y2="171.4" stroke="#2962ff" stroke-width="1" stroke-opacity="0.35"/>
<line x1="512.5" y1="161.7" x2="512.5" y2="212.3" stroke="#2962ff" stroke-width="1" stroke-opacity="0.35"/>
<line x1="511.0" y1="212.3" x2="514.0" y2="212.3" stroke="#2962ff" stroke-width="1" stroke-opacity="0.35"/>
<polyline points="8.0,375.4 10.9,375.4 13.4,392.3 15.9,396.8 18.5,397.2 21.0,398.1 23.5,396.9 26.0,395.3 28.5,394.2 31.1,394.1 33.6,392.8 36.1,391.3 38.6,391.1 41.1,391.8 43.7,393.3 46.2,398.2 48.7,403.2 51.2,407.9 53.7,408.8 56.3,409.0 58.8,409.0 61.3,410.4 63.8,413.2 66.4,417.5 68.9,417.0 71.4,417.1 73.9,417.2 76.4,417.6 79.0,417.5 81.5,418.9 84.0,420.2 86.5,422.4 89.0,424.0 91.6,423.3 94.1,423.6 96.6,424.0 99.1,424.9 101.6,426.6 104.2,430.1 106.7,431.4 109.2,432.7 111.7,435.4 114.2,432.0 116.8,429.8 119.3,427.1 121.8,425.5 124.3,422.1 126.9,420.7 129.4,419.2 131.9,419.7 134.4,419.2 136.9,417.6 139.5,416.1 142.0,415.2 144.5,412.3 147.0,407.7 149.5,403.7 152.1,401.3 154.6,401.0 157.1,400.2 159.6,400.3 162.1,397.3 164.7,395.2 167.2,393.5 169.7,393.1 172.2,393.3 174.7,392.6 177.3,392.1 179.8,392.5 182.3,394.2 184.8,395.2 187.4,395.4 189.9,395.0 192.4,396.5 194.9,396.8 197.4,396.1 200.0,396.1 202.5,396.2 205.0,396.3 207.5,396.3 210.0,396.5 212.6,398.6 215.1,397.8 217.6,396.2 220.1,393.2 222.6,389.1 225.2,385.2 227.7,382.7 230.2,381.1 232.7,379.6 235.2,376.9 237.8,373.8 240.3,370.6 242.8,368.2 245.3,365.4 247.9,360.7 250.4,356.5 252.9,353.2 255.4,350.6 257.9,346.9 260.5,336.4 263.0,325.7 265.5,308.0 268.0,293.5 270.5,278.2 273.1,271.7 275.6,268.8 278.1,267.0 280.6,266.1 283.1,265.2 285.7,263.6 288.2,264.6 290.7,265.8 293.2,267.9 295.7,270.0 298.3,270.8 300.8,272.1 303.3,274.3 305.8,276.7 308.4,278.7 310.9,278.5 313.4,278.5 315.9,282.3 318.4,287.2 321.0,299.5 323.5,302.9 326.0,303.0 328.5,301.8 331.0,287.7 333.6,286.4 336.1,288.6 338.6,288.4 341.1,288.1 343.6,288.1 346.2,288.2 348.7,289.3 351.2,288.6 353.7,283.2 356.2,280.1 358.8,271.4 361.3,263.1 363.8,253.0 366.3,239.2 368.8,222.6 371.4,212.9 373.9,203.3 376.4,194.2 378.9,181.9 381.5,174.8 384.0,166.5 386.5,159.3 389.0,154.7 391.5,153.2 394.1,155.6 396.6,160.6 399.1,167.1 401.6,171.8 404.1,174.0 406.7,176.6 409.2,172.1 411.7,168.7 414.2,164.5 416.7,164.4 419.3,165.0 421.8,165.1 424.3,165.8 426.8,167.7 429.3,173.7 431.9,181.5 434.4,190.9 436.9,201.3 439.4,214.1 442.0,230.8 444.5,240.7 447.0,246.1 449.5,243.7 452.0,240.1 454.6,243.3 457.1,239.1 459.6,236.5 462.1,233.7 464.6,231.4 467.2,227.8 469.7,227.2 472.2,226.7 474.7,226.8 477.2,227.0 479.8,224.8 482.3,222.1 484.8,222.1 487.3,219.4 489.8,220.4 492.4,210.6 494.9,187.5 497.4,172.1 499.9,160.4 502.5,147.6 505.0,131.8 507.5,115.9 510.0,99.8 512.5,94.1" fill="none" stroke="#089981" stroke-width="1.1" stroke-linejoin="round" />
<polyline points="8.0,505.7 10.9,505.7 13.4,494.9 15.9,492.3 18.5,492.2 21.0,492.0 23.5,491.6 26.0,491.0 28.5,490.9 31.1,490.9 33.6,490.9 36.1,488.6 38.6,484.8 41.1,480.9 43.7,475.9 46.2,466.1 48.7,456.7 51.2,448.2 53.7,445.0 56.3,444.5 58.8,444.6 61.3,444.8 63.8,445.7 66.4,444.9 68.9,447.7 71.4,449.1 73.9,450.3 76.4,451.8 79.0,454.6 81.5,457.7 84.0,459.7 86.5,459.7 89.0,459.8 91.6,459.9 94.1,460.0 96.6,460.3 99.1,460.7 101.6,461.5 104.2,460.6 106.7,461.1 109.2,461.7 111.7,460.5 114.2,462.3 116.8,463.3 119.3,464.0 121.8,464.4 124.3,465.7 126.9,465.6 129.4,464.6 131.9,461.6 134.4,459.4 136.9,459.0 139.5,458.3 142.0,458.5 144.5,458.9 147.0,459.7 149.5,459.5 152.1,457.3 154.6,454.0 157.1,450.4 159.6,445.3 162.1,443.1 164.7,442.7 167.2,441.7 169.7,440.4 172.2,438.7 174.7,438.0 177.3,435.9 179.8,434.0 182.3,429.9 184.8,427.0 187.4,424.7 189.9,422.4 192.4,419.6 194.9,418.8 197.4,418.9 200.0,418.9 202.5,418.9 205.0,418.7 207.5,419.1 210.0,419.6 212.6,418.5 215.1,418.8 217.6,419.6 220.1,420.5 222.6,421.4 225.2,422.7 227.7,423.3 230.2,422.3 232.7,421.4 235.2,421.1 237.8,421.4 240.3,422.3 242.8,420.9 245.3,419.8 247.9,420.6 250.4,420.3 252.9,418.8 255.4,415.4 257.9,412.6 260.5,413.9 263.0,415.6 265.5,421.7 268.0,424.8 270.5,427.8 273.1,425.7 275.6,421.9 278.1,417.0 280.6,411.2 283.1,404.5 285.7,398.6 288.2,392.8 290.7,386.8 293.2,380.7 295.7,374.5 298.3,369.0 300.8,363.0 303.3,356.2 305.8,350.1 308.4,345.6 310.9,344.9 313.4,344.9 315.9,343.7 318.4,341.5 321.0,334.2 323.5,332.9 326.0,333.5 328.5,336.6 331.0,357.6 333.6,364.0 336.1,365.3 338.6,367.7 341.1,370.8 343.6,371.0 346.2,371.1 348.7,371.1 351.2,371.3 353.7,373.9 356.2,374.7 358.8,378.3 361.3,381.8 363.8,386.0 366.3,392.1 368.8,399.4 371.4,400.9 373.9,401.8 376.4,401.4 378.9,400.5 381.5,388.6 384.0,379.8 386.5,372.6 389.0,361.7 391.5,347.0 394.1,333.4 396.6,319.3 399.1,306.5 401.6,297.0 404.1,290.7 406.7,286.3 409.2,294.1 411.7,300.8 414.2,310.4 416.7,315.6 419.3,323.9 421.8,329.6 424.3,335.5 426.8,339.8 429.3,341.0 431.9,339.6 434.4,336.5 436.9,333.7 439.4,331.8 442.0,324.1 444.5,319.8 447.0,317.3 449.5,318.5 452.0,320.3 454.6,318.7 457.1,319.8 459.6,317.4 462.1,315.3 464.6,311.3 467.2,310.7 469.7,305.7 472.2,301.9 474.7,296.6 477.2,292.0 479.8,290.3 482.3,290.4 484.8,290.3 487.3,288.9 489.8,279.7 492.4,280.2 494.9,290.4 497.4,294.1 499.9,296.8 502.5,300.2 505.0,302.5 507.5,305.2 510.0,306.5 512.5,301.7" fill="none" stroke="#089981" stroke-width="1.1" stroke-linejoin="round" />
<polyline points="8.0,440.5 10.9,440.5 13.4,443.6 15.9,444.6 18.5,444.7 21.0,445.0 23.5,444.2 26.0,443.1 28.5,442.5 31.1,442.5 33.6,441.8 36.1,440.0 38.6,437.9 41.1,436.4 43.7,434.6 46.2,432.2 48.7,430.0 51.2,428.0 53.7,426.9 56.3,426.7 58.8,426.8 61.3,427.6 63.8,429.4 66.4,431.2 68.9,432.4 71.4,433.1 73.9,433.8 76.4,434.7 79.0,436.1 81.5,438.3 84.0,440.0 86.5,441.0 89.0,441.9 91.6,441.6 94.1,441.8 96.6,442.2 99.1,442.8 101.6,444.0 104.2,445.4 106.7,446.2 109.2,447.2 111.7,448.0 114.2,447.1 116.8,446.5 119.3,445.5 121.8,444.9 124.3,443.9 126.9,443.1 129.4,441.9 131.9,440.7 134.4,439.3 136.9,438.3 139.5,437.2 142.0,436.9 144.5,435.6 147.0,433.7 149.5,431.6 152.1,429.3 154.6,427.5 157.1,425.3 159.6,422.8 162.1,420.2 164.7,419.0 167.2,417.6 169.7,416.8 172.2,416.0 174.7,415.3 177.3,414.0 179.8,413.3 182.3,412.1 184.8,411.1 187.4,410.1 189.9,408.7 192.4,408.0 194.9,407.8 197.4,407.5 200.0,407.5 202.5,407.5 205.0,407.5 207.5,407.7 210.0,408.0 212.6,408.5 215.1,408.3 217.6,407.9 220.1,406.9 222.6,405.3 225.2,404.0 227.7,403.0 230.2,401.7 232.7,400.5 235.2,399.0 237.8,397.6 240.3,396.4 242.8,394.6 245.3,392.6 247.9,390.7 250.4,388.4 252.9,386.0 255.4,383.0 257.9,379.8 260.5,375.1 263.0,370.6 265.5,364.9 268.0,359.1 270.5,353.0 273.1,348.7 275.6,345.4 278.1,342.0 280.6,338.6 283.1,334.9 285.7,331.1 288.2,328.7 290.7,326.3 293.2,324.3 295.7,322.3 298.3,319.9 300.8,317.6 303.3,315.3 305.8,313.4 308.4,312.1 310.9,311.7 313.4,311.7 315.9,313.0 318.4,314.3 321.0,316.8 323.5,317.9 326.0,318.3 328.5,319.2 331.0,322.6 333.6,325.2 336.1,327.0 338.6,328.0 341.1,329.4 343.6,329.6 346.2,329.6 348.7,330.2 351.2,330.0 353.7,328.5 356.2,327.4 358.8,324.8 361.3,322.5 363.8,319.5 366.3,315.6 368.8,311.0 371.4,306.9 373.9,302.6 376.4,297.8 378.9,291.2 381.5,281.7 384.0,273.1 386.5,266.0 389.0,258.2 391.5,250.1 394.1,244.5 396.6,239.9 399.1,236.8 401.6,234.4 404.1,232.3 406.7,231.4 409.2,233.1 411.7,234.7 414.2,237.5 416.7,240.0 419.3,244.5 421.8,247.4 424.3,250.7 426.8,253.8 429.3,257.4 431.9,260.5 434.4,263.7 436.9,267.5 439.4,272.9 442.0,277.5 444.5,280.2 447.0,281.7 449.5,281.1 452.0,280.2 454.6,281.0 457.1,279.5 459.6,276.9 462.1,274.5 464.6,271.3 467.2,269.2 469.7,266.4 472.2,264.3 474.7,261.7 477.2,259.5 479.8,257.5 482.3,256.3 484.8,256.2 487.3,254.1 489.8,250.1 492.4,245.4 494.9,238.9 497.4,233.1 499.9,228.6 502.5,223.9 505.0,217.2 507.5,210.6 510.0,203.1 512.5,197.9" fill="none" stroke="#2a2e39" stroke-width="1" stroke-linejoin="round" />
<polyline points="10.3,443.0 14.2,450.8 18.0,460.0 23.4,443.0 28.0,433.0 32.6,443.0 38.8,450.8 45.0,455.4 49.5,446.0 54.0,441.5 58.8,437.0 63.4,432.3 68.0,429.2 72.6,426.0 77.2,423.0 79.5,417.0 83.4,406.0 88.0,404.6 91.8,410.0 95.7,403.0 98.8,394.6 101.8,403.0 105.0,404.6 108.8,415.4 113.4,404.6 115.7,413.0 121.0,407.7 125.7,398.5 129.5,410.0 134.0,401.2 137.8,408.3 141.8,414.8 149.6,396.5 154.8,388.6 161.4,382.9 167.9,387.3 173.2,378.2 178.4,374.2 182.3,365.1 186.2,359.9 191.5,356.0 195.4,341.6 198.5,320.6 201.9,284.0 205.9,277.5 207.2,268.3 209.8,294.5 212.4,315.4 217.6,319.3 222.1,305.5 225.5,327.2 229.9,333.7 234.6,316.7 238.6,313.3 245.1,319.3 248.7,312.3 253.3,309.5 256.0,312.3 259.8,319.7 262.5,331.7 265.3,357.5 268.1,387.1 270.0,361.2 272.7,341.0 276.4,350.1 278.2,355.7 281.0,341.0 284.7,326.1 286.5,311.4 289.3,296.6 291.6,279.5 295.6,261.2 300.8,236.3 304.7,212.7 308.7,236.3 312.6,231.0 315.7,208.8 320.4,191.8 323.6,197.0 327.8,194.4 332.2,216.6 336.2,261.2 340.0,243.0 342.4,260.0 345.0,284.0 347.6,300.0 350.0,298.0 356.0,294.0 360.0,286.0 364.0,280.0 368.0,272.0 371.0,258.0 374.0,268.0 376.0,284.0 377.6,294.0 380.0,284.0 383.0,266.0 386.0,250.0 389.0,242.0 392.0,258.0 394.4,248.0 397.0,250.0 400.0,246.0 404.0,248.0 409.0,248.0 412.0,243.0 416.0,238.0 419.0,244.0 422.0,256.0 423.0,240.0 425.0,230.0 428.0,212.0 427.7,168.0 432.7,148.6 437.4,158.3 441.5,126.5 447.0,103.0 449.3,144.5" fill="none" stroke="#7e57c2" stroke-width="1.5" stroke-linejoin="round" />
<polyline points="13.2,407.2 15.2,395.5 29.6,416.4 38.0,431.0 47.2,437.3 56.4,419.0 66.2,443.2 83.0,464.0 93.5,428.8 106.0,451.0 113.0,451.0 164.0,393.0 205.0,423.5 273.4,259.5 286.5,305.4 295.7,341.0 321.8,303.8 331.0,390.0 393.0,197.0 426.3,318.0 481.3,230.6" fill="none" stroke="#2962ff" stroke-width="1" stroke-linejoin="round" />
<line x1="10.5" y1="412.5" x2="10.5" y2="435.9" stroke="#089981" stroke-width="1" />
<rect x="9.0" y="415.7" width="3.0" height="18.7" fill="#e8711a" fill-opacity="1" />
<line x1="13.5" y1="406.6" x2="13.5" y2="421.8" stroke="#089981" stroke-width="1" />
<rect x="12.0" y="407.8" width="3.0" height="8.0" fill="#43a047" fill-opacity="1" />
<line x1="15.5" y1="397.2" x2="15.5" y2="410.1" stroke="#089981" stroke-width="1" />
<rect x="14.0" y="407.3" width="3.0" height="1.5" fill="#43a047" fill-opacity="1" />
<line x1="18.5" y1="405.4" x2="18.5" y2="431.2" stroke="#f23645" stroke-width="1" />
<rect x="17.0" y="407.3" width="3.0" height="18.3" fill="#3358f4" fill-opacity="1" />
<line x1="20.5" y1="424.2" x2="20.5" y2="435.9" stroke="#f23645" stroke-width="1" />
<rect x="19.0" y="425.6" width="3.0" height="2.3" fill="#3358f4" fill-opacity="1" />
<line x1="23.5" y1="419.5" x2="23.5" y2="431.2" stroke="#f23645" stroke-width="1" />
<rect x="22.0" y="427.9" width="3.0" height="2.8" fill="#3358f4" fill-opacity="1" />
<line x1="26.5" y1="426.5" x2="26.5" y2="434.7" stroke="#089981" stroke-width="1" />
<rect x="25.0" y="427.2" width="3.0" height="3.5" fill="#3358f4" fill-opacity="1" />
<line x1="28.5" y1="424.2" x2="28.5" y2="429.3" stroke="#089981" stroke-width="1" />
<rect x="27.0" y="426.5" width="3.0" height="1.5" fill="#3358f4" fill-opacity="1" />
<line x1="31.5" y1="416.0" x2="31.5" y2="427.7" stroke="#089981" stroke-width="1" />
<rect x="30.0" y="416.7" width="3.0" height="9.8" fill="#3358f4" fill-opacity="1" />
<line x1="33.5" y1="416.0" x2="33.5" y2="425.3" stroke="#f23645" stroke-width="1" />
<rect x="32.0" y="416.7" width="3.0" height="7.0" fill="#3358f4" fill-opacity="1" />
<line x1="36.5" y1="421.8" x2="36.5" y2="426.5" stroke="#f23645" stroke-width="1" />
<rect x="35.0" y="423.7" width="3.0" height="1.5" fill="#3358f4" fill-opacity="1" />
<line x1="38.5" y1="423.7" x2="38.5" y2="430.0" stroke="#f23645" stroke-width="1" />
<rect x="37.0" y="424.9" width="3.0" height="4.0" fill="#3358f4" fill-opacity="1" />
<line x1="41.5" y1="427.7" x2="41.5" y2="440.5" stroke="#f23645" stroke-width="1" />
<rect x="40.0" y="428.8" width="3.0" height="9.8" fill="#3358f4" fill-opacity="1" />
<line x1="43.5" y1="434.7" x2="43.5" y2="440.5" stroke="#089981" stroke-width="1" />
<rect x="42.0" y="437.5" width="3.0" height="1.5" fill="#3358f4" fill-opacity="1" />
<line x1="46.5" y1="436.3" x2="46.5" y2="440.5" stroke="#f23645" stroke-width="1" />
<rect x="45.0" y="437.5" width="3.0" height="1.5" fill="#3358f4" fill-opacity="1" />
<line x1="48.5" y1="432.4" x2="48.5" y2="440.5" stroke="#089981" stroke-width="1" />
<rect x="47.0" y="433.8" width="3.0" height="4.0" fill="#3358f4" fill-opacity="1" />
<line x1="51.5" y1="428.8" x2="51.5" y2="434.7" stroke="#089981" stroke-width="1" />
<rect x="50.0" y="430.0" width="3.0" height="3.7" fill="#3358f4" fill-opacity="1" />
<line x1="53.5" y1="420.6" x2="53.5" y2="431.2" stroke="#089981" stroke-width="1" />
<rect x="52.0" y="424.6" width="3.0" height="5.4" fill="#3358f4" fill-opacity="1" />
<line x1="56.5" y1="424.2" x2="56.5" y2="437.0" stroke="#f23645" stroke-width="1" />
<rect x="55.0" y="424.6" width="3.0" height="10.8" fill="#3358f4" fill-opacity="1" />
<line x1="58.5" y1="432.4" x2="58.5" y2="437.0" stroke="#f23645" stroke-width="1" />
<rect x="57.0" y="435.4" width="3.0" height="1.5" fill="#3358f4" fill-opacity="1" />
<line x1="61.5" y1="430.0" x2="61.5" y2="437.0" stroke="#089981" stroke-width="1" />
<rect x="60.0" y="431.2" width="3.0" height="4.4" fill="#3358f4" fill-opacity="1" />
<line x1="63.5" y1="430.7" x2="63.5" y2="445.7" stroke="#f23645" stroke-width="1" />
<rect x="62.0" y="431.2" width="3.0" height="14.0" fill="#3358f4" fill-opacity="1" />
<line x1="66.5" y1="440.5" x2="66.5" y2="447.6" stroke="#089981" stroke-width="1" />
<rect x="65.0" y="442.4" width="3.0" height="2.8" fill="#3358f4" fill-opacity="1" />
<line x1="68.5" y1="441.7" x2="68.5" y2="449.9" stroke="#f23645" stroke-width="1" />
<rect x="67.0" y="442.4" width="3.0" height="6.1" fill="#e8711a" fill-opacity="1" />
<line x1="71.5" y1="441.7" x2="71.5" y2="452.2" stroke="#089981" stroke-width="1" />
<rect x="70.0" y="443.6" width="3.0" height="4.9" fill="#e8711a" fill-opacity="1" />
<line x1="73.5" y1="439.4" x2="73.5" y2="445.2" stroke="#089981" stroke-width="1" />
<rect x="72.0" y="443.3" width="3.0" height="1.5" fill="#e8711a" fill-opacity="1" />
<line x1="76.5" y1="441.7" x2="76.5" y2="447.6" stroke="#f23645" stroke-width="1" />
<rect x="75.0" y="443.3" width="3.0" height="2.8" fill="#e8711a" fill-opacity="1" />
<line x1="78.5" y1="445.2" x2="78.5" y2="454.6" stroke="#f23645" stroke-width="1" />
<rect x="77.0" y="446.2" width="3.0" height="7.7" fill="#ffeb3b" fill-opacity="1" />
<line x1="81.5" y1="453.4" x2="81.5" y2="463.9" stroke="#f23645" stroke-width="1" />
<rect x="80.0" y="453.9" width="3.0" height="7.5" fill="#e8711a" fill-opacity="1" />
<line x1="83.5" y1="455.8" x2="83.5" y2="465.1" stroke="#089981" stroke-width="1" />
<rect x="82.0" y="456.7" width="3.0" height="4.7" fill="#e8711a" fill-opacity="1" />
<line x1="86.5" y1="445.2" x2="86.5" y2="458.1" stroke="#089981" stroke-width="1" />
<rect x="85.0" y="445.7" width="3.0" height="11.0" fill="#e8711a" fill-opacity="1" />
<line x1="89.5" y1="444.1" x2="89.5" y2="449.9" stroke="#f23645" stroke-width="1" />
<rect x="88.0" y="445.7" width="3.0" height="1.5" fill="#e8711a" fill-opacity="1" />
<line x1="91.5" y1="431.6" x2="91.5" y2="447.6" stroke="#089981" stroke-width="1" />
<rect x="90.0" y="432.6" width="3.0" height="14.0" fill="#e8711a" fill-opacity="1" />
<line x1="94.5" y1="431.2" x2="94.5" y2="442.9" stroke="#f23645" stroke-width="1" />
<rect x="93.0" y="432.6" width="3.0" height="8.9" fill="#e8711a" fill-opacity="1" />
<line x1="96.5" y1="439.4" x2="96.5" y2="446.4" stroke="#f23645" stroke-width="1" />
<rect x="95.0" y="441.5" width="3.0" height="3.5" fill="#e8711a" fill-opacity="1" />
<line x1="99.5" y1="442.9" x2="99.5" y2="448.7" stroke="#f23645" stroke-width="1" />
<rect x="98.0" y="445.0" width="3.0" height="2.6" fill="#e8711a" fill-opacity="1" />
<line x1="101.5" y1="442.9" x2="101.5" y2="455.8" stroke="#f23645" stroke-width="1" />
<rect x="100.0" y="447.6" width="3.0" height="5.8" fill="#e8711a" fill-opacity="1" />
<line x1="104.5" y1="449.9" x2="104.5" y2="454.6" stroke="#089981" stroke-width="1" />
<rect x="103.0" y="451.5" width="3.0" height="1.9" fill="#e8711a" fill-opacity="1" />
<line x1="106.5" y1="450.6" x2="106.5" y2="454.6" stroke="#f23645" stroke-width="1" />
<rect x="105.0" y="451.5" width="3.0" height="1.5" fill="#e8711a" fill-opacity="1" />
<line x1="109.5" y1="452.2" x2="109.5" y2="456.5" stroke="#f23645" stroke-width="1" />
<rect x="108.0" y="452.7" width="3.0" height="2.6" fill="#e8711a" fill-opacity="1" />
<line x1="111.5" y1="446.4" x2="111.5" y2="456.5" stroke="#089981" stroke-width="1" />
<rect x="110.0" y="446.6" width="3.0" height="8.7" fill="#e8711a" fill-opacity="1" />
<line x1="114.5" y1="427.7" x2="114.5" y2="447.6" stroke="#089981" stroke-width="1" />
<rect x="113.0" y="428.4" width="3.0" height="18.3" fill="#e8711a" fill-opacity="1" />
<line x1="116.5" y1="426.5" x2="116.5" y2="432.4" stroke="#f23645" stroke-width="1" />
<rect x="115.0" y="428.4" width="3.0" height="1.9" fill="#3358f4" fill-opacity="1" />
<line x1="119.5" y1="427.7" x2="119.5" y2="433.5" stroke="#089981" stroke-width="1" />
<rect x="118.0" y="428.6" width="3.0" height="1.6" fill="#3358f4" fill-opacity="1" />
<line x1="121.5" y1="427.7" x2="121.5" y2="433.5" stroke="#f23645" stroke-width="1" />
<rect x="120.0" y="428.6" width="3.0" height="3.0" fill="#3358f4" fill-opacity="1" />
<line x1="124.5" y1="420.6" x2="124.5" y2="432.4" stroke="#089981" stroke-width="1" />
<rect x="123.0" y="422.3" width="3.0" height="9.4" fill="#3358f4" fill-opacity="1" />
<line x1="126.5" y1="421.8" x2="126.5" y2="432.4" stroke="#f23645" stroke-width="1" />
<rect x="125.0" y="422.3" width="3.0" height="8.7" fill="#3358f4" fill-opacity="1" />
<line x1="129.5" y1="427.7" x2="129.5" y2="433.5" stroke="#089981" stroke-width="1" />
<rect x="128.0" y="429.3" width="3.0" height="1.6" fill="#3358f4" fill-opacity="1" />
<line x1="131.5" y1="428.8" x2="131.5" y2="437.0" stroke="#f23645" stroke-width="1" />
<rect x="130.0" y="429.3" width="3.0" height="7.3" fill="#3358f4" fill-opacity="1" />
<line x1="134.5" y1="428.8" x2="134.5" y2="437.0" stroke="#089981" stroke-width="1" />
<rect x="133.0" y="429.5" width="3.0" height="7.0" fill="#3358f4" fill-opacity="1" />
<line x1="136.5" y1="424.2" x2="136.5" y2="430.0" stroke="#089981" stroke-width="1" />
<rect x="135.0" y="425.6" width="3.0" height="4.0" fill="#3358f4" fill-opacity="1" />
<line x1="139.5" y1="423.7" x2="139.5" y2="427.7" stroke="#089981" stroke-width="1" />
<rect x="138.0" y="425.3" width="3.0" height="1.5" fill="#3358f4" fill-opacity="1" />
<line x1="141.5" y1="424.2" x2="141.5" y2="427.7" stroke="#089981" stroke-width="1" />
<rect x="140.0" y="425.3" width="3.0" height="1.5" fill="#3358f4" fill-opacity="1" />
<line x1="144.5" y1="414.8" x2="144.5" y2="426.5" stroke="#089981" stroke-width="1" />
<rect x="143.0" y="416.0" width="3.0" height="9.4" fill="#43a047" fill-opacity="1" />
<line x1="147.5" y1="405.4" x2="147.5" y2="417.1" stroke="#089981" stroke-width="1" />
<rect x="146.0" y="406.8" width="3.0" height="9.1" fill="#43a047" fill-opacity="1" />
<line x1="149.5" y1="403.1" x2="149.5" y2="408.9" stroke="#089981" stroke-width="1" />
<rect x="148.0" y="405.7" width="3.0" height="1.5" fill="#43a047" fill-opacity="1" />
<line x1="152.5" y1="404.3" x2="152.5" y2="410.1" stroke="#f23645" stroke-width="1" />
<rect x="151.0" y="405.7" width="3.0" height="1.5" fill="#3358f4" fill-opacity="1" />
<line x1="154.5" y1="405.4" x2="154.5" y2="423.0" stroke="#f23645" stroke-width="1" />
<rect x="153.0" y="406.8" width="3.0" height="10.1" fill="#3358f4" fill-opacity="1" />
<line x1="157.5" y1="407.8" x2="157.5" y2="418.3" stroke="#089981" stroke-width="1" />
<rect x="156.0" y="408.2" width="3.0" height="8.7" fill="#3358f4" fill-opacity="1" />
<line x1="159.5" y1="404.3" x2="159.5" y2="410.1" stroke="#089981" stroke-width="1" />
<rect x="158.0" y="405.4" width="3.0" height="2.8" fill="#3358f4" fill-opacity="1" />
<line x1="162.5" y1="393.7" x2="162.5" y2="406.6" stroke="#089981" stroke-width="1" />
<rect x="161.0" y="394.4" width="3.0" height="11.0" fill="#3358f4" fill-opacity="1" />
<line x1="164.5" y1="392.6" x2="164.5" y2="404.3" stroke="#f23645" stroke-width="1" />
<rect x="163.0" y="394.4" width="3.0" height="8.9" fill="#3358f4" fill-opacity="1" />
<line x1="167.5" y1="400.8" x2="167.5" y2="408.9" stroke="#089981" stroke-width="1" />
<rect x="166.0" y="402.9" width="3.0" height="1.5" fill="#3358f4" fill-opacity="1" />
<line x1="169.5" y1="401.9" x2="169.5" y2="413.6" stroke="#f23645" stroke-width="1" />
<rect x="168.0" y="402.9" width="3.0" height="9.4" fill="#3358f4" fill-opacity="1" />
<line x1="172.5" y1="411.3" x2="172.5" y2="423.0" stroke="#f23645" stroke-width="1" />
<rect x="171.0" y="412.2" width="3.0" height="3.7" fill="#3358f4" fill-opacity="1" />
<line x1="174.5" y1="407.8" x2="174.5" y2="418.3" stroke="#089981" stroke-width="1" />
<rect x="173.0" y="408.9" width="3.0" height="7.0" fill="#3358f4" fill-opacity="1" />
<line x1="177.5" y1="404.3" x2="177.5" y2="410.1" stroke="#089981" stroke-width="1" />
<rect x="176.0" y="405.0" width="3.0" height="4.0" fill="#3358f4" fill-opacity="1" />
<line x1="179.5" y1="403.1" x2="179.5" y2="416.0" stroke="#f23645" stroke-width="1" />
<rect x="178.0" y="405.0" width="3.0" height="9.6" fill="#3358f4" fill-opacity="1" />
<line x1="182.5" y1="411.3" x2="182.5" y2="419.5" stroke="#089981" stroke-width="1" />
<rect x="181.0" y="412.0" width="3.0" height="2.6" fill="#43a047" fill-opacity="1" />
<line x1="184.5" y1="408.9" x2="184.5" y2="413.6" stroke="#089981" stroke-width="1" />
<rect x="183.0" y="410.4" width="3.0" height="1.6" fill="#43a047" fill-opacity="1" />
<line x1="187.5" y1="404.3" x2="187.5" y2="411.3" stroke="#089981" stroke-width="1" />
<rect x="186.0" y="405.0" width="3.0" height="5.4" fill="#3358f4" fill-opacity="1" />
<line x1="189.5" y1="397.2" x2="189.5" y2="405.4" stroke="#089981" stroke-width="1" />
<rect x="188.0" y="398.4" width="3.0" height="6.6" fill="#3358f4" fill-opacity="1" />
<line x1="192.5" y1="398.0" x2="192.5" y2="419.5" stroke="#f23645" stroke-width="1" />
<rect x="191.0" y="398.4" width="3.0" height="13.6" fill="#3358f4" fill-opacity="1" />
<line x1="194.5" y1="408.9" x2="194.5" y2="414.8" stroke="#089981" stroke-width="1" />
<rect x="193.0" y="410.6" width="3.0" height="1.5" fill="#3358f4" fill-opacity="1" />
<line x1="197.5" y1="400.8" x2="197.5" y2="411.3" stroke="#089981" stroke-width="1" />
<rect x="196.0" y="401.2" width="3.0" height="9.4" fill="#3358f4" fill-opacity="1" />
<line x1="199.5" y1="400.3" x2="199.5" y2="406.6" stroke="#f23645" stroke-width="1" />
<rect x="198.0" y="401.2" width="3.0" height="4.0" fill="#3358f4" fill-opacity="1" />
<line x1="202.5" y1="404.3" x2="202.5" y2="412.5" stroke="#f23645" stroke-width="1" />
<rect x="201.0" y="405.2" width="3.0" height="2.8" fill="#3358f4" fill-opacity="1" />
<line x1="204.5" y1="407.8" x2="204.5" y2="421.8" stroke="#f23645" stroke-width="1" />
<rect x="203.0" y="408.0" width="3.0" height="8.0" fill="#3358f4" fill-opacity="1" />
<line x1="207.5" y1="411.3" x2="207.5" y2="418.3" stroke="#089981" stroke-width="1" />
<rect x="206.0" y="412.5" width="3.0" height="3.5" fill="#3358f4" fill-opacity="1" />
<line x1="210.5" y1="410.1" x2="210.5" y2="413.6" stroke="#089981" stroke-width="1" />
<rect x="209.0" y="412.2" width="3.0" height="1.5" fill="#3358f4" fill-opacity="1" />
<line x1="212.5" y1="403.1" x2="212.5" y2="413.6" stroke="#089981" stroke-width="1" />
<rect x="211.0" y="403.8" width="3.0" height="8.4" fill="#3358f4" fill-opacity="1" />
<line x1="215.5" y1="398.4" x2="215.5" y2="405.4" stroke="#089981" stroke-width="1" />
<rect x="214.0" y="399.1" width="3.0" height="4.7" fill="#43a047" fill-opacity="1" />
<line x1="217.5" y1="394.9" x2="217.5" y2="400.8" stroke="#089981" stroke-width="1" />
<rect x="216.0" y="395.6" width="3.0" height="3.5" fill="#43a047" fill-opacity="1" />
<line x1="220.5" y1="390.2" x2="220.5" y2="397.2" stroke="#089981" stroke-width="1" />
<rect x="219.0" y="390.9" width="3.0" height="4.7" fill="#43a047" fill-opacity="1" />
<line x1="222.5" y1="383.2" x2="222.5" y2="392.6" stroke="#089981" stroke-width="1" />
<rect x="221.0" y="384.4" width="3.0" height="6.6" fill="#43a047" fill-opacity="1" />
<line x1="225.5" y1="382.0" x2="225.5" y2="387.9" stroke="#089981" stroke-width="1" />
<rect x="224.0" y="383.0" width="3.0" height="1.5" fill="#3358f4" fill-opacity="1" />
<line x1="227.5" y1="382.0" x2="227.5" y2="387.9" stroke="#f23645" stroke-width="1" />
<rect x="226.0" y="383.0" width="3.0" height="3.0" fill="#3358f4" fill-opacity="1" />
<line x1="230.5" y1="382.0" x2="230.5" y2="390.2" stroke="#f23645" stroke-width="1" />
<rect x="229.0" y="386.0" width="3.0" height="1.6" fill="#3358f4" fill-opacity="1" />
<line x1="232.5" y1="385.5" x2="232.5" y2="391.4" stroke="#f23645" stroke-width="1" />
<rect x="231.0" y="387.7" width="3.0" height="1.5" fill="#3358f4" fill-opacity="1" />
<line x1="235.5" y1="379.7" x2="235.5" y2="389.1" stroke="#089981" stroke-width="1" />
<rect x="234.0" y="380.6" width="3.0" height="7.3" fill="#43a047" fill-opacity="1" />
<line x1="237.5" y1="376.2" x2="237.5" y2="382.0" stroke="#089981" stroke-width="1" />
<rect x="236.0" y="377.1" width="3.0" height="3.5" fill="#43a047" fill-opacity="1" />
<line x1="240.5" y1="373.9" x2="240.5" y2="378.5" stroke="#089981" stroke-width="1" />
<rect x="239.0" y="374.6" width="3.0" height="2.6" fill="#43a047" fill-opacity="1" />
<line x1="242.5" y1="373.1" x2="242.5" y2="377.4" stroke="#f23645" stroke-width="1" />
<rect x="241.0" y="374.6" width="3.0" height="1.5" fill="#43a047" fill-opacity="1" />
<line x1="245.5" y1="370.3" x2="245.5" y2="376.2" stroke="#089981" stroke-width="1" />
<rect x="244.0" y="371.0" width="3.0" height="4.4" fill="#43a047" fill-opacity="1" />
<line x1="247.5" y1="361.0" x2="247.5" y2="371.5" stroke="#089981" stroke-width="1" />
<rect x="246.0" y="361.9" width="3.0" height="9.1" fill="#43a047" fill-opacity="1" />
<line x1="250.5" y1="359.8" x2="250.5" y2="366.8" stroke="#089981" stroke-width="1" />
<rect x="249.0" y="360.3" width="3.0" height="1.6" fill="#43a047" fill-opacity="1" />
<line x1="252.5" y1="358.6" x2="252.5" y2="363.3" stroke="#f23645" stroke-width="1" />
<rect x="251.0" y="360.3" width="3.0" height="1.5" fill="#43a047" fill-opacity="1" />
<line x1="255.5" y1="355.1" x2="255.5" y2="362.1" stroke="#089981" stroke-width="1" />
<rect x="254.0" y="355.4" width="3.0" height="5.1" fill="#43a047" fill-opacity="1" />
<line x1="257.5" y1="346.9" x2="257.5" y2="356.3" stroke="#089981" stroke-width="1" />
<rect x="256.0" y="347.6" width="3.0" height="7.7" fill="#43a047" fill-opacity="1" />
<line x1="260.5" y1="318.9" x2="260.5" y2="349.3" stroke="#089981" stroke-width="1" />
<rect x="259.0" y="320.0" width="3.0" height="27.6" fill="#43a047" fill-opacity="1" />
<line x1="262.5" y1="313.0" x2="262.5" y2="328.2" stroke="#089981" stroke-width="1" />
<rect x="261.0" y="313.2" width="3.0" height="6.8" fill="#43a047" fill-opacity="1" />
<line x1="265.5" y1="283.8" x2="265.5" y2="314.2" stroke="#089981" stroke-width="1" />
<rect x="264.0" y="283.8" width="3.0" height="29.5" fill="#43a047" fill-opacity="1" />
<line x1="268.5" y1="279.1" x2="268.5" y2="311.8" stroke="#089981" stroke-width="1" />
<rect x="267.0" y="281.2" width="3.0" height="2.6" fill="#43a047" fill-opacity="1" />
<line x1="270.5" y1="267.4" x2="270.5" y2="286.1" stroke="#089981" stroke-width="1" />
<rect x="269.0" y="268.8" width="3.0" height="12.4" fill="#43a047" fill-opacity="1" />
<line x1="273.5" y1="260.1" x2="273.5" y2="302.5" stroke="#f23645" stroke-width="1" />
<rect x="272.0" y="268.8" width="3.0" height="29.0" fill="#43a047" fill-opacity="1" />
<line x1="275.5" y1="290.8" x2="275.5" y2="318.9" stroke="#f23645" stroke-width="1" />
<rect x="274.0" y="297.8" width="3.0" height="18.5" fill="#3358f4" fill-opacity="1" />
<line x1="278.5" y1="307.2" x2="278.5" y2="332.9" stroke="#f23645" stroke-width="1" />
<rect x="277.0" y="316.3" width="3.0" height="2.6" fill="#3358f4" fill-opacity="1" />
<line x1="280.5" y1="317.7" x2="280.5" y2="335.2" stroke="#f23645" stroke-width="1" />
<rect x="279.0" y="318.9" width="3.0" height="1.5" fill="#3358f4" fill-opacity="1" />
<line x1="283.5" y1="311.8" x2="283.5" y2="321.2" stroke="#089981" stroke-width="1" />
<rect x="282.0" y="312.5" width="3.0" height="7.5" fill="#3358f4" fill-opacity="1" />
<line x1="285.5" y1="303.6" x2="285.5" y2="316.5" stroke="#089981" stroke-width="1" />
<rect x="284.0" y="305.5" width="3.0" height="7.0" fill="#3358f4" fill-opacity="1" />
<line x1="288.5" y1="300.1" x2="288.5" y2="335.2" stroke="#f23645" stroke-width="1" />
<rect x="287.0" y="305.5" width="3.0" height="23.9" fill="#3358f4" fill-opacity="1" />
<line x1="290.5" y1="320.0" x2="290.5" y2="332.9" stroke="#089981" stroke-width="1" />
<rect x="289.0" y="326.8" width="3.0" height="2.6" fill="#3358f4" fill-opacity="1" />
<line x1="293.5" y1="317.7" x2="293.5" y2="337.6" stroke="#f23645" stroke-width="1" />
<rect x="292.0" y="326.8" width="3.0" height="8.0" fill="#3358f4" fill-opacity="1" />
<line x1="295.5" y1="329.4" x2="295.5" y2="339.9" stroke="#089981" stroke-width="1" />
<rect x="294.0" y="330.6" width="3.0" height="4.2" fill="#3358f4" fill-opacity="1" />
<line x1="298.5" y1="311.8" x2="298.5" y2="331.7" stroke="#089981" stroke-width="1" />
<rect x="297.0" y="314.4" width="3.0" height="16.1" fill="#3358f4" fill-opacity="1" />
<line x1="300.5" y1="309.5" x2="300.5" y2="315.4" stroke="#089981" stroke-width="1" />
<rect x="299.0" y="313.9" width="3.0" height="1.5" fill="#3358f4" fill-opacity="1" />
<line x1="303.5" y1="310.7" x2="303.5" y2="318.9" stroke="#f23645" stroke-width="1" />
<rect x="302.0" y="313.9" width="3.0" height="1.5" fill="#3358f4" fill-opacity="1" />
<line x1="305.5" y1="313.0" x2="305.5" y2="322.4" stroke="#f23645" stroke-width="1" />
<rect x="304.0" y="314.2" width="3.0" height="4.7" fill="#3358f4" fill-opacity="1" />
<line x1="308.5" y1="315.4" x2="308.5" y2="324.7" stroke="#f23645" stroke-width="1" />
<rect x="307.0" y="318.9" width="3.0" height="2.6" fill="#3358f4" fill-opacity="1" />
<line x1="310.5" y1="310.7" x2="310.5" y2="322.4" stroke="#089981" stroke-width="1" />
<rect x="309.0" y="311.6" width="3.0" height="9.8" fill="#3358f4" fill-opacity="1" />
<line x1="313.5" y1="309.5" x2="313.5" y2="318.9" stroke="#f23645" stroke-width="1" />
<rect x="312.0" y="311.6" width="3.0" height="1.5" fill="#3358f4" fill-opacity="1" />
<line x1="315.5" y1="309.5" x2="315.5" y2="315.4" stroke="#089981" stroke-width="1" />
<rect x="314.0" y="310.4" width="3.0" height="2.6" fill="#3358f4" fill-opacity="1" />
<line x1="318.5" y1="306.7" x2="318.5" y2="313.0" stroke="#089981" stroke-width="1" />
<rect x="317.0" y="307.6" width="3.0" height="2.8" fill="#3358f4" fill-opacity="1" />
<line x1="320.5" y1="303.6" x2="320.5" y2="318.9" stroke="#f23645" stroke-width="1" />
<rect x="319.0" y="307.6" width="3.0" height="10.8" fill="#3358f4" fill-opacity="1" />
<line x1="323.5" y1="315.4" x2="323.5" y2="321.2" stroke="#f23645" stroke-width="1" />
<rect x="322.0" y="318.4" width="3.0" height="1.5" fill="#3358f4" fill-opacity="1" />
<line x1="325.5" y1="310.7" x2="325.5" y2="324.7" stroke="#f23645" stroke-width="1" />
<rect x="324.0" y="318.6" width="3.0" height="5.9" fill="#ffeb3b" fill-opacity="1" />
<line x1="328.5" y1="322.4" x2="328.5" y2="339.9" stroke="#f23645" stroke-width="1" />
<rect x="327.0" y="324.5" width="3.0" height="13.1" fill="#ffeb3b" fill-opacity="1" />
<line x1="331.5" y1="334.1" x2="331.5" y2="391.4" stroke="#f23645" stroke-width="1" />
<rect x="330.0" y="337.6" width="3.0" height="51.0" fill="#ffeb3b" fill-opacity="1" />
<line x1="333.5" y1="357.5" x2="333.5" y2="390.2" stroke="#089981" stroke-width="1" />
<rect x="332.0" y="363.6" width="3.0" height="25.0" fill="#e91e63" fill-opacity="1" />
<line x1="336.5" y1="339.9" x2="336.5" y2="364.5" stroke="#089981" stroke-width="1" />
<rect x="335.0" y="341.3" width="3.0" height="22.2" fill="#e91e63" fill-opacity="1" />
<line x1="338.5" y1="331.7" x2="338.5" y2="351.6" stroke="#f23645" stroke-width="1" />
<rect x="337.0" y="341.3" width="3.0" height="9.1" fill="#e91e63" fill-opacity="1" />
<line x1="341.5" y1="342.3" x2="341.5" y2="359.8" stroke="#f23645" stroke-width="1" />
<rect x="340.0" y="350.4" width="3.0" height="4.7" fill="#e91e63" fill-opacity="1" />
<line x1="343.5" y1="336.4" x2="343.5" y2="356.3" stroke="#089981" stroke-width="1" />
<rect x="342.0" y="336.9" width="3.0" height="18.3" fill="#e91e63" fill-opacity="1" />
<line x1="346.5" y1="330.6" x2="346.5" y2="339.9" stroke="#089981" stroke-width="1" />
<rect x="345.0" y="331.7" width="3.0" height="5.1" fill="#e91e63" fill-opacity="1" />
<line x1="348.5" y1="325.9" x2="348.5" y2="335.2" stroke="#089981" stroke-width="1" />
<rect x="347.0" y="326.8" width="3.0" height="4.9" fill="#e91e63" fill-opacity="1" />
<line x1="351.5" y1="308.3" x2="351.5" y2="328.2" stroke="#089981" stroke-width="1" />
<rect x="350.0" y="308.8" width="3.0" height="18.0" fill="#43a047" fill-opacity="1" />
<line x1="353.5" y1="283.8" x2="353.5" y2="310.7" stroke="#089981" stroke-width="1" />
<rect x="352.0" y="285.2" width="3.0" height="23.6" fill="#43a047" fill-opacity="1" />
<line x1="356.5" y1="262.7" x2="356.5" y2="311.8" stroke="#f23645" stroke-width="1" />
<rect x="355.0" y="285.2" width="3.0" height="11.2" fill="#43a047" fill-opacity="1" />
<line x1="358.5" y1="269.7" x2="358.5" y2="297.8" stroke="#089981" stroke-width="1" />
<rect x="357.0" y="270.2" width="3.0" height="26.2" fill="#43a047" fill-opacity="1" />
<line x1="361.5" y1="263.9" x2="361.5" y2="281.4" stroke="#089981" stroke-width="1" />
<rect x="360.0" y="264.8" width="3.0" height="5.4" fill="#43a047" fill-opacity="1" />
<line x1="363.5" y1="248.7" x2="363.5" y2="267.4" stroke="#089981" stroke-width="1" />
<rect x="362.0" y="253.6" width="3.0" height="11.2" fill="#43a047" fill-opacity="1" />
<line x1="366.5" y1="232.3" x2="366.5" y2="255.7" stroke="#089981" stroke-width="1" />
<rect x="365.0" y="232.7" width="3.0" height="20.8" fill="#43a047" fill-opacity="1" />
<line x1="368.5" y1="211.2" x2="368.5" y2="239.3" stroke="#089981" stroke-width="1" />
<rect x="367.0" y="214.0" width="3.0" height="18.7" fill="#43a047" fill-opacity="1" />
<line x1="371.5" y1="210.0" x2="371.5" y2="246.3" stroke="#f23645" stroke-width="1" />
<rect x="370.0" y="214.0" width="3.0" height="22.9" fill="#3358f4" fill-opacity="1" />
<line x1="373.5" y1="220.6" x2="373.5" y2="238.1" stroke="#089981" stroke-width="1" />
<rect x="372.0" y="232.0" width="3.0" height="4.9" fill="#3358f4" fill-opacity="1" />
<line x1="376.5" y1="222.9" x2="376.5" y2="239.3" stroke="#089981" stroke-width="1" />
<rect x="375.0" y="229.5" width="3.0" height="2.6" fill="#3358f4" fill-opacity="1" />
<line x1="378.5" y1="205.4" x2="378.5" y2="229.9" stroke="#089981" stroke-width="1" />
<rect x="377.0" y="205.6" width="3.0" height="23.9" fill="#43a047" fill-opacity="1" />
<line x1="381.5" y1="192.5" x2="381.5" y2="211.2" stroke="#089981" stroke-width="1" />
<rect x="380.0" y="197.6" width="3.0" height="8.0" fill="#43a047" fill-opacity="1" />
<line x1="383.5" y1="192.5" x2="383.5" y2="211.2" stroke="#089981" stroke-width="1" />
<rect x="382.0" y="193.0" width="3.0" height="4.7" fill="#43a047" fill-opacity="1" />
<line x1="386.5" y1="184.3" x2="386.5" y2="213.6" stroke="#f23645" stroke-width="1" />
<rect x="385.0" y="189.0" width="3.0" height="8.7" fill="#43a047" fill-opacity="1" />
<line x1="389.5" y1="190.2" x2="389.5" y2="206.5" stroke="#089981" stroke-width="1" />
<rect x="388.0" y="194.8" width="3.0" height="2.8" fill="#43a047" fill-opacity="1" />
<line x1="391.5" y1="187.8" x2="391.5" y2="204.2" stroke="#089981" stroke-width="1" />
<rect x="390.0" y="194.4" width="3.0" height="1.5" fill="#43a047" fill-opacity="1" />
<line x1="394.5" y1="186.6" x2="394.5" y2="229.9" stroke="#f23645" stroke-width="1" />
<rect x="393.0" y="194.4" width="3.0" height="29.2" fill="#3358f4" fill-opacity="1" />
<line x1="396.5" y1="220.6" x2="396.5" y2="269.7" stroke="#f23645" stroke-width="1" />
<rect x="395.0" y="223.6" width="3.0" height="17.3" fill="#3358f4" fill-opacity="1" />
<line x1="399.5" y1="239.3" x2="399.5" y2="269.7" stroke="#f23645" stroke-width="1" />
<rect x="398.0" y="240.9" width="3.0" height="22.5" fill="#3358f4" fill-opacity="1" />
<line x1="401.5" y1="255.7" x2="401.5" y2="274.4" stroke="#089981" stroke-width="1" />
<rect x="400.0" y="261.3" width="3.0" height="2.1" fill="#3358f4" fill-opacity="1" />
<line x1="404.5" y1="241.6" x2="404.5" y2="262.7" stroke="#089981" stroke-width="1" />
<rect x="403.0" y="244.0" width="3.0" height="17.3" fill="#3358f4" fill-opacity="1" />
<line x1="406.5" y1="242.8" x2="406.5" y2="281.4" stroke="#f23645" stroke-width="1" />
<rect x="405.0" y="244.0" width="3.0" height="34.6" fill="#3358f4" fill-opacity="1" />
<line x1="409.5" y1="276.7" x2="409.5" y2="321.2" stroke="#f23645" stroke-width="1" />
<rect x="408.0" y="278.6" width="3.0" height="24.6" fill="#ffeb3b" fill-opacity="1" />
<line x1="411.5" y1="295.5" x2="411.5" y2="338.8" stroke="#089981" stroke-width="1" />
<rect x="410.0" y="298.0" width="3.0" height="5.1" fill="#ffeb3b" fill-opacity="1" />
<line x1="414.5" y1="288.4" x2="414.5" y2="310.7" stroke="#f23645" stroke-width="1" />
<rect x="413.0" y="298.0" width="3.0" height="9.8" fill="#3358f4" fill-opacity="1" />
<line x1="416.5" y1="282.6" x2="416.5" y2="309.5" stroke="#089981" stroke-width="1" />
<rect x="415.0" y="283.5" width="3.0" height="24.3" fill="#3358f4" fill-opacity="1" />
<line x1="419.5" y1="281.4" x2="419.5" y2="307.2" stroke="#f23645" stroke-width="1" />
<rect x="418.0" y="283.5" width="3.0" height="20.1" fill="#3358f4" fill-opacity="1" />
<line x1="421.5" y1="291.9" x2="421.5" y2="307.2" stroke="#089981" stroke-width="1" />
<rect x="420.0" y="294.5" width="3.0" height="9.1" fill="#3358f4" fill-opacity="1" />
<line x1="424.5" y1="290.8" x2="424.5" y2="300.1" stroke="#f23645" stroke-width="1" />
<rect x="423.0" y="294.5" width="3.0" height="3.5" fill="#3358f4" fill-opacity="1" />
<line x1="426.5" y1="289.6" x2="426.5" y2="302.5" stroke="#089981" stroke-width="1" />
<rect x="425.0" y="291.9" width="3.0" height="6.1" fill="#3358f4" fill-opacity="1" />
<line x1="429.5" y1="276.7" x2="429.5" y2="293.1" stroke="#089981" stroke-width="1" />
<rect x="428.0" y="277.2" width="3.0" height="14.7" fill="#3358f4" fill-opacity="1" />
<line x1="431.5" y1="259.2" x2="431.5" y2="279.1" stroke="#089981" stroke-width="1" />
<rect x="430.0" y="260.8" width="3.0" height="16.4" fill="#3358f4" fill-opacity="1" />
<line x1="434.5" y1="251.0" x2="434.5" y2="269.7" stroke="#089981" stroke-width="1" />
<rect x="433.0" y="257.1" width="3.0" height="3.7" fill="#3358f4" fill-opacity="1" />
<line x1="436.5" y1="249.8" x2="436.5" y2="274.4" stroke="#f23645" stroke-width="1" />
<rect x="435.0" y="257.1" width="3.0" height="16.4" fill="#3358f4" fill-opacity="1" />
<line x1="439.5" y1="272.1" x2="439.5" y2="304.8" stroke="#f23645" stroke-width="1" />
<rect x="438.0" y="273.5" width="3.0" height="29.5" fill="#3358f4" fill-opacity="1" />
<line x1="441.5" y1="280.2" x2="441.5" y2="303.6" stroke="#089981" stroke-width="1" />
<rect x="440.0" y="285.4" width="3.0" height="17.6" fill="#3358f4" fill-opacity="1" />
<line x1="444.5" y1="277.9" x2="444.5" y2="290.8" stroke="#089981" stroke-width="1" />
<rect x="443.0" y="279.1" width="3.0" height="6.3" fill="#3358f4" fill-opacity="1" />
<line x1="446.5" y1="268.6" x2="446.5" y2="280.2" stroke="#089981" stroke-width="1" />
<rect x="445.0" y="270.9" width="3.0" height="8.2" fill="#3358f4" fill-opacity="1" />
<line x1="449.5" y1="248.7" x2="449.5" y2="272.1" stroke="#089981" stroke-width="1" />
<rect x="448.0" y="250.3" width="3.0" height="20.6" fill="#3358f4" fill-opacity="1" />
<line x1="452.5" y1="241.6" x2="452.5" y2="255.7" stroke="#089981" stroke-width="1" />
<rect x="451.0" y="242.8" width="3.0" height="7.5" fill="#3358f4" fill-opacity="1" />
<line x1="454.5" y1="241.6" x2="454.5" y2="273.2" stroke="#f23645" stroke-width="1" />
<rect x="453.0" y="242.8" width="3.0" height="17.5" fill="#3358f4" fill-opacity="1" />
<line x1="457.5" y1="245.1" x2="457.5" y2="261.5" stroke="#089981" stroke-width="1" />
<rect x="456.0" y="248.2" width="3.0" height="12.2" fill="#3358f4" fill-opacity="1" />
<line x1="459.5" y1="238.1" x2="459.5" y2="253.3" stroke="#f23645" stroke-width="1" />
<rect x="458.0" y="248.2" width="3.0" height="4.0" fill="#3358f4" fill-opacity="1" />
<line x1="462.5" y1="246.3" x2="462.5" y2="260.4" stroke="#089981" stroke-width="1" />
<rect x="461.0" y="250.5" width="3.0" height="1.6" fill="#3358f4" fill-opacity="1" />
<line x1="464.5" y1="242.8" x2="464.5" y2="267.4" stroke="#089981" stroke-width="1" />
<rect x="463.0" y="243.3" width="3.0" height="7.3" fill="#3358f4" fill-opacity="1" />
<line x1="467.5" y1="239.3" x2="467.5" y2="251.0" stroke="#089981" stroke-width="1" />
<rect x="466.0" y="242.1" width="3.0" height="1.5" fill="#3358f4" fill-opacity="1" />
<line x1="469.5" y1="240.5" x2="469.5" y2="251.0" stroke="#f23645" stroke-width="1" />
<rect x="468.0" y="242.1" width="3.0" height="5.6" fill="#3358f4" fill-opacity="1" />
<line x1="472.5" y1="246.3" x2="472.5" y2="262.7" stroke="#f23645" stroke-width="1" />
<rect x="471.0" y="247.7" width="3.0" height="3.3" fill="#3358f4" fill-opacity="1" />
<line x1="474.5" y1="245.1" x2="474.5" y2="252.2" stroke="#089981" stroke-width="1" />
<rect x="473.0" y="247.0" width="3.0" height="4.0" fill="#3358f4" fill-opacity="1" />
<line x1="477.5" y1="245.1" x2="477.5" y2="255.7" stroke="#f23645" stroke-width="1" />
<rect x="476.0" y="247.0" width="3.0" height="1.5" fill="#3358f4" fill-opacity="1" />
<line x1="479.5" y1="237.0" x2="479.5" y2="248.7" stroke="#089981" stroke-width="1" />
<rect x="478.0" y="237.9" width="3.0" height="9.6" fill="#3358f4" fill-opacity="1" />
<line x1="482.5" y1="229.9" x2="482.5" y2="241.6" stroke="#089981" stroke-width="1" />
<rect x="481.0" y="235.3" width="3.0" height="2.6" fill="#3358f4" fill-opacity="1" />
<line x1="484.5" y1="232.3" x2="484.5" y2="292.4" stroke="#f23645" stroke-width="1" />
<rect x="483.0" y="235.3" width="3.0" height="21.3" fill="#3358f4" fill-opacity="1" />
<line x1="487.5" y1="229.9" x2="487.5" y2="260.4" stroke="#089981" stroke-width="1" />
<rect x="486.0" y="231.6" width="3.0" height="25.0" fill="#3358f4" fill-opacity="1" />
<line x1="489.5" y1="220.6" x2="489.5" y2="234.6" stroke="#089981" stroke-width="1" />
<rect x="488.0" y="221.5" width="3.0" height="10.1" fill="#3358f4" fill-opacity="1" />
<line x1="492.5" y1="190.2" x2="492.5" y2="222.9" stroke="#089981" stroke-width="1" />
<rect x="491.0" y="192.0" width="3.0" height="29.5" fill="#43a047" fill-opacity="1" />
<line x1="494.5" y1="148.0" x2="494.5" y2="194.8" stroke="#089981" stroke-width="1" />
<rect x="493.0" y="149.9" width="3.0" height="42.1" fill="#43a047" fill-opacity="1" />
<line x1="497.5" y1="143.4" x2="497.5" y2="164.4" stroke="#f23645" stroke-width="1" />
<rect x="496.0" y="149.9" width="3.0" height="4.9" fill="#43a047" fill-opacity="1" />
<line x1="499.5" y1="123.2" x2="499.5" y2="164.4" stroke="#f23645" stroke-width="1" />
<rect x="498.0" y="154.8" width="3.0" height="5.1" fill="#43a047" fill-opacity="1" />
<line x1="502.5" y1="145.7" x2="502.5" y2="176.1" stroke="#089981" stroke-width="1" />
<rect x="501.0" y="148.0" width="3.0" height="11.9" fill="#43a047" fill-opacity="1" />
<line x1="504.5" y1="124.6" x2="504.5" y2="159.7" stroke="#089981" stroke-width="1" />
<rect x="503.0" y="126.0" width="3.0" height="22.0" fill="#43a047" fill-opacity="1" />
<line x1="507.5" y1="95.2" x2="507.5" y2="129.3" stroke="#089981" stroke-width="1" />
<rect x="506.0" y="116.2" width="3.0" height="9.8" fill="#43a047" fill-opacity="1" />
<line x1="510.5" y1="93.8" x2="510.5" y2="124.6" stroke="#089981" stroke-width="1" />
<rect x="509.0" y="103.5" width="3.0" height="12.7" fill="#43a047" fill-opacity="1" />
<line x1="512.5" y1="102.4" x2="512.5" y2="161.7" stroke="#f23645" stroke-width="1" />
<rect x="511.0" y="103.5" width="3.0" height="42.3" fill="#3358f4" fill-opacity="1" />
<polygon points="271.4,260.8 275.4,260.8 273.4,256.4" fill="#ff9800"/>
<polygon points="510.5,102.7 514.5,102.7 512.5,98.3" fill="#ff9800"/>
</g>
<line x1="11" y1="146" x2="591" y2="146" stroke="#2962ff" stroke-width="1" stroke-dasharray="1 2"/>
<text x="315.5" y="286.2" font-size="11.5" fill="#2962ff" text-anchor="start" font-weight="normal" textLength="39" lengthAdjust="spacingAndGlyphs" fill-opacity="0.9">100.00%</text>
<text x="299.5" y="357.7" font-size="9.3" fill="#f23645" text-anchor="start" font-weight="normal" lengthAdjust="spacingAndGlyphs" textLength="16.9">MSB</text>
<text x="42.5" y="464.2" font-size="9.8" fill="#f23645" text-anchor="start" font-weight="normal" lengthAdjust="spacingAndGlyphs" textLength="17.2">MSB</text>
<text x="92.4" y="415.8" font-size="9.3" fill="#4caf50" text-anchor="start" font-weight="normal" lengthAdjust="spacingAndGlyphs" textLength="16.9">MSB</text>
<text x="357.5" y="290.4" font-size="9.3" fill="#4caf50" text-anchor="start" font-weight="normal" lengthAdjust="spacingAndGlyphs" textLength="17">MSB</text>
<text x="290.2" y="364.8" font-size="11.5" fill="#f0254f" text-anchor="start" font-weight="normal" textLength="38.8" lengthAdjust="spacingAndGlyphs">-100.00</text>
<rect x="255.1" y="198.1" width="36.6" height="24.4" rx="3" fill="#880e4f"/>
<polygon points="265.2,222.0 281.2,222.0 273.2,230.8" fill="#880e4f"/>
<text x="273.4" y="213.4" font-size="12" fill="#fff" text-anchor="middle" font-weight="bold" textLength="20" lengthAdjust="spacingAndGlyphs">Sell</text>
<rect x="353.0" y="148.0" width="36.5" height="24.6" rx="3" fill="#880e4f"/>
<polygon points="363.4,172.1 379.4,172.1 371.4,181.0" fill="#880e4f"/>
<text x="371.25" y="163.4" font-size="12" fill="#fff" text-anchor="middle" font-weight="bold" textLength="20" lengthAdjust="spacingAndGlyphs">Sell</text>
<rect x="376.2" y="123.3" width="36.4" height="24.4" rx="3" fill="#880e4f"/>
<polygon points="386.0,147.2 402.0,147.2 394.0,156.0" fill="#880e4f"/>
<text x="394.4" y="138.6" font-size="12" fill="#fff" text-anchor="middle" font-weight="bold" textLength="20" lengthAdjust="spacingAndGlyphs">Sell</text>
<rect x="494.0" y="40.0" width="37.0" height="25.0" rx="3" fill="#880e4f"/>
<polygon points="504.4,64.5 520.4,64.5 512.4,72.6" fill="#880e4f"/>
<text x="512.5" y="55.6" font-size="12" fill="#fff" text-anchor="middle" font-weight="bold" textLength="20" lengthAdjust="spacingAndGlyphs">Sell</text>
<path d="M529,120.2 H584 Q587,120.2 587,123.2 V141.4 Q587,144.4 584,144.4 H529 Q526,144.4 526,141.4 V139 L518.6,132.5 L526,126 V123.2 Q526,120.2 529,120.2 Z" fill="#2962ff"/>
<text x="535.5" y="136.2" font-size="12" fill="#ffffff" text-anchor="start" font-weight="bold" textLength="41.7" lengthAdjust="spacingAndGlyphs">100.00%</text>
<circle cx="512.6" cy="549.4" r="9.6" fill="#fff" stroke="#9c27b0" stroke-width="1.5"/>
<polyline points="515.5,544.4 509.3,549.4 515.9,549.4 509.6,554.5" fill="none" stroke="#9c27b0" stroke-width="1.9" stroke-linejoin="miter"/>
<text x="18.2" y="45.7" font-size="12" fill="#131722" text-anchor="start" font-weight="normal" textLength="45.9" lengthAdjust="spacingAndGlyphs">VNINDEX</text>
<text x="76.6" y="45.7" font-size="12" fill="#131722" text-anchor="start" font-weight="normal" textLength="13.8" lengthAdjust="spacingAndGlyphs">1M</text>
<text x="102.4" y="45.7" font-size="12" fill="#131722" text-anchor="start" font-weight="normal" textLength="27.6" lengthAdjust="spacingAndGlyphs">HOSE</text>
<text x="137.5" y="45.7" font-size="12" fill="#131722" text-anchor="start" font-weight="normal" >O</text>
<text x="146.8" y="45.7" font-size="12" fill="#f23645" text-anchor="start" font-weight="normal" textLength="45.1" lengthAdjust="spacingAndGlyphs">1,880.33</text>
<text x="199.5" y="45.7" font-size="12" fill="#131722" text-anchor="start" font-weight="normal" >H</text>
<text x="208.2" y="45.7" font-size="12" fill="#f23645" text-anchor="start" font-weight="normal" textLength="45.7" lengthAdjust="spacingAndGlyphs">1,885.18</text>
<text x="261.7" y="45.7" font-size="12" fill="#131722" text-anchor="start" font-weight="normal" >L</text>
<text x="267.9" y="45.7" font-size="12" fill="#f23645" text-anchor="start" font-weight="normal" textLength="45.7" lengthAdjust="spacingAndGlyphs">1,631.74</text>
<text x="320.7" y="45.7" font-size="12" fill="#131722" text-anchor="start" font-weight="normal" >C</text>
<text x="329.2" y="45.7" font-size="12" fill="#f23645" text-anchor="start" font-weight="normal" textLength="45.1" lengthAdjust="spacingAndGlyphs">1,699.67</text>
<text x="382.9" y="45.7" font-size="12" fill="#f23645" text-anchor="start" font-weight="normal" textLength="89.8" lengthAdjust="spacingAndGlyphs">−180.66 (−9.61%)</text>
<circle cx="69.8" cy="41.4" r="1.15" fill="#131722"/><circle cx="96.6" cy="41.4" r="1.15" fill="#131722"/>
<rect x="595.5" y="31.3" width="57.0" height="25.2" rx="4" fill="#fff" stroke="#ebebeb" stroke-width="1.2"/>
<text x="604.9" y="48.9" font-size="12" fill="#131722" text-anchor="start" font-weight="normal" textLength="22" lengthAdjust="spacingAndGlyphs">VND</text>
<text x="600.3" y="79.6" font-size="12" fill="#131722" text-anchor="start" font-weight="normal" >2,000.00</text>
<text x="600.3" y="173.19999999999996" font-size="12" fill="#131722" text-anchor="start" font-weight="normal" >1,600.00</text>
<text x="600.3" y="219.99999999999997" font-size="12" fill="#131722" text-anchor="start" font-weight="normal" >1,400.00</text>
<text x="600.3" y="266.8" font-size="12" fill="#131722" text-anchor="start" font-weight="normal" >1,200.00</text>
<text x="600.3" y="313.6" font-size="12" fill="#131722" text-anchor="start" font-weight="normal" >1,000.00</text>
<text x="600.3" y="360.4" font-size="12" fill="#131722" text-anchor="start" font-weight="normal" >800.00</text>
<text x="600.3" y="407.20000000000005" font-size="12" fill="#131722" text-anchor="start" font-weight="normal" >600.00</text>
<text x="600.3" y="454.0" font-size="12" fill="#131722" text-anchor="start" font-weight="normal" >400.00</text>
<text x="600.3" y="500.8" font-size="12" fill="#131722" text-anchor="start" font-weight="normal" >200.00</text>
<text x="600.3" y="547.6" font-size="12" fill="#131722" text-anchor="start" font-weight="normal" >0.00</text>
<path d="M592.0,86.0 H650.1 Q651.6,86.0 651.6,87.5 V101.1 Q651.6,102.6 650.1,102.6 H592.0 Z" fill="#089981"/>
<text x="600.3" y="97.89999999999999" font-size="12" fill="#ffffff" text-anchor="start" font-weight="bold" >1,921.97</text>
<path d="M592.0,104.0 H650.1 Q651.6,104.0 651.6,105.5 V119.1 Q651.6,120.6 650.1,120.6 H592.0 Z" fill="#2962ff"/>
<text x="600.3" y="115.89999999999999" font-size="12" fill="#ffffff" text-anchor="start" font-weight="bold" >1,699.67</text>
<path d="M592.0,120.6 H650.1 Q651.6,120.6 651.6,122.1 V136.5 Q651.6,138.0 650.1,138.0 H592.0 Z" fill="#673ab7"/>
<text x="600.3" y="132.9" font-size="12" fill="#ffffff" text-anchor="start" font-weight="bold" >1,699.67</text>
<path d="M592.0,138.0 H650.1 Q651.6,138.0 651.6,139.5 V167.0 Q651.6,168.5 650.1,168.5 H592.0 Z" fill="#2962ff"/>
<text x="600.3" y="149.8" font-size="12" fill="#ffffff" text-anchor="start" font-weight="bold" >1,699.67</text>
<text x="600.3" y="163.4" font-size="12" fill="#ffffff" text-anchor="start" font-weight="bold" fill-opacity="0.8">12d 5h</text>
<path d="M592.0,186.0 H650.1 Q651.6,186.0 651.6,187.5 V201.0 Q651.6,202.5 650.1,202.5 H592.0 Z" fill="#2962ff"/>
<text x="600.3" y="197.85" font-size="12" fill="#ffffff" text-anchor="start" font-weight="bold" >1,493.55</text>
<path d="M592.0,202.5 H650.1 Q651.6,202.5 651.6,204.0 V218.0 Q651.6,219.5 650.1,219.5 H592.0 Z" fill="#2a2a2a"/>
<text x="600.3" y="214.6" font-size="12" fill="#ffffff" text-anchor="start" font-weight="bold" >1,476.82</text>
<path d="M592.0,294.0 H650.1 Q651.6,294.0 651.6,295.5 V309.0 Q651.6,310.5 650.1,310.5 H592.0 Z" fill="#089981"/>
<text x="600.3" y="305.85" font-size="12" fill="#ffffff" text-anchor="start" font-weight="bold" >1,031.67</text>
<path d="M592.0,486.3 H643.0 Q644.5,486.3 644.5,487.8 V500.9 Q644.5,502.4 643.0,502.4 H592.0 Z" fill="#2962ff"/>
<text x="600.3" y="497.95000000000005" font-size="12" fill="#ffffff" text-anchor="start" font-weight="bold" >18.59 B</text>
<path d="M592.0,502.4 H636.0 Q637.5,502.4 637.5,503.9 V518.3 Q637.5,519.8 636.0,519.8 H592.0 Z" fill="#ef5350"/>
<text x="600.3" y="514.6999999999999" font-size="12" fill="#ffffff" text-anchor="start" font-weight="bold" >15.3 B</text>
<text x="23.5" y="580" font-size="12" fill="#131722" text-anchor="middle" font-weight="bold" >2010</text>
<text x="84.0" y="580" font-size="12" fill="#131722" text-anchor="middle" font-weight="bold" >2012</text>
<text x="144.5" y="580" font-size="12" fill="#131722" text-anchor="middle" font-weight="bold" >2014</text>
<text x="205.0" y="580" font-size="12" fill="#131722" text-anchor="middle" font-weight="bold" >2016</text>
<text x="265.5" y="580" font-size="12" fill="#131722" text-anchor="middle" font-weight="bold" >2018</text>
<text x="326.0" y="580" font-size="12" fill="#131722" text-anchor="middle" font-weight="bold" >2020</text>
<text x="386.5" y="580" font-size="12" fill="#131722" text-anchor="middle" font-weight="bold" >2022</text>
<text x="447.0" y="580" font-size="12" fill="#131722" text-anchor="middle" font-weight="bold" >2024</text>
<text x="507.5" y="580" font-size="12" fill="#131722" text-anchor="middle" font-weight="bold" >2026</text>
<text x="568.0" y="580" font-size="12" fill="#131722" text-anchor="middle" font-weight="bold" >2028</text>
<path d="M12,612 H23.8 V626.8 H18 V617.8 H12 Z" fill="#131313"/>
<circle cx="29" cy="615" r="2.9" fill="#131313"/>
<polygon points="35.2,612 41.8,612 35.8,626.8 29.2,626.8" fill="#131313"/>
<text x="48.8" y="626.8" font-size="20.3" fill="#131313" text-anchor="start" font-weight="bold" textLength="120.4" lengthAdjust="spacingAndGlyphs">TradingView</text>
</svg></body></html>
